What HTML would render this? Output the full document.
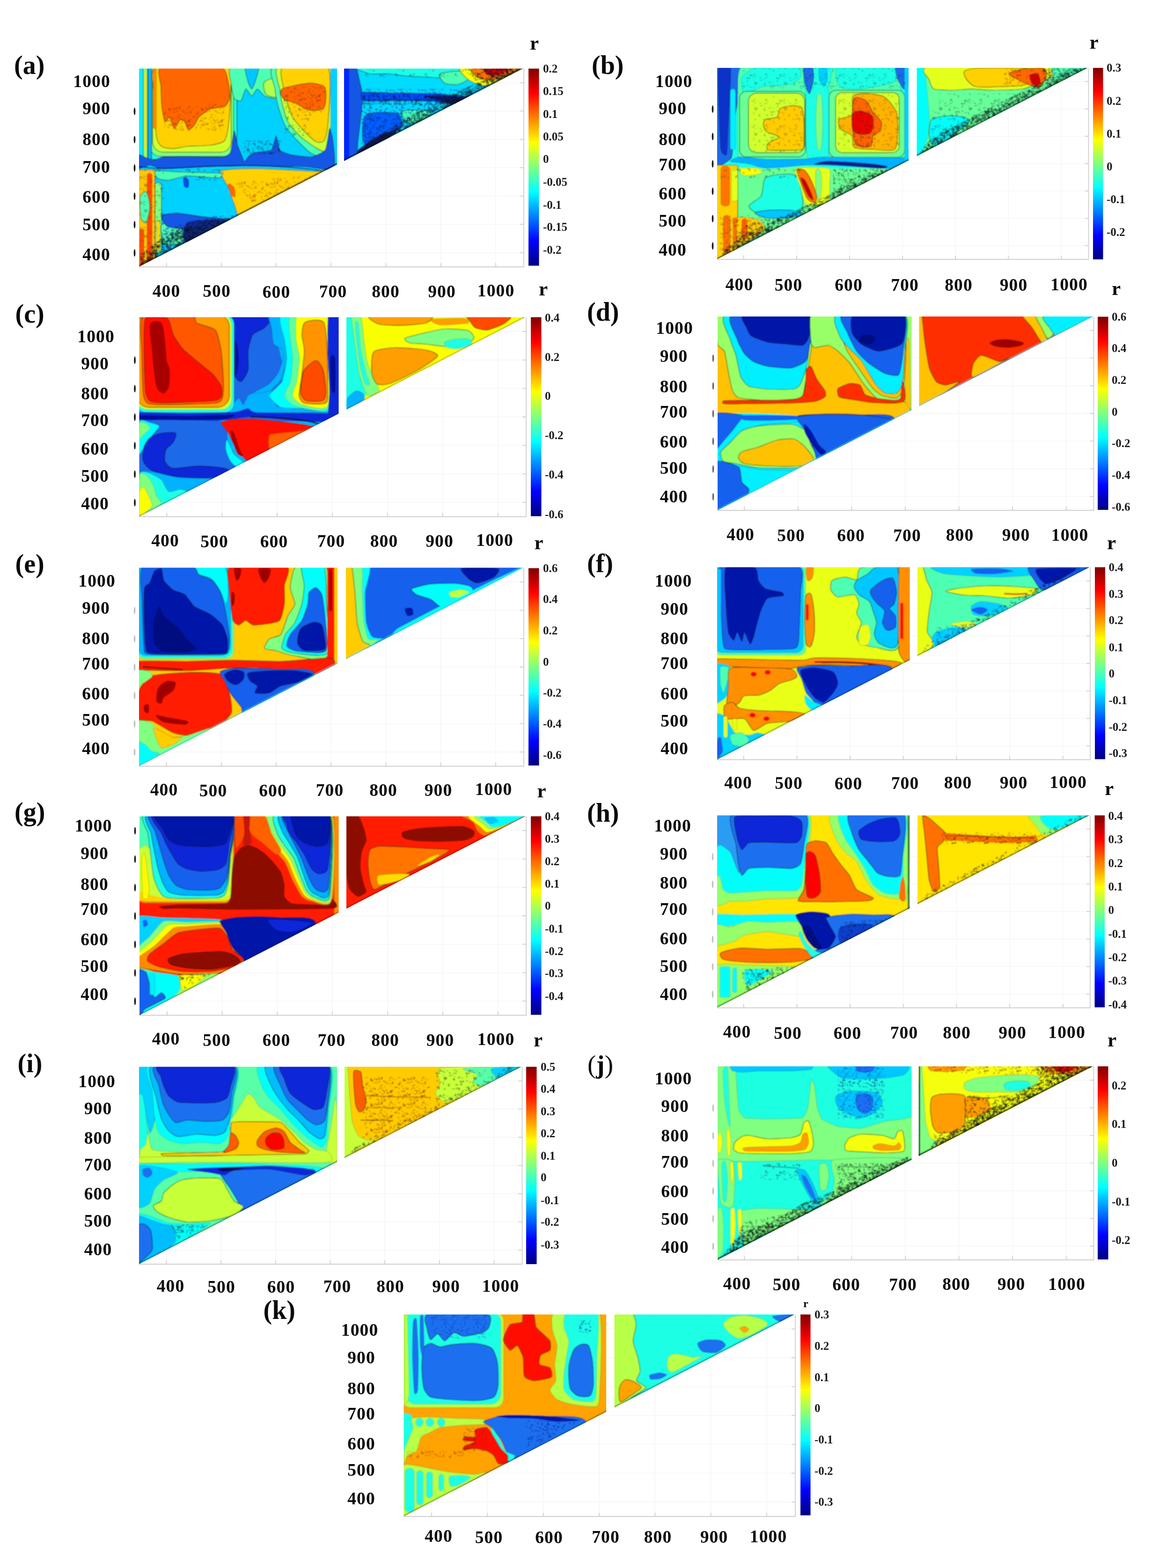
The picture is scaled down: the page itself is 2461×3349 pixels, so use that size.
<!DOCTYPE html>
<html lang="en">
<head>
<meta charset="utf-8">
<title>Correlation contour maps (a)-(k)</title>
<style>
html,body{margin:0;padding:0;background:#fff}
svg{display:block}
text{font-family:"Liberation Serif","Times New Roman",serif;font-weight:bold;fill:#0a0a0a;filter:blur(0.45px)}
.t{font-size:37.5px;letter-spacing:1.2px}
.c{font-size:25px;fill:#1a1a1a}
.p{font-size:56px}
</style>
</head>
<body>
<svg width="2461" height="3349" viewBox="0 0 2461 3349">
<defs>
<linearGradient id="jet" x1="0" y1="1" x2="0" y2="0">
<stop offset="0" stop-color="#000080"/>
<stop offset="0.0312" stop-color="#00009f"/>
<stop offset="0.0625" stop-color="#0000bf"/>
<stop offset="0.0938" stop-color="#0000df"/>
<stop offset="0.125" stop-color="#0000ff"/>
<stop offset="0.1562" stop-color="#0020ff"/>
<stop offset="0.1875" stop-color="#0040ff"/>
<stop offset="0.2188" stop-color="#0060ff"/>
<stop offset="0.25" stop-color="#0080ff"/>
<stop offset="0.2812" stop-color="#009fff"/>
<stop offset="0.3125" stop-color="#00bfff"/>
<stop offset="0.3438" stop-color="#00dfff"/>
<stop offset="0.375" stop-color="#00ffff"/>
<stop offset="0.4062" stop-color="#20ffdf"/>
<stop offset="0.4375" stop-color="#40ffbf"/>
<stop offset="0.4688" stop-color="#60ff9f"/>
<stop offset="0.5" stop-color="#80ff80"/>
<stop offset="0.5312" stop-color="#9fff60"/>
<stop offset="0.5625" stop-color="#bfff40"/>
<stop offset="0.5938" stop-color="#dfff20"/>
<stop offset="0.625" stop-color="#ffff00"/>
<stop offset="0.6562" stop-color="#ffdf00"/>
<stop offset="0.6875" stop-color="#ffbf00"/>
<stop offset="0.7188" stop-color="#ff9f00"/>
<stop offset="0.75" stop-color="#ff8000"/>
<stop offset="0.7812" stop-color="#ff6000"/>
<stop offset="0.8125" stop-color="#ff4000"/>
<stop offset="0.8438" stop-color="#ff2000"/>
<stop offset="0.875" stop-color="#ff0000"/>
<stop offset="0.9062" stop-color="#df0000"/>
<stop offset="0.9375" stop-color="#bf0000"/>
<stop offset="0.9688" stop-color="#9f0000"/>
<stop offset="1" stop-color="#800000"/>
</linearGradient>
<filter id="soft" x="0" y="0" width="100%" height="100%" filterUnits="objectBoundingBox"><feGaussianBlur stdDeviation="1.1"/></filter>
<pattern id="mot" width="131" height="113" patternUnits="userSpaceOnUse"><path d="M92 54h2v7h-2zM26 6h3v5h-3zM63 34h8v2h-8zM95 100h2v9h-2zM52 92h9v3h-9zM35 82h3v3h-3zM32 21h8v3h-8zM76 32h4v7h-4zM103 83h10v4h-10zM100 15h5v2h-5zM53 64h3v11h-3zM56 57h3v9h-3zM35 70h4v2h-4zM87 71h6v3h-6zM66 103h3v4h-3zM105 49h11v2h-11zM96 34h3v3h-3zM71 73h2v11h-2zM55 11h6v3h-6zM102 82h7v2h-7zM32 4h10v4h-10zM125 0h11v3h-11zM114 31h2v5h-2zM38 66h2v10h-2zM21 70h2v5h-2zM59 72h4v7h-4zM32 80h9v4h-9zM28 12h11v4h-11zM49 49h12v2h-12zM2 68h10v3h-10zM80 82h2v10h-2zM60 70h9v4h-9zM78 7h10v4h-10zM107 10h9v3h-9zM58 63h8v4h-8zM107 46h2v3h-2zM74 94h2v6h-2zM126 25h6v2h-6zM119 28h7v2h-7zM126 78h6v3h-6zM106 85h12v2h-12zM100 6h12v2h-12zM106 6h2v9h-2zM115 91h4v4h-4zM20 21h5v4h-5zM119 4h9v3h-9zM84 56h3v2h-3zM71 10h4v4h-4zM53 48h7v3h-7zM22 6h2v8h-2zM114 24h10v2h-10zM105 31h3v3h-3zM96 4h3v3h-3zM49 95h12v3h-12zM92 34h12v2h-12zM67 95h3v7h-3zM76 0h4v4h-4zM6 105h10v4h-10zM119 99h7v3h-7zM126 16h2v3h-2zM77 105h2v12h-2zM60 41h3v8h-3zM20 65h5v2h-5zM104 8h3v11h-3zM83 20h2v4h-2zM67 79h4v3h-4zM127 90h2v6h-2zM34 53h6v4h-6zM31 99h3v7h-3zM68 47h7v2h-7zM112 31h6v2h-6zM72 74h4v3h-4zM64 31h6v4h-6zM25 83h3v2h-3zM1 60h2v10h-2zM95 5h2v4h-2zM12 24h4v6h-4zM19 47h5v3h-5zM66 99h2v4h-2zM89 27h8v2h-8zM11 26h2v12h-2zM52 104h8v3h-8zM95 23h2v6h-2zM8 101h10v2h-10zM104 12h4v11h-4zM39 81h5v3h-5zM69 52h4v7h-4zM106 6h12v3h-12zM106 53h8v4h-8zM50 50h2v3h-2zM111 20h4v3h-4zM93 58h2v3h-2zM13 70h9v2h-9zM94 94h5v3h-5zM72 20h4v2h-4zM98 62h2v7h-2zM32 107h3v8h-3zM13 77h3v4h-3zM41 81h2v12h-2zM103 78h3v5h-3zM55 5h11v2h-11zM98 45h6v4h-6zM49 5h4v3h-4zM82 15h10v4h-10zM78 83h12v2h-12zM108 49h3v11h-3zM112 22h12v3h-12zM119 30h12v3h-12zM45 103h4v2h-4zM32 45h4v3h-4zM10 5h2v8h-2zM20 6h3v5h-3zM6 109h12v4h-12zM28 24h10v3h-10zM42 87h2v4h-2zM89 78h2v8h-2zM70 104h7v4h-7zM122 26h12v4h-12zM60 40h6v2h-6zM103 20h3v8h-3zM96 21h3v4h-3zM12 81h3v11h-3zM26 32h4v9h-4zM95 33h8v4h-8zM37 46h4v3h-4zM58 22h2v7h-2zM64 39h4v8h-4zM0 95h5v3h-5zM110 53h3v2h-3zM125 29h2v3h-2zM13 0h7v2h-7zM91 68h12v3h-12zM34 26h10v2h-10zM34 1h2v5h-2zM115 12h5v4h-5zM69 51h2v3h-2zM89 76h3v12h-3zM126 31h3v2h-3zM15 68h5v2h-5zM40 7h2v3h-2z" fill="#0c1420"/></pattern>
<pattern id="mot2" width="127" height="109" patternUnits="userSpaceOnUse"><path d="M4 44h11v2h-11zM111 57h4v8h-4zM21 59h7v4h-7zM29 16h6v4h-6zM24 34h12v2h-12zM92 19h4v8h-4zM77 66h6v3h-6zM122 24h4v2h-4zM123 84h9v2h-9zM18 101h7v3h-7zM35 25h4v3h-4zM26 49h3v3h-3zM109 101h6v4h-6zM80 37h5v3h-5zM77 94h6v3h-6zM89 73h9v2h-9zM85 92h4v12h-4zM109 29h4v4h-4zM58 55h4v3h-4zM31 100h5v3h-5zM108 54h3v4h-3zM109 52h5v4h-5zM41 99h10v2h-10zM4 32h5v4h-5zM100 25h4v4h-4zM58 69h10v4h-10zM2 81h3v11h-3zM43 52h3v6h-3zM87 23h4v4h-4zM78 45h3v7h-3zM48 51h4v3h-4zM117 53h4v8h-4zM74 33h7v4h-7zM51 67h3v10h-3zM27 21h4v4h-4zM24 60h4v6h-4zM104 18h9v3h-9zM37 97h5v3h-5zM45 100h3v9h-3zM87 32h4v5h-4zM61 0h3v8h-3zM31 83h10v3h-10zM54 79h4v8h-4zM19 38h2v4h-2zM105 72h2v11h-2zM106 44h2v3h-2z" fill="#101828"/></pattern>
<pattern id="motd" width="149" height="101" patternUnits="userSpaceOnUse"><path d="M96 84h2v3h-2zM64 2h9v2h-9zM59 45h9v4h-9zM71 38h3v6h-3zM145 20h7v2h-7zM76 36h3v3h-3zM63 20h12v4h-12zM115 27h6v4h-6zM92 5h3v5h-3zM111 17h3v3h-3zM28 19h2v5h-2zM77 19h8v2h-8zM43 59h2v9h-2zM86 82h4v9h-4zM85 4h6v4h-6zM3 4h12v2h-12zM110 89h3v2h-3zM81 8h2v10h-2zM34 67h5v2h-5zM138 18h4v11h-4zM28 67h10v2h-10zM89 27h2v4h-2zM69 90h7v3h-7zM17 5h3v3h-3zM142 46h8v4h-8zM10 83h7v4h-7zM84 88h7v3h-7zM108 40h9v2h-9zM99 97h9v2h-9zM1 30h3v12h-3zM96 30h4v4h-4zM22 79h4v3h-4zM103 88h10v4h-10zM80 58h2v10h-2zM120 65h11v3h-11zM60 80h3v8h-3zM16 50h3v12h-3zM82 9h4v6h-4zM67 33h3v8h-3zM133 75h6v2h-6zM16 96h11v2h-11zM135 21h2v5h-2zM39 84h3v3h-3zM97 46h3v4h-3zM104 19h3v4h-3zM93 45h4v11h-4zM77 57h3v9h-3zM74 57h3v10h-3zM44 97h3v4h-3zM33 46h6v4h-6zM94 66h9v3h-9zM4 71h12v3h-12zM14 75h11v3h-11zM82 32h10v2h-10zM134 81h4v2h-4zM32 54h3v12h-3zM95 5h3v8h-3zM10 91h3v9h-3zM65 45h12v2h-12zM49 91h4v4h-4zM52 42h2v10h-2zM97 50h10v4h-10zM6 13h10v3h-10zM111 53h2v4h-2zM112 50h11v2h-11zM59 94h11v2h-11zM75 70h9v3h-9zM30 11h4v4h-4zM3 13h6v4h-6zM116 7h2v8h-2zM123 7h9v4h-9zM35 52h4v5h-4zM82 42h3v2h-3zM137 35h4v3h-4zM98 32h3v11h-3zM101 65h4v3h-4zM78 38h9v3h-9zM138 32h5v2h-5zM53 68h3v10h-3zM36 46h3v6h-3zM116 90h3v4h-3zM80 1h9v4h-9zM82 4h10v3h-10zM51 90h12v4h-12zM116 51h3v6h-3zM52 7h4v2h-4zM35 9h3v5h-3zM3 92h5v3h-5zM56 86h4v7h-4zM54 68h2v6h-2zM132 12h6v2h-6zM12 53h7v4h-7zM113 87h3v4h-3zM34 5h10v3h-10zM59 74h4v11h-4zM39 39h3v11h-3zM54 19h4v6h-4zM100 4h5v4h-5zM74 28h4v4h-4zM50 59h5v3h-5zM85 86h3v3h-3zM31 84h4v11h-4zM134 9h8v2h-8zM127 11h7v3h-7zM138 96h5v3h-5zM69 98h2v12h-2zM76 4h4v2h-4zM88 24h4v7h-4zM12 22h10v3h-10zM63 42h2v4h-2zM76 8h3v4h-3zM141 14h4v9h-4zM118 4h11v4h-11zM24 52h2v9h-2zM90 9h5v3h-5zM43 84h3v3h-3zM122 38h4v2h-4zM61 14h7v4h-7zM138 15h6v2h-6zM145 68h7v3h-7zM50 36h6v2h-6zM61 93h4v6h-4zM24 1h3v3h-3zM53 88h2v5h-2zM39 33h3v9h-3zM132 14h4v2h-4zM55 29h11v4h-11zM15 31h8v2h-8zM10 27h4v5h-4zM77 43h10v4h-10zM46 1h9v3h-9zM8 11h2v11h-2zM42 19h2v6h-2zM50 28h4v4h-4zM0 61h11v3h-11zM17 96h2v6h-2zM12 46h2v8h-2zM41 63h4v10h-4zM34 33h3v3h-3zM119 87h9v3h-9zM131 38h4v11h-4zM29 8h3v6h-3zM61 25h11v2h-11zM126 73h4v3h-4zM100 84h4v8h-4zM97 51h2v8h-2zM109 39h10v4h-10zM4 14h3v9h-3zM105 77h5v3h-5zM139 27h9v3h-9zM8 37h7v2h-7zM113 52h2v4h-2zM55 87h3v5h-3zM99 34h5v3h-5zM42 28h12v3h-12zM78 63h11v4h-11zM48 20h3v2h-3zM44 13h3v12h-3zM64 94h4v4h-4zM131 85h7v4h-7zM106 9h8v3h-8zM68 37h9v4h-9zM15 83h8v4h-8zM4 7h4v4h-4zM142 48h11v2h-11zM117 4h3v5h-3zM1 34h12v4h-12zM130 5h2v12h-2zM71 80h3v11h-3zM6 53h9v4h-9zM21 86h3v8h-3zM71 41h12v3h-12zM12 68h5v2h-5zM132 7h11v2h-11zM79 6h9v3h-9zM47 34h10v2h-10zM82 56h7v3h-7zM100 40h10v3h-10zM28 26h4v10h-4zM128 52h3v3h-3zM38 35h3v11h-3zM105 96h9v3h-9zM101 67h4v4h-4zM66 57h2v11h-2zM145 39h8v3h-8zM62 8h2v12h-2zM105 91h7v2h-7zM45 92h4v4h-4zM103 50h4v8h-4zM102 50h8v3h-8zM47 91h4v11h-4zM105 85h3v5h-3zM54 43h3v4h-3zM128 0h4v6h-4zM110 51h7v4h-7zM33 19h6v4h-6zM31 36h4v9h-4zM73 16h4v9h-4zM70 91h12v4h-12zM130 34h2v7h-2zM24 46h2v8h-2zM5 89h4v3h-4zM55 0h5v3h-5zM70 64h10v4h-10zM142 76h2v11h-2zM119 14h7v4h-7zM87 42h6v2h-6zM142 26h12v4h-12zM7 28h2v11h-2zM68 54h7v4h-7zM22 74h9v4h-9zM104 28h2v8h-2zM136 42h3v4h-3zM122 73h10v4h-10zM116 24h6v2h-6zM103 21h6v2h-6zM132 2h6v4h-6zM50 98h11v4h-11zM75 95h2v12h-2zM4 8h9v2h-9zM137 33h5v4h-5zM80 45h3v4h-3zM44 88h3v4h-3zM116 98h4v2h-4zM93 60h4v3h-4zM81 60h2v4h-2zM135 72h9v2h-9zM90 32h2v7h-2zM132 55h4v9h-4zM41 55h3v2h-3zM54 93h9v2h-9zM2 11h3v2h-3zM136 9h3v12h-3zM143 59h6v2h-6zM62 26h3v4h-3zM25 75h2v10h-2zM116 73h10v2h-10zM145 92h3v5h-3zM102 83h4v6h-4zM120 88h4v5h-4zM30 63h4v4h-4zM61 29h12v4h-12zM57 81h4v3h-4zM62 12h2v3h-2zM9 59h6v2h-6zM11 71h3v7h-3zM10 19h10v2h-10zM24 23h11v2h-11zM131 41h9v2h-9zM18 3h4v4h-4zM143 79h4v4h-4zM13 84h7v3h-7zM101 85h6v2h-6zM47 64h3v6h-3zM31 90h2v9h-2zM28 78h4v11h-4zM90 86h6v2h-6zM22 47h7v3h-7zM37 63h3v6h-3zM1 10h4v4h-4zM54 66h9v4h-9zM53 97h2v3h-2zM15 91h4v5h-4zM110 7h7v3h-7zM65 90h7v3h-7zM7 41h5v3h-5zM41 83h3v12h-3zM83 35h2v9h-2zM137 2h11v3h-11zM84 0h2v8h-2zM20 68h3v3h-3zM108 80h4v4h-4zM31 58h11v2h-11zM137 31h3v11h-3zM22 82h7v2h-7zM66 55h2v12h-2zM112 78h4v7h-4zM100 31h3v2h-3zM53 82h12v2h-12zM17 76h9v3h-9zM19 8h4v3h-4zM18 46h11v2h-11zM126 82h4v7h-4zM115 22h3v7h-3zM101 52h2v10h-2zM24 58h6v2h-6zM99 28h6v3h-6zM85 35h2v4h-2zM22 20h4v12h-4zM79 84h3v2h-3zM123 12h2v9h-2zM65 83h12v2h-12zM15 8h7v2h-7zM90 46h5v2h-5zM94 94h8v2h-8zM133 84h6v2h-6zM73 97h3v2h-3zM49 28h3v6h-3zM120 33h2v4h-2zM96 47h3v3h-3zM112 62h10v4h-10zM125 11h10v3h-10zM44 29h3v2h-3zM48 8h10v3h-10zM61 43h4v4h-4zM56 61h4v12h-4zM96 14h9v4h-9zM14 30h11v3h-11zM54 12h7v3h-7zM117 93h10v4h-10zM81 12h8v2h-8zM30 90h3v7h-3zM46 65h11v2h-11zM120 87h4v6h-4zM127 85h4v8h-4zM37 49h3v3h-3zM94 84h2v6h-2zM4 76h4v3h-4zM55 4h5v2h-5zM77 95h6v2h-6zM102 3h2v8h-2zM123 29h8v4h-8zM125 86h4v6h-4zM49 60h10v3h-10zM57 96h9v2h-9zM87 52h2v12h-2zM95 98h3v2h-3zM66 77h11v4h-11zM98 17h11v2h-11zM70 53h5v4h-5zM34 74h3v2h-3zM59 54h12v3h-12zM104 32h4v6h-4zM38 95h9v2h-9zM13 55h2v3h-2zM74 9h5v2h-5zM107 9h7v4h-7zM131 74h6v3h-6zM135 75h3v11h-3zM142 24h12v3h-12zM97 23h3v6h-3zM105 46h3v4h-3zM14 79h2v8h-2zM2 56h5v3h-5zM83 29h2v6h-2zM138 52h5v4h-5zM59 47h3v9h-3zM126 98h6v4h-6zM55 34h11v2h-11zM103 78h4v3h-4zM116 42h8v3h-8zM111 40h10v4h-10zM4 86h2v9h-2zM94 14h3v11h-3zM52 81h12v2h-12zM94 98h4v7h-4zM41 8h4v12h-4zM11 25h4v11h-4zM105 92h3v2h-3zM1 22h6v2h-6z" fill="#0a1018"/></pattern>
<pattern id="motb" width="137" height="103" patternUnits="userSpaceOnUse"><path d="M65 49h4v7h-4zM4 47h2v8h-2zM3 35h3v10h-3zM41 88h4v2h-4zM53 7h2v5h-2zM79 29h9v3h-9zM31 93h2v5h-2zM22 98h3v6h-3zM10 95h9v3h-9zM23 80h2v12h-2zM32 38h3v2h-3zM31 4h5v2h-5zM118 20h6v4h-6zM91 86h2v8h-2zM30 55h9v3h-9zM114 29h3v4h-3zM44 21h5v3h-5zM15 57h3v3h-3zM3 57h3v4h-3zM86 84h5v2h-5zM132 18h9v2h-9zM1 64h4v11h-4zM1 46h6v4h-6zM97 93h3v10h-3zM41 40h2v7h-2zM54 85h2v12h-2zM83 40h4v7h-4zM86 20h11v3h-11zM70 10h3v2h-3zM109 97h9v3h-9zM129 54h2v4h-2zM34 13h4v4h-4zM111 56h3v4h-3zM114 83h3v3h-3zM76 27h7v3h-7zM94 26h4v11h-4zM109 98h7v3h-7zM81 51h4v10h-4zM30 5h2v7h-2zM13 77h4v5h-4zM90 81h2v7h-2zM129 4h3v2h-3zM20 4h12v3h-12zM20 93h12v2h-12zM34 82h2v5h-2zM128 33h5v2h-5zM121 100h7v2h-7zM56 20h4v7h-4zM16 80h12v3h-12zM54 12h10v3h-10zM15 95h10v3h-10zM50 33h4v4h-4zM81 51h2v10h-2zM120 63h4v8h-4zM25 70h12v3h-12zM41 43h3v9h-3zM28 17h7v3h-7zM98 73h8v2h-8zM81 26h7v3h-7zM94 72h4v8h-4zM123 81h5v3h-5zM48 77h7v4h-7zM62 90h2v9h-2zM2 26h6v4h-6zM129 84h6v4h-6zM28 87h4v2h-4zM0 34h9v2h-9zM71 40h4v3h-4zM131 53h12v4h-12zM46 1h5v2h-5zM26 26h3v12h-3zM131 41h3v9h-3zM6 8h9v2h-9zM69 65h8v4h-8zM5 3h3v12h-3zM98 20h8v4h-8zM34 45h3v7h-3zM36 20h5v2h-5zM31 20h12v4h-12zM24 71h10v4h-10zM3 93h9v2h-9zM60 96h8v2h-8zM23 61h9v3h-9zM121 97h3v3h-3zM128 30h4v5h-4zM50 8h8v2h-8zM86 83h7v2h-7zM131 99h2v5h-2zM44 39h4v4h-4zM131 54h4v3h-4zM127 15h4v5h-4zM14 36h8v2h-8zM26 66h4v6h-4zM130 51h6v3h-6zM66 84h6v3h-6zM0 89h9v2h-9zM50 52h7v3h-7zM85 31h8v2h-8zM9 51h9v2h-9zM39 10h11v2h-11zM67 80h11v4h-11zM125 32h10v4h-10zM114 37h12v3h-12zM32 18h9v2h-9zM6 89h3v4h-3zM19 14h2v3h-2zM56 74h3v8h-3zM43 89h3v7h-3zM41 56h3v2h-3zM23 69h2v5h-2z" fill="#0a2aa8"/></pattern>
<pattern id="motr" width="139" height="107" patternUnits="userSpaceOnUse"><path d="M81 28h3v9h-3zM71 19h12v2h-12zM41 60h6v3h-6zM128 62h2v6h-2zM113 4h4v12h-4zM26 68h7v4h-7zM58 73h8v3h-8zM26 61h4v5h-4zM78 19h4v2h-4zM12 25h4v3h-4zM64 11h5v3h-5zM0 38h2v8h-2zM62 100h3v4h-3zM57 1h4v3h-4zM125 99h6v2h-6zM89 4h9v3h-9zM100 28h4v4h-4zM131 95h9v4h-9zM135 96h5v3h-5zM104 27h4v6h-4zM118 73h4v11h-4zM30 10h3v3h-3zM3 33h4v5h-4zM49 60h3v9h-3zM52 18h4v3h-4zM75 2h8v4h-8zM59 43h3v4h-3zM20 36h7v3h-7zM41 14h4v3h-4zM6 99h3v5h-3zM101 81h9v2h-9zM30 66h10v3h-10zM98 13h6v3h-6zM51 41h9v3h-9zM132 96h4v4h-4zM10 83h6v2h-6zM112 49h3v8h-3zM39 77h9v2h-9zM69 30h3v3h-3zM20 4h4v7h-4zM112 90h2v4h-2zM103 38h3v3h-3zM93 16h2v3h-2zM6 19h4v2h-4zM49 77h5v3h-5zM106 56h6v3h-6zM12 72h2v11h-2zM104 39h4v2h-4zM109 8h6v4h-6zM71 86h5v4h-5zM111 2h12v3h-12zM76 70h11v2h-11zM24 102h8v2h-8zM94 14h11v3h-11zM78 47h11v3h-11zM61 55h3v12h-3zM52 17h4v5h-4zM3 10h5v3h-5zM66 88h2v9h-2zM118 22h2v7h-2zM26 23h11v4h-11zM107 5h3v9h-3zM108 25h11v4h-11zM73 51h3v11h-3zM101 24h5v4h-5zM86 71h4v2h-4zM19 91h5v3h-5zM68 100h8v3h-8zM94 102h2v11h-2zM45 21h12v4h-12zM54 61h4v4h-4zM39 18h2v8h-2zM73 38h6v3h-6zM3 55h10v2h-10zM112 80h3v2h-3zM58 51h3v4h-3zM25 59h4v11h-4zM23 31h6v2h-6zM95 73h2v12h-2zM5 80h4v10h-4zM37 104h11v3h-11zM68 44h6v2h-6zM85 76h6v3h-6zM83 6h3v11h-3zM26 4h7v4h-7zM70 55h3v10h-3zM118 59h3v4h-3zM44 103h5v2h-5zM34 26h8v2h-8zM85 93h3v4h-3zM44 104h2v10h-2zM19 8h3v3h-3zM105 64h3v6h-3zM35 99h9v2h-9zM86 39h3v9h-3z" fill="#8a1a08"/></pattern>
<clipPath id="cp_a"><path d="M297 146.5L720 146.5L720 351.7L297 570ZM735 146.5L1117.5 146.5L735 343.9Z"/></clipPath>
<clipPath id="cp_b"><path d="M1532 145L1941 145L1941 342.8L1532 554ZM1958.5 145L2324 145L1958.5 333.7Z"/></clipPath>
<clipPath id="cp_c"><path d="M297.5 677.5L723.5 677.5L723.5 883.5L297.5 1103.5ZM740 677.5L1122.5 677.5L740 875Z"/></clipPath>
<clipPath id="cp_d"><path d="M1533 676L1947.5 676L1947.5 876L1533 1090ZM1963.5 676L2335 676L1963.5 867.8Z"/></clipPath>
<clipPath id="cp_e"><path d="M297 1212.5L721 1212.5L721 1417.4L297 1636.5ZM739 1212.5L1117.5 1212.5L739 1408.1Z"/></clipPath>
<clipPath id="cp_f"><path d="M1532 1211.5L1943.5 1211.5L1943.5 1409.9L1532 1622.5ZM1960 1211.5L2327.5 1211.5L1960 1401.4Z"/></clipPath>
<clipPath id="cp_g"><path d="M298 1743.5L723.5 1743.5L723.5 1949.2L298 2168.5ZM740 1743.5L1122.5 1743.5L740 1940.7Z"/></clipPath>
<clipPath id="cp_h"><path d="M1532 1741.5L1943.5 1741.5L1943.5 1939.9L1532 2152.5ZM1960 1741.5L2327.5 1741.5L1960 1931.4Z"/></clipPath>
<clipPath id="cp_i"><path d="M297 2278.5L720 2278.5L720 2481.8L297 2700ZM736 2278.5L1114 2278.5L736 2473.5Z"/></clipPath>
<clipPath id="cp_j"><path d="M1533 2277.5L1947.5 2277.5L1947.5 2477.3L1533 2691ZM1962.5 2277.5L2335 2277.5L1962.5 2469.6Z"/></clipPath>
<clipPath id="cp_k"><path d="M862.5 2807.5L1295 2807.5L1295 3015.5L862.5 3239ZM1312.5 2807.5L1697.5 2807.5L1312.5 3006.5Z"/></clipPath>
</defs>
<rect width="2461" height="3349" fill="#fff"/>
<!-- panel a -->
<g>
<path d="M355.6 146.5V570M297 539.8H1119M472.8 146.5V570M297 479.2H1119M590 146.5V570M297 418.8H1119M707.2 146.5V570M297 358.2H1119M824.5 146.5V570M297 297.8H1119M941.7 146.5V570M297 237.2H1119M1058.9 146.5V570M297 176.8H1119" stroke="#f5f5f5" stroke-width="1.4" fill="none"/>
<path d="M297 570H1119V146.5M355.6 570v-8M1119 539.8h-8M472.8 570v-8M1119 479.2h-8M590 570v-8M1119 418.8h-8M707.2 570v-8M1119 358.2h-8M824.5 570v-8M1119 297.8h-8M941.7 570v-8M1119 237.2h-8M1058.9 570v-8M1119 176.8h-8" stroke="#cfcfcf" stroke-width="1.8" fill="none"/>
<g clip-path="url(#cp_a)"><g filter="url(#soft)">
<rect x="290" y="140" width="840" height="440" fill="#00d1ff"/>
<g transform="translate(0 40) scale(0.5)">
<rect x="580" y="190" width="432" height="410" rx="30" fill="#1affe5" stroke="#111" stroke-width="2.5" stroke-opacity="0.75"/>
<rect x="640" y="190" width="358" height="398" rx="45" fill="#80ff80" stroke="#111" stroke-width="2.5" stroke-opacity="0.75"/>
<rect x="652" y="190" width="336" height="380" rx="45" fill="#d1ff2e" stroke="#111" stroke-width="2.5" stroke-opacity="0.75"/>
<path d="M668 200C704.5 182.5 938 188.3 975 200C1012 211.7 984.6 272 985 300C985.4 328 980.9 414.3 978 440C975.1 465.7 969.1 508.3 960 520C950.9 531.7 918.7 537.1 900 540C881.3 542.9 818.7 543.2 800 545C781.3 546.8 752.8 555 740 555C727.2 555 698.4 551.4 690 545C681.6 538.6 671.3 522.8 668 500C664.7 477.2 662 385 662 350C662 315 631.5 217.5 668 200Z" fill="#ffd100" stroke="#111" stroke-width="2.5" stroke-opacity="0.75"/>
<path d="M690 205C715.2 196.5 911.5 198.5 940 205C968.5 211.5 971 256.5 975 270C979 283.5 981.5 329.5 980 340C978.5 350.5 968 370.5 960 375C952 379.5 911 380.5 900 385C889 389.5 857 413 850 420C843 427 834.5 449.5 830 455C825.5 460.5 809 476.5 805 475C801 473.5 793.5 444.5 790 440C786.5 435.5 774.5 427 770 430C765.5 433 749.5 471 745 470C740.5 469 729 423 725 420C721 417 708.3 444 705 440C701.7 436 693.7 395 692 380C690.3 365 688.2 307.5 688 290C687.8 272.5 664.8 213.5 690 205Z" fill="#ff6600" stroke="#111" stroke-width="2.5" stroke-opacity="0.75"/>
<rect x="594" y="200" width="18" height="400" fill="#00f0ff"/>
<rect x="612" y="200" width="18" height="400" rx="8" fill="#94ff6b" stroke="#111" stroke-width="2.5" stroke-opacity="0.75"/>
<rect x="617" y="230" width="9" height="330" rx="4" fill="#ffdb00"/>
<rect x="632" y="200" width="16" height="400" rx="6" fill="#00b2ff" stroke="#111" stroke-width="2.5" stroke-opacity="0.75"/>
<rect x="655" y="210" width="13" height="260" rx="6" fill="#ff8a00" stroke="#111" stroke-width="0.8" stroke-opacity="0.75"/>
<path d="M990 205C1012.2 197.5 1189 195.5 1210 205C1231 214.5 1203 286.5 1200 300C1197 313.5 1187 337 1180 340C1173 343 1138 334 1130 330C1122 326 1105.5 300 1100 300C1094.5 300 1080 330 1075 330C1070 330 1054.5 298 1050 300C1045.5 302 1035 346 1030 350C1025 354 1004.2 347 1000 340C995.8 333 989 293.5 988 280C987 266.5 967.8 212.5 990 205Z" fill="#4dffb2" stroke="#111" stroke-width="2.5" stroke-opacity="0.75"/>
<path d="M1048 205C1052.5 198.5 1100.8 198.5 1105 205C1109.2 211.5 1093 260.5 1090 270C1087 279.5 1078 300 1075 300C1072 300 1062.7 279.5 1060 270C1057.3 260.5 1043.5 211.5 1048 205Z" fill="#00c7ff" stroke="#111" stroke-width="2.5" stroke-opacity="0.75"/>
<path d="M1130 270C1138.7 260.7 1190 243.3 1200 250C1210 256.7 1209 308.7 1205 320C1201 331.3 1179.3 335 1170 335C1160.7 335 1140.3 328.7 1135 320C1129.7 311.3 1121.3 279.3 1130 270Z" fill="#b3ff4c" stroke="#111" stroke-width="2.5" stroke-opacity="0.75"/>
<path d="M1170 205C1199.2 193.9 1395.2 172.9 1425 205C1454.8 237.1 1427.9 435.1 1425 480C1422.1 524.9 1411.1 578.9 1400 590C1388.9 601.1 1345.2 583.2 1330 575C1314.8 566.8 1282.8 533.4 1270 520C1257.2 506.6 1229.3 476.3 1220 460C1210.7 443.7 1195.2 398.7 1190 380C1184.8 361.3 1177.3 320.4 1175 300C1172.7 279.6 1140.8 216.1 1170 205Z" fill="#4dffb2" stroke="#111" stroke-width="2.5" stroke-opacity="0.75"/>
<path d="M1190 205C1215.7 193.9 1389.1 174.1 1415 205C1440.9 235.9 1414.9 428 1412 470C1409.1 512 1398.4 556.2 1390 565C1381.6 573.8 1352.8 552.6 1340 545C1327.2 537.4 1292.8 512.2 1280 500C1267.2 487.8 1238.8 456.3 1230 440C1221.2 423.7 1209.1 376.3 1205 360C1200.9 343.7 1196.8 318.1 1195 300C1193.2 281.9 1164.3 216.1 1190 205Z" fill="#c7ff38" stroke="#111" stroke-width="2.5" stroke-opacity="0.75"/>
<path d="M1210 205C1231.9 193.9 1377.6 177.6 1400 205C1422.4 232.4 1403.8 403.2 1402 440C1400.2 476.8 1391.1 510.1 1385 520C1378.9 529.9 1359.9 529.7 1350 525C1340.1 520.3 1311.7 492.2 1300 480C1288.3 467.8 1258.8 435.2 1250 420C1241.2 404.8 1229.4 364 1225 350C1220.6 336 1213.8 316.9 1212 300C1210.2 283.1 1188.1 216.1 1210 205Z" fill="#ffd100" stroke="#111" stroke-width="2.5" stroke-opacity="0.75"/>
<path d="M1205 300C1213 295.3 1243.3 288.3 1260 285C1276.7 281.7 1313.3 274.3 1330 275C1346.7 275.7 1376.7 281.3 1385 290C1393.3 298.7 1392.7 327.3 1392 340C1391.3 352.7 1389.6 378.3 1380 385C1370.4 391.7 1336 393.3 1320 390C1304 386.7 1274 366 1260 360C1246 354 1223 350.3 1215 345C1207 339.7 1201.3 326 1200 320C1198.7 314 1197 304.7 1205 300Z" fill="#ff6600" stroke="#111" stroke-width="2.5" stroke-opacity="0.75"/>
<rect x="1412" y="205" width="33" height="435" fill="#00d1ff" stroke="#111" stroke-width="0.8" stroke-opacity="0.75"/>
<path d="M590 580C596 576.5 639 604 650 605C661 606 685 591.7 700 590C715 588.3 775 588 800 588C825 588 931.5 591.8 950 590C968.5 588.2 980 581 985 570C990 559 997 483 1000 480C1003 477 1011.5 529 1015 540C1018.5 551 1032 583 1035 590C1038 597 1042 610.5 1045 610C1048 609.5 1059.5 589 1065 585C1070.5 581 1090.5 572.5 1100 570C1109.5 567.5 1152 567 1160 560C1168 553 1176.5 500 1180 500C1183.5 500 1189 552 1195 560C1201 568 1226.5 577 1240 580C1253.5 583 1315 592 1330 590C1345 588 1382.2 572 1390 560C1397.8 548 1404.8 474 1408 470C1411.2 466 1420.3 503 1422 520C1423.7 537 1437.2 628.8 1425 640C1412.8 651.2 1332.5 633.2 1300 632C1267.5 630.8 1140 628 1100 628C1060 628 940 630.8 900 632C860 633.2 726 640.7 700 640C674 639.3 651 625 640 625C629 625 595 644.5 590 640C585 635.5 584 583.5 590 580Z" fill="#1456e4" stroke="#111" stroke-width="2.5" stroke-opacity="0.75"/>
<path d="M594 632C611.7 633.3 649 640.3 700 640C751 639.7 833.3 632 900 630C966.7 628 1033.3 626.3 1100 628C1166.7 629.7 1250 635.5 1300 640C1350 644.5 1383.3 652.5 1400 655" fill="none" stroke="#0a1a70" stroke-width="5" stroke-opacity="0.75"/>
<path d="M945 650C957.5 642 1060.5 639.8 1100 640C1139.5 640.2 1308 650 1340 652C1372 654 1412 635.2 1420 660C1428 684.8 1456 876 1420 900C1384 924 1102 911 1060 900C1018 889 1008.5 808 1000 790C991.5 772 980.5 734 975 720C969.5 706 932.5 658 945 650Z" fill="#ffd100" stroke="#111" stroke-width="2.5" stroke-opacity="0.75"/>
<path d="M975 705C977 701 996 712.7 1000 720C1004 727.3 1007 756 1005 760C1003 764 989 757.3 985 750C981 742.7 973 709 975 705Z" fill="#ff6600" stroke="#111" stroke-width="0.6" stroke-opacity="0.75"/>
<path d="M660 650C674.7 646.7 742.7 653.7 780 655C817.3 656.3 920 656.7 940 660C960 663.3 948.7 678.4 930 680C911.3 681.6 828 670.7 800 672C772 673.3 737.3 688.9 720 690C702.7 691.1 678 685.3 670 680C662 674.7 645.3 653.3 660 650Z" fill="#4dffb2" stroke="#111" stroke-width="2.5" stroke-opacity="0.75"/>
<rect x="580" y="645" width="82" height="425" rx="10" fill="#ffc700" stroke="#111" stroke-width="2.5" stroke-opacity="0.75"/>
<rect x="628" y="660" width="22" height="410" rx="10" fill="#ff4c00" stroke="#111" stroke-width="0.8" stroke-opacity="0.75"/>
<rect x="596" y="900" width="19" height="170" rx="8" fill="#ff4c00" stroke="#111" stroke-width="0.8" stroke-opacity="0.75"/>
<path d="M600 760C603.1 745.3 619.7 734.7 625 740C630.3 745.3 640 782.7 640 800C640 817.3 630.1 863.3 625 870C619.9 876.7 605.3 864.7 602 850C598.7 835.3 596.9 774.7 600 760Z" fill="#4dffb2" stroke="#111" stroke-width="2.5" stroke-opacity="0.75"/>
<rect x="662" y="700" width="28" height="300" rx="10" fill="#80ff80" stroke="#111" stroke-width="2.5" stroke-opacity="0.75"/>
<rect x="668" y="860" width="16" height="130" rx="8" fill="#ffdb00" stroke="#111" stroke-width="0.8" stroke-opacity="0.75"/>
<path d="M690 880C696 871 750 868 760 870C770 872 787 891 790 900C793 909 799 954 790 960C781 966 710 968 700 960C690 952 684 889 690 880Z" fill="#4dffb2" stroke="#111" stroke-width="2.5" stroke-opacity="0.75"/>
<path d="M690 840C696 836 743 829.5 760 830C777 830.5 840 842.5 860 845C880 847.5 946 852.5 960 855C974 857.5 1006 865.5 1000 870C994 874.5 920 897 900 900C880 903 818 901 800 900C782 899 730 893 720 890C710 887 703 875 700 870C697 865 684 844 690 840Z" fill="#1456e4" stroke="#111" stroke-width="2.5" stroke-opacity="0.9"/>
<path d="M800 870C812 862.8 881.5 858.2 900 858C918.5 857.8 982 863.8 985 868C988 872.2 942.5 893.3 930 900C917.5 906.7 873 929 860 935C847 941 808 960.5 800 960C792 959.5 780 939 780 930C780 921 788 877.2 800 870Z" fill="#0d2a8c"/>
<path d="M785 680C787.3 676.7 802.6 684.7 805 690C807.4 695.3 805.3 716.7 803 720C800.7 723.3 790.4 720.3 788 715C785.6 709.7 782.7 683.3 785 680Z" fill="#004dff" stroke="#111" stroke-width="2.5" stroke-opacity="0.75"/>
<path d="M610 1052L690 930L760 880L900 850L1010 850L1010 860Z" fill="url(#mot)" fill-opacity="0.9"/>
<path d="M690 900L900 840L1000 840L880 920L700 1000Z" fill="url(#motb)" fill-opacity="0.9"/>
<path d="M790 640L960 640L960 690L790 690Z" fill="url(#mot2)" fill-opacity="0.8"/>
<path d="M700 380L960 360L960 480L700 480Z" fill="url(#motr)" fill-opacity="0.55"/>
<path d="M1210 290L1390 290L1390 400L1210 400Z" fill="url(#motr)" fill-opacity="0.6"/>
<path d="M1000 700L1380 660L1100 805Z" fill="url(#motr)" fill-opacity="0.6"/>
<path d="M1040 520L1200 520L1200 580L1040 580Z" fill="url(#mot)" fill-opacity="0.6"/>
<path d="M1210 400L1330 400L1330 500L1210 500Z" fill="url(#mot2)" fill-opacity="0.6"/>
<path d="M596 640L700 640L700 1000L596 1050Z" fill="url(#mot2)" fill-opacity="0.5"/>
<path d="M600 1056L1000 850L900 860L760 900L660 960L600 1010Z" fill="url(#motd)" fill-opacity="0.9"/>
</g>
<g transform="translate(640 40) scale(0.5)">
<rect x="180" y="200" width="800" height="440" fill="#00dbff"/>
<path d="M250 205C290 202 653 201.5 700 205C747 208.5 726 235 720 240C714 245 656 254 640 255C624 256 578 251 560 250C542 249 478 246.5 460 245C442 243.5 396 236 380 235C364 234 313 238 300 235C287 232 210 208 250 205Z" fill="#1affe5" stroke="#111" stroke-width="2.5" stroke-opacity="0.75"/>
<path d="M600 235C609.3 228.3 672.7 223 690 225C707.3 227 731.3 242.7 730 250C728.7 257.3 694.7 276.7 680 280C665.3 283.3 630.7 281 620 275C609.3 269 590.7 241.7 600 235Z" fill="#4dffb2" stroke="#111" stroke-width="2.5" stroke-opacity="0.75"/>
<path d="M185 200C190.5 158.5 233 199 240 205C247 211 252 247.5 255 260C258 272.5 269.3 314 270 330C270.7 346 264 401 262 420C260 439 252.2 502 250 520C247.8 538 246.5 590 240 600C233.5 610 190.5 660 185 620C179.5 580 179.5 241.5 185 200Z" fill="#1456e4" stroke="#111" stroke-width="2.5" stroke-opacity="0.75"/>
<rect x="188" y="205" width="24" height="415" fill="#0024ff"/>
<path d="M270 315C282.5 311.8 371 317.5 400 318C429 318.5 530 318.8 560 320C590 321.2 682 327.5 700 330C718 332.5 740 341 740 345C740 349 718 369.3 700 370C682 370.7 590 354 560 352C530 350 428.5 350.2 400 350C371.5 349.8 288 353.5 275 350C262 346.5 257.5 318.2 270 315Z" fill="#004dff" stroke="#111" stroke-width="2.5" stroke-opacity="0.9"/>
<path d="M530 330C534 327.6 621 326.5 640 328C659 329.5 715 341 720 345C725 349 702 367.3 690 368C678 368.7 616 355.8 600 352C584 348.2 526 332.4 530 330Z" fill="#0b1668"/>
<path d="M275 420C281 408 315.5 401.5 330 400C344.5 398.5 409 399 420 405C431 411 444 450.5 440 460C436 469.5 394 492 380 500C366 508 311 538 300 540C289 542 272.5 532 270 520C267.5 508 269 432 275 420Z" fill="#0061ff" stroke="#111" stroke-width="2.5" stroke-opacity="0.75"/>
<path d="M440 395C449.3 388.3 504 389.3 520 390C536 390.7 560 393.3 560 400C560 406.7 534.7 434.7 520 440C505.3 445.3 460.7 446 450 440C439.3 434 430.7 401.7 440 395Z" fill="#42ffbd" stroke="#111" stroke-width="2.5" stroke-opacity="0.75"/>
<path d="M250 560C257 551.5 313 514 330 505C347 496 415 469 420 470C425 471 396 503 380 515C364 527 273 585.5 260 590C247 594.5 243 568.5 250 560Z" fill="#0b1668"/>
<path d="M690 205C714 199.5 939 201 960 205C981 209 912 238 900 245C888 252 852 271 840 275C828 279 792 286.5 780 285C768 283.5 729 268 720 260C711 252 666 210.5 690 205Z" fill="#faff05" stroke="#111" stroke-width="2.5" stroke-opacity="0.75"/>
<path d="M740 212C758 208 926 206.7 940 210C954 213.3 893 239.8 880 245C867 250.2 822 261.5 810 262C798 262.5 767 255 760 250C753 245 722 216 740 212Z" fill="#ff7500" stroke="#111" stroke-width="2.5" stroke-opacity="0.75"/>
<path d="M790 215C800 212.4 894 211.5 900 214C906 216.5 860 237.4 850 240C840 242.6 806 242.5 800 240C794 237.5 780 217.6 790 215Z" fill="#e50000" stroke="#111" stroke-width="0.6" stroke-opacity="0.75"/>
<path d="M270 310L740 320L760 345L700 375L270 365Z" fill="url(#mot)" fill-opacity="0.95"/>
<path d="M270 300L760 300L700 380L270 380Z" fill="url(#motb)" fill-opacity="0.9"/>
<path d="M265 380L600 380L420 470L265 560Z" fill="url(#motb)" fill-opacity="0.9"/>
<path d="M265 400L560 400L265 560Z" fill="url(#mot2)" fill-opacity="0.9"/>
<path d="M690 205L960 205L780 295Z" fill="url(#mot)" fill-opacity="0.85"/>
<path d="M240 575L960 205L960 222L700 330L400 470L240 600Z" fill="url(#mot)" fill-opacity="0.9"/>
<path d="M260 215L700 215L700 250L260 250Z" fill="url(#mot2)" fill-opacity="0.6"/>
<path d="M240 580L955 213L900 213L700 300L500 400L300 520Z" fill="url(#motd)" fill-opacity="0.9"/>
<path d="M760 205L955 205L840 265Z" fill="url(#motd)" fill-opacity="0.8"/>
</g>
<path d="M297 568.2L1117.5 144.8" stroke="#101418" stroke-opacity="0.85" stroke-width="3.5" fill="none"/>
</g></g>
<text class="t" text-anchor="end" x="236" y="185.5">1000</text>
<text class="t" text-anchor="end" x="236" y="244">900</text>
<text class="t" text-anchor="end" x="236" y="310">800</text>
<text class="t" text-anchor="end" x="236" y="369">700</text>
<text class="t" text-anchor="end" x="236" y="432.5">600</text>
<text class="t" text-anchor="end" x="236" y="491.5">500</text>
<text class="t" text-anchor="end" x="236" y="555.5">400</text>
<text class="t" text-anchor="middle" x="355.6" y="634">400</text>
<text class="t" text-anchor="middle" x="463.1" y="634">500</text>
<text class="t" text-anchor="middle" x="590.6" y="636">600</text>
<text class="t" text-anchor="middle" x="711.6" y="635">700</text>
<text class="t" text-anchor="middle" x="824.1" y="635">800</text>
<text class="t" text-anchor="middle" x="944.1" y="635">900</text>
<text class="t" text-anchor="middle" x="1059.6" y="632.5">1000</text>
<text class="c" x="1160" y="154.5">0.2</text>
<text class="c" x="1160" y="203">0.15</text>
<text class="c" x="1160" y="252">0.1</text>
<text class="c" x="1160" y="299.5">0.05</text>
<text class="c" x="1160" y="348">0</text>
<text class="c" x="1160" y="396.5">-0.05</text>
<text class="c" x="1160" y="445.5">-0.1</text>
<text class="c" x="1160" y="493">-0.15</text>
<text class="c" x="1160" y="542">-0.2</text>
<text class="r" style="font-size:43px" x="1132" y="106">r</text>
<text class="p" x="30" y="157.5">(a)</text>
<rect x="1129" y="146.5" width="22.5" height="421" fill="url(#jet)"/>
<ellipse cx="287.5" cy="540.2" rx="1.9" ry="8" fill="#1c1c1c"/>
<ellipse cx="287.5" cy="479.8" rx="1.9" ry="8" fill="#1c1c1c"/>
<ellipse cx="287.5" cy="419.2" rx="1.9" ry="8" fill="#1c1c1c"/>
<ellipse cx="287.5" cy="358.8" rx="1.9" ry="8" fill="#1c1c1c"/>
<ellipse cx="287.5" cy="298.2" rx="1.9" ry="8" fill="#1c1c1c"/>
<ellipse cx="287.5" cy="237.8" rx="1.9" ry="8" fill="#1c1c1c"/>
</g>
<!-- panel b -->
<g>
<path d="M1588.6 145V554M1532 524.8H2325.5M1701.7 145V554M1532 466.4H2325.5M1814.9 145V554M1532 407.9H2325.5M1928 145V554M1532 349.5H2325.5M2041.1 145V554M1532 291.1H2325.5M2154.3 145V554M1532 232.6H2325.5M2267.4 145V554M1532 174.2H2325.5" stroke="#f5f5f5" stroke-width="1.4" fill="none"/>
<path d="M1532 554H2325.5V145M1588.6 554v-8M2325.5 524.8h-8M1701.7 554v-8M2325.5 466.4h-8M1814.9 554v-8M2325.5 407.9h-8M1928 554v-8M2325.5 349.5h-8M2041.1 554v-8M2325.5 291.1h-8M2154.3 554v-8M2325.5 232.6h-8M2267.4 554v-8M2325.5 174.2h-8" stroke="#cfcfcf" stroke-width="1.8" fill="none"/>
<g clip-path="url(#cp_b)"><g filter="url(#soft)">
<rect x="1525" y="138" width="810" height="425" fill="#1affe5"/>
<g transform="translate(1240 40) scale(0.5)">
<path d="M575 200C586.5 159 679.5 190 690 200C700.5 210 683 278 680 300C677 322 663 394 660 420C657 446 652 542 650 560C648 578 647.5 595 640 600C632.5 605 581.5 650 575 610C568.5 570 563.5 241 575 200Z" fill="#1a6ae8" stroke="#111" stroke-width="2.5" stroke-opacity="0.75"/>
<path d="M590 205C594.8 185.5 635 195.5 640 205C645 214.5 640.8 275.5 640 300C639.2 324.5 633.5 422 632 450C630.5 478 628.2 569 625 580C621.8 591 603.3 578 600 560C596.7 542 593 435.5 592 400C591 364.5 585.2 224.5 590 205Z" fill="#0a30c8" stroke="#111" stroke-width="0.8" stroke-opacity="0.75"/>
<rect x="640" y="300" width="22" height="260" rx="10" fill="#00f0ff" stroke="#111" stroke-width="0.8" stroke-opacity="0.75"/>
<path d="M690 205C712.3 195.4 917.5 197.1 940 205C962.5 212.9 950 292.9 960 300C970 307.1 1049.2 297.9 1060 290C1070.8 282.1 1066.7 212.1 1090 205C1113.3 197.9 1316.7 197.1 1340 205C1363.3 212.9 1366.2 267.9 1370 300C1373.8 332.1 1410.8 565 1385 590C1359.2 615 1117.1 599.2 1060 600C1002.9 600.8 732.3 603.3 700 600C667.7 596.7 674.3 583.3 672 560C669.7 536.7 670.5 349.6 672 320C673.5 290.4 667.7 214.6 690 205Z" fill="#4dffb2" stroke="#111" stroke-width="0.8" stroke-opacity="0.75"/>
<path d="M760 205C784 200.5 912 200.5 930 205C948 209.5 943 242.5 940 250C937 257.5 916 276 900 280C884 284 800 286 780 290C760 294 709 324 700 320C691 316 684 261.5 690 250C696 238.5 736 209.5 760 205Z" fill="#1affe5" stroke="#111" stroke-width="0.8" stroke-opacity="0.75"/>
<path d="M1100 205C1122 196.5 1306 198.5 1330 205C1354 211.5 1353 260.5 1340 270C1327 279.5 1223 298 1200 300C1177 302 1120 299.5 1110 290C1100 280.5 1078 213.5 1100 205Z" fill="#1affe5" stroke="#111" stroke-width="0.8" stroke-opacity="0.75"/>
<path d="M965 300C974 271 1050.7 271 1060 300C1069.3 329 1067 561 1058 590C1049 619 979.3 619 970 590C960.7 561 956 329 965 300Z" fill="#1affe5" stroke="#111" stroke-width="0.8" stroke-opacity="0.75"/>
<path d="M1012 330C1015.3 315.3 1026.9 316.7 1030 330C1033.1 343.3 1035 400.7 1035 430C1035 459.3 1033.1 534 1030 550C1026.9 566 1015.3 564.7 1012 550C1008.7 535.3 1005 469.3 1005 440C1005 410.7 1008.7 344.7 1012 330Z" fill="#80ff80" stroke="#111" stroke-width="0.8" stroke-opacity="0.75"/>
<path d="M955 205C959.3 196.3 984.7 197.7 990 205C995.3 212.3 996.6 244.7 995 260C993.4 275.3 982.9 318.7 978 320C973.1 321.3 961.1 285.3 958 270C954.9 254.7 950.7 213.7 955 205Z" fill="#1a6ae8" stroke="#111" stroke-width="2.5" stroke-opacity="0.75"/>
<path d="M1020 205C1023.7 197.7 1045.3 197.7 1050 205C1054.7 212.3 1056.3 248.7 1055 260C1053.7 271.3 1044.4 290 1040 290C1035.6 290 1024.7 271.3 1022 260C1019.3 248.7 1016.3 212.3 1020 205Z" fill="#00d1ff" stroke="#111" stroke-width="0.8" stroke-opacity="0.75"/>
<path d="M1345 205C1349.7 199.5 1396.3 195.5 1402 205C1407.7 214.5 1404.2 290.5 1402 300C1399.8 309.5 1384.7 304 1380 300C1375.3 296 1358.5 269.5 1355 260C1351.5 250.5 1340.3 210.5 1345 205Z" fill="#1a6ae8" stroke="#111" stroke-width="0.8" stroke-opacity="0.75"/>
<rect x="680" y="310" width="282" height="280" rx="30" fill="#6bff94" stroke="#111" stroke-width="2.5" stroke-opacity="0.75"/>
<rect x="718" y="318" width="240" height="254" rx="35" fill="#d1ff2e" stroke="#111" stroke-width="2.5" stroke-opacity="0.75"/>
<path d="M788 432C794.8 427.3 832.5 425.5 840 420C847.5 414.5 845 390.6 852 385C859 379.4 889.1 372.6 900 372C910.9 371.4 938.6 372.1 945 380C951.4 387.9 953.8 423.7 955 440C956.2 456.3 955.6 506.2 955 520C954.4 533.8 958.8 553.1 950 558C941.2 562.9 897.5 561.8 880 562C862.5 562.2 808.8 563.7 800 560C791.2 556.3 799.2 536.4 805 530C810.8 523.6 850.6 510.2 850 505C849.4 499.8 807.9 490.2 800 485C792.1 479.8 783.4 466.2 782 460C780.6 453.8 781.2 436.7 788 432Z" fill="#ffcc00" stroke="#111" stroke-width="2.5" stroke-opacity="0.75"/>
<rect x="1062" y="305" width="323" height="287" rx="30" fill="#6bff94" stroke="#111" stroke-width="2.5" stroke-opacity="0.75"/>
<rect x="1090" y="315" width="272" height="257" rx="30" fill="#d6ff29" stroke="#111" stroke-width="2.5" stroke-opacity="0.75"/>
<path d="M1165 330C1173.2 319.5 1214.2 319.4 1230 320C1245.8 320.6 1286 325.7 1300 335C1314 344.3 1343.6 380.8 1350 400C1356.4 419.2 1356.2 481.3 1355 500C1353.8 518.7 1352.2 553.2 1340 560C1327.8 566.8 1269.8 559.2 1250 558C1230.2 556.8 1180.5 556.8 1170 550C1159.5 543.2 1167 509.3 1160 500C1153 490.7 1116.4 478.2 1110 470C1103.6 461.8 1099.2 437 1105 430C1110.8 423 1153 421.7 1160 410C1167 398.3 1156.8 340.5 1165 330Z" fill="#ffb300" stroke="#111" stroke-width="2.5" stroke-opacity="0.75"/>
<path d="M1170 340C1178 330.7 1209.3 342 1220 350C1230.7 358 1241.3 388 1250 400C1258.7 412 1281 429.3 1285 440C1289 450.7 1284.7 472 1280 480C1275.3 488 1255.3 491.3 1250 500C1244.7 508.7 1249.3 539.7 1240 545C1230.7 550.3 1190 547.3 1180 540C1170 532.7 1167.7 506 1165 490C1162.3 474 1159.3 440 1160 420C1160.7 400 1162 349.3 1170 340Z" fill="#ff6600" stroke="#111" stroke-width="2.5" stroke-opacity="0.75"/>
<path d="M1165 405C1170.1 395 1189.3 393.7 1200 395C1210.7 396.3 1238.3 406.3 1245 415C1251.7 423.7 1251.3 450 1250 460C1248.7 470 1243 485.7 1235 490C1227 494.3 1199.7 494.7 1190 492C1180.3 489.3 1165.3 481.6 1162 470C1158.7 458.4 1159.9 415 1165 405Z" fill="#f00000" stroke="#111" stroke-width="2.5" stroke-opacity="0.75"/>
<path d="M680 590C696 589 772 599.2 800 600C828 600.8 935 599 960 598C985 597 1007.5 590.6 1050 590C1092.5 589.4 1349.8 595 1385 592C1420.2 589 1400.3 555.2 1402 560C1403.7 564.8 1412.2 632 1402 640C1391.8 648 1330.2 641.2 1300 640C1269.8 638.8 1134 629.5 1100 628C1066 626.5 990 623.8 960 625C930 626.2 824 640.5 800 640C776 639.5 736 623 720 620C704 617 644 613 640 610C636 607 664 591 680 590Z" fill="#00b2ff" stroke="#111" stroke-width="0.8" stroke-opacity="0.75"/>
<path d="M1050 608C1070 606.7 1123.3 610.4 1150 612C1176.7 613.6 1228.7 617.6 1250 620C1271.3 622.4 1304.7 627.3 1310 630C1315.3 632.7 1307.3 639.7 1290 640C1272.7 640.3 1208 634 1180 632C1152 630 1104 626.3 1080 625C1056 623.7 1004 624.3 1000 622C996 619.7 1030 609.3 1050 608Z" fill="#0a1a8a"/>
<rect x="1385" y="205" width="17" height="415" fill="#00d1ff"/>
<path d="M600 640C606.7 626.7 788 640.3 800 640C812 639.7 950 630 960 630C970 630 1087.3 639.5 1100 640C1112.7 640.5 1332 636.3 1340 645C1348 653.7 1364.7 886.8 1340 900C1315.3 913.2 624.7 1048.7 600 1040C575.3 1031.3 593.3 653.3 600 640Z" fill="#6bff94"/>
<path d="M790 680C799.3 672.7 832.7 666.3 850 665C867.3 663.7 908 662.7 920 670C932 677.3 936 704 940 720C944 736 951.3 775.3 950 790C948.7 804.7 942 826 930 830C918 834 882.7 820 860 820C837.3 820 778.7 832.7 760 830C741.3 827.3 718.7 809.3 720 800C721.3 790.7 762 770.7 770 760C778 749.3 777.3 730.7 780 720C782.7 709.3 780.7 687.3 790 680Z" fill="#1affe5" stroke="#111" stroke-width="2.5" stroke-opacity="0.75"/>
<path d="M745 830C745 825.5 779.3 819.6 800 818C820.7 816.4 880 816.1 900 818C920 819.9 950 827.7 950 832C950 836.3 920 847.3 900 850C880 852.7 820.7 854.7 800 852C779.3 849.3 745 834.5 745 830Z" fill="#00c7ff" stroke="#111" stroke-width="2.5" stroke-opacity="0.75"/>
<path d="M920 640C932 632 1045.5 634 1060 640C1074.5 646 1065 686 1065 700C1065 714 1066.5 770 1060 780C1053.5 790 1010 799 1000 800C990 801 966 798 960 790C954 782 944 735 940 720C936 705 908 648 920 640Z" fill="#e5ff1a" stroke="#111" stroke-width="0.8" stroke-opacity="0.75"/>
<path d="M1005 650C1007.3 635.3 1021.7 643.3 1025 650C1028.3 656.7 1030 685.3 1030 700C1030 714.7 1027.9 752 1025 760C1022.1 768 1010.7 774.7 1008 760C1005.3 745.3 1002.7 664.7 1005 650Z" fill="#80ff80" stroke="#111" stroke-width="0.8" stroke-opacity="0.75"/>
<path d="M925 645C927 637 951.3 642.7 960 650C968.7 657.3 983.3 685.3 990 700C996.7 714.7 1008.7 748.7 1010 760C1011.3 771.3 1005.3 783.7 1000 785C994.7 786.3 977.3 780 970 770C962.7 760 951 726.7 945 710C939 693.3 923 653 925 645Z" fill="#ff7500" stroke="#111" stroke-width="2.5" stroke-opacity="0.75"/>
<path d="M940 680C940.7 676 954 682 960 690C966 698 980.3 728.7 985 740C989.7 751.3 996.3 772.3 995 775C993.7 777.7 980.3 767.3 975 760C969.7 752.7 959.7 730.7 955 720C950.3 709.3 939.3 684 940 680Z" fill="#c70000" stroke="#111" stroke-width="0.6" stroke-opacity="0.75"/>
<rect x="575" y="625" width="97" height="415" rx="8" fill="#ffd100" stroke="#111" stroke-width="2.5" stroke-opacity="0.75"/>
<rect x="600" y="630" width="38" height="170" rx="14" fill="#ff7500" stroke="#111" stroke-width="0.8" stroke-opacity="0.75"/>
<rect x="610" y="840" width="30" height="160" rx="12" fill="#ff7500" stroke="#111" stroke-width="0.8" stroke-opacity="0.75"/>
<rect x="645" y="640" width="27" height="140" rx="10" fill="#e5ff1a" stroke="#111" stroke-width="0.8" stroke-opacity="0.75"/>
<rect x="652" y="850" width="20" height="110" rx="8" fill="#ff7500" stroke="#111" stroke-width="0.8" stroke-opacity="0.75"/>
<path d="M680 640C688 636 748 637.3 760 640C772 642.7 778 656 770 660C762 664 712 672.7 700 670C688 667.3 672 644 680 640Z" fill="#faff05" stroke="#111" stroke-width="0.8" stroke-opacity="0.75"/>
<path d="M672 850C680.8 840 748.2 855 760 860C771.8 865 796 890 790 900C784 910 711.8 954 700 960C688.2 966 674.8 971 672 960C669.2 949 663.2 860 672 850Z" fill="#ffd100" stroke="#111" stroke-width="0.8" stroke-opacity="0.75"/>
<path d="M690 860C692 852 709.8 853 712 860C714.2 867 714 922 712 930C710 938 694.2 947 692 940C689.8 933 688 868 690 860Z" fill="#ff6100" stroke="#111" stroke-width="0.6" stroke-opacity="0.75"/>
<path d="M600 1020L700 880L800 850L960 830L960 845Z" fill="url(#mot)" fill-opacity="0.9"/>
<path d="M1080 640L1340 640L1340 650L1080 790Z" fill="url(#mot)" fill-opacity="0.75"/>
<path d="M730 330L950 330L950 570L730 570Z" fill="url(#mot2)" fill-opacity="0.4"/>
<path d="M1100 320L1360 320L1360 560L1100 560Z" fill="url(#mot2)" fill-opacity="0.4"/>
<path d="M1165 390L1260 390L1260 550L1165 550Z" fill="url(#motr)" fill-opacity="0.7"/>
<path d="M690 210L1390 210L1390 300L690 300Z" fill="url(#mot2)" fill-opacity="0.4"/>
<path d="M600 640L940 640L940 680L600 680Z" fill="url(#mot2)" fill-opacity="0.7"/>
<path d="M596 840L780 840L780 940L596 1030Z" fill="url(#motr)" fill-opacity="0.6"/>
<path d="M590 1025L1340 638L1250 660L1100 730L900 830L700 920L620 980Z" fill="url(#motd)" fill-opacity="0.85"/>
</g>
<g transform="translate(1635 40) scale(0.5)">
<rect x="640" y="200" width="760" height="400" fill="#66ff99"/>
<path d="M640 200C644 160.5 675 195 680 205C685 215 688 278.5 690 300C692 321.5 700 398 700 420C700 442 696 502 690 520C684 538 645 632 640 600C635 568 636 239.5 640 200Z" fill="#05fffa" stroke="#111" stroke-width="0.8" stroke-opacity="0.75"/>
<path d="M700 205C755 199.5 1200 199.5 1250 205C1300 210.5 1215 250.5 1200 260C1185 269.5 1124 295.5 1100 300C1076 304.5 982 305 960 305C938 305 896 300 880 300C864 300 816 305 800 305C784 305 730 304.5 720 300C710 295.5 702 269.5 700 260C698 250.5 645 210.5 700 205Z" fill="#e5ff1a" stroke="#111" stroke-width="2.5" stroke-opacity="0.75"/>
<path d="M850 225C855.3 218.6 880 214 900 212C920 210 968 209.6 1000 210C1032 210.4 1120 208.3 1140 215C1160 221.7 1155.3 250.7 1150 260C1144.7 269.3 1120 281 1100 285C1080 289 1026.7 289.3 1000 290C973.3 290.7 918.7 294 900 290C881.3 286 866.7 268.7 860 260C853.3 251.3 844.7 231.4 850 225Z" fill="#ffd100" stroke="#111" stroke-width="2.5" stroke-opacity="0.75"/>
<path d="M1040 235C1042.7 229 1080 218.1 1100 215C1120 211.9 1176.7 207.3 1190 212C1203.3 216.7 1202.7 239.6 1200 250C1197.3 260.4 1180.7 286 1170 290C1159.3 294 1132 284 1120 280C1108 276 1090.7 266 1080 260C1069.3 254 1037.3 241 1040 235Z" fill="#ff6b00" stroke="#111" stroke-width="2.5" stroke-opacity="0.75"/>
<path d="M1130 240C1134 235.3 1159 231 1165 235C1171 239 1175.7 262.7 1175 270C1174.3 277.3 1165.3 290 1160 290C1154.7 290 1139 276.7 1135 270C1131 263.3 1126 244.7 1130 240Z" fill="#d10000" stroke="#111" stroke-width="0.6" stroke-opacity="0.75"/>
<path d="M710 430C718 421.5 766 416 780 415C794 414 841 417.5 850 420C859 422.5 875 432 870 440C865 448 815 489.5 800 500C785 510.5 730 545 720 545C710 545 701 511.5 700 500C699 488.5 702 438.5 710 430Z" fill="#05fffa" stroke="#111" stroke-width="2.5" stroke-opacity="0.75"/>
<path d="M1215 205L1380 205L1300 248L1235 262Z" fill="#4dffb2" stroke="#111" stroke-width="0.8" stroke-opacity="0.75"/>
<path d="M650 585L1378 210L1378 235L1100 330L900 420L760 470L700 540Z" fill="url(#mot)" fill-opacity="0.9"/>
<path d="M760 320L1150 320L900 450L700 540L700 420Z" fill="url(#mot2)" fill-opacity="0.6"/>
<path d="M1020 215L1300 215L1180 290L1020 290Z" fill="url(#motr)" fill-opacity="0.6"/>
<path d="M1180 205L1378 205L1200 300Z" fill="url(#mot)" fill-opacity="0.8"/>
<path d="M650 585L1378 210L1300 215L1100 310L900 410L700 520Z" fill="url(#motd)" fill-opacity="0.85"/>
</g>
<path d="M1532 552.5L2324 143.5" stroke="#142018" stroke-opacity="0.8" stroke-width="3" fill="none"/>
</g></g>
<text class="t" text-anchor="end" x="1479.5" y="185.5">1000</text>
<text class="t" text-anchor="end" x="1467" y="244">900</text>
<text class="t" text-anchor="end" x="1467" y="310">800</text>
<text class="t" text-anchor="end" x="1467" y="364">700</text>
<text class="t" text-anchor="end" x="1467" y="425.5">600</text>
<text class="t" text-anchor="end" x="1467" y="484">500</text>
<text class="t" text-anchor="end" x="1467" y="545.5">400</text>
<text class="t" text-anchor="middle" x="1579.6" y="619.5">400</text>
<text class="t" text-anchor="middle" x="1684.6" y="621">500</text>
<text class="t" text-anchor="middle" x="1813.1" y="621">600</text>
<text class="t" text-anchor="middle" x="1933.1" y="621">700</text>
<text class="t" text-anchor="middle" x="2048.1" y="621">800</text>
<text class="t" text-anchor="middle" x="2165.6" y="621">900</text>
<text class="t" text-anchor="middle" x="2284.1" y="619.5">1000</text>
<text class="c" x="2364" y="153">0.3</text>
<text class="c" x="2364" y="224">0.2</text>
<text class="c" x="2364" y="294">0.1</text>
<text class="c" x="2364" y="364">0</text>
<text class="c" x="2364" y="434">-0.1</text>
<text class="c" x="2364" y="504">-0.2</text>
<text class="r" style="font-size:43px" x="2327.5" y="104">r</text>
<text class="p" x="1264" y="157.5">(b)</text>
<rect x="2335" y="145" width="21.5" height="409" fill="url(#jet)"/>
<ellipse cx="1522.5" cy="525.3" rx="1.9" ry="8" fill="#1c1c1c"/>
<ellipse cx="1522.5" cy="466.9" rx="1.9" ry="8" fill="#1c1c1c"/>
<ellipse cx="1522.5" cy="408.4" rx="1.9" ry="8" fill="#1c1c1c"/>
<ellipse cx="1522.5" cy="350" rx="1.9" ry="8" fill="#1c1c1c"/>
<ellipse cx="1522.5" cy="291.6" rx="1.9" ry="8" fill="#1c1c1c"/>
<ellipse cx="1522.5" cy="233.1" rx="1.9" ry="8" fill="#1c1c1c"/>
</g>
<!-- panel c -->
<g>
<path d="M356.4 677.5V1103.5M297.5 1073.1H1124M474.3 677.5V1103.5M297.5 1012.2H1124M592.1 677.5V1103.5M297.5 951.4H1124M710 677.5V1103.5M297.5 890.5H1124M827.9 677.5V1103.5M297.5 829.6H1124M945.7 677.5V1103.5M297.5 768.8H1124M1063.6 677.5V1103.5M297.5 707.9H1124" stroke="#f5f5f5" stroke-width="1.4" fill="none"/>
<path d="M297.5 1103.5H1124V677.5M356.4 1103.5v-8M1124 1073.1h-8M474.3 1103.5v-8M1124 1012.2h-8M592.1 1103.5v-8M1124 951.4h-8M710 1103.5v-8M1124 890.5h-8M827.9 1103.5v-8M1124 829.6h-8M945.7 1103.5v-8M1124 768.8h-8M1063.6 1103.5v-8M1124 707.9h-8" stroke="#cfcfcf" stroke-width="1.8" fill="none"/>
<g clip-path="url(#cp_c)"><g filter="url(#soft)">
<rect x="290" y="670" width="845" height="445" fill="#00b2ff"/>
<g transform="translate(0 600) scale(0.5)">
<rect x="970" y="150" width="330" height="450" fill="#1a6ae8"/>
<path d="M985 150C1005.4 132.5 1143.1 144.2 1160 150C1176.9 155.8 1139.3 190.7 1130 200C1120.7 209.3 1088.2 218.3 1080 230C1071.8 241.7 1062.3 282.5 1060 300C1057.7 317.5 1063.5 364.8 1060 380C1056.5 395.2 1037 427.7 1030 430C1023 432.3 1005.2 415.2 1000 400C994.8 384.8 986.8 329.2 985 300C983.2 270.8 964.6 167.5 985 150Z" fill="#0a28d8" stroke="#111" stroke-width="2.5" stroke-opacity="0.75"/>
<path d="M990 270C992 254 1006 252 1010 260C1014 268 1020 311.3 1020 330C1020 348.7 1013.3 393.3 1010 400C1006.7 406.7 997.7 397.3 995 380C992.3 362.7 988 286 990 270Z" fill="#06109a"/>
<path d="M1160 150C1161.7 133.3 1235.7 143.3 1240 150C1244.3 156.7 1226.3 238 1225 250C1223.7 262 1221 320 1220 330C1219 340 1212.7 392.7 1210 400C1207.3 407.3 1187.3 435.3 1180 440C1172.7 444.7 1108 466.7 1100 470C1092 473.3 1064 486 1060 490C1056 494 1042.7 529.3 1040 530C1037.3 530.7 1022.7 499 1020 500C1017.3 501 974 542 1000 545C1026 548 1383.3 544 1410 545C1436.7 546 1414 559 1400 560C1386 561 1216 566 1200 560C1184 554 1159 480.7 1160 470C1161 459.3 1215 421.3 1215 400C1215 378.7 1158.3 166.7 1160 150Z" fill="#00b2ff" stroke="#111" stroke-width="0.8" stroke-opacity="0.75"/>
<path d="M985 540C1014 537.7 1391 537.7 1420 540C1449 542.3 1449 572.7 1420 575C1391 577.3 1014 577.3 985 575C956 572.7 956 542.3 985 540Z" fill="#00b2ff"/>
<path d="M1150 150C1156.5 145 1217.5 132 1225 150C1232.5 168 1227.5 303 1225 330C1222.5 357 1207.5 406 1200 420C1192.5 434 1162 464 1150 470C1138 476 1080 483 1080 480C1080 477 1139 449 1150 440C1161 431 1183.5 404 1190 390C1196.5 376 1217 312 1215 300C1213 288 1175.5 280 1170 270C1164.5 260 1162 212 1160 200C1158 188 1143.5 155 1150 150Z" fill="#00b2ff" stroke="#111" stroke-width="0.8" stroke-opacity="0.75"/>
<path d="M1200 150C1215.4 141.7 1382.5 117.1 1400 150C1417.5 182.9 1418.3 512.1 1410 545C1401.7 577.9 1317.5 545.4 1300 545C1282.5 544.6 1212.5 544.6 1200 540C1187.5 535.4 1149.6 499.2 1150 490C1150.4 480.8 1198.8 443.3 1205 430C1211.2 416.7 1224.2 345 1225 330C1225.8 315 1217.1 265 1215 250C1212.9 235 1184.6 158.3 1200 150Z" fill="#05fffa" stroke="#111" stroke-width="0.8" stroke-opacity="0.75"/>
<path d="M1240 150C1253.3 141.7 1386.2 117.5 1400 150C1413.8 182.5 1416.7 507.9 1405 540C1393.3 572.1 1275.8 539.2 1260 535C1244.2 530.8 1216.7 498.8 1215 490C1213.3 481.2 1237.1 443.3 1240 430C1242.9 416.7 1250 345 1250 330C1250 315 1240.8 265 1240 250C1239.2 235 1226.7 158.3 1240 150Z" fill="#61ff9e" stroke="#111" stroke-width="0.8" stroke-opacity="0.75"/>
<path d="M1270 150C1281.2 141.7 1389 118.3 1400 150C1411 181.7 1411.2 498.5 1402 530C1392.8 561.5 1302.7 531.3 1290 528C1277.3 524.7 1251.8 498.2 1250 490C1248.2 481.8 1265.5 443.3 1268 430C1270.5 416.7 1280.2 345 1280 330C1279.8 315 1265.8 265 1265 250C1264.2 235 1258.8 158.3 1270 150Z" fill="#faff05" stroke="#111" stroke-width="0.8" stroke-opacity="0.75"/>
<path d="M1300 180C1305.8 172.8 1330.1 168 1340 168C1349.9 168 1378.2 164.6 1385 180C1391.8 195.4 1396.2 262.7 1398 300C1399.8 337.3 1402.1 473.8 1400 500C1397.9 526.2 1391.7 522.4 1380 525C1368.3 527.6 1311.9 526.1 1300 522C1288.1 517.9 1279.2 504.2 1278 490C1276.8 475.8 1287.4 422.2 1290 400C1292.6 377.8 1300 319.8 1300 300C1300 280.2 1290 244 1290 230C1290 216 1294.2 187.2 1300 180Z" fill="#ff9400" stroke="#111" stroke-width="2.5" stroke-opacity="0.75"/>
<path d="M1300 380C1308 369.3 1339.3 340 1350 340C1360.7 340 1374.4 362.7 1380 380C1385.6 397.3 1392 452.7 1392 470C1392 487.3 1390.9 504.4 1380 510C1369.1 515.6 1322.7 516 1310 512C1297.3 508 1287.7 492.3 1285 480C1282.3 467.7 1288 433.3 1290 420C1292 406.7 1292 390.7 1300 380Z" fill="#ff4c00" stroke="#111" stroke-width="2.5" stroke-opacity="0.75"/>
<path d="M1402 150C1405.3 140 1446.8 121.7 1450 150C1453.2 178.3 1453.2 546.7 1450 575C1446.8 603.3 1404.8 581.3 1402 575C1399.2 568.7 1408.1 498.3 1408 480C1407.9 461.7 1400.4 322 1400 300C1399.6 278 1398.7 160 1402 150Z" fill="#0a28d8" stroke="#111" stroke-width="0.8" stroke-opacity="0.75"/>
<path d="M1412 330C1414.3 312.7 1429.3 311.3 1432 330C1434.7 348.7 1434.3 452.7 1432 470C1429.7 487.3 1417.7 478.7 1415 460C1412.3 441.3 1409.7 347.3 1412 330Z" fill="#06109a"/>
<rect x="585" y="145" width="415" height="417" rx="40" fill="#1affe5" stroke="#111" stroke-width="0.8" stroke-opacity="0.75"/>
<rect x="585" y="145" width="405" height="405" rx="45" fill="#d1ff2e" stroke="#111" stroke-width="0.8" stroke-opacity="0.75"/>
<rect x="585" y="145" width="395" height="395" rx="50" fill="#ff9e00" stroke="#111" stroke-width="2.5" stroke-opacity="0.75"/>
<path d="M612 150C633.4 135 797.2 147 820 150C842.8 153 830 174 840 180C850 186 909.5 198 920 210C930.5 222 941.5 277 945 300C948.5 323 954.5 420 955 440C955.5 460 953.5 491.8 950 500C946.5 508.2 945 519.2 920 522C895 524.8 729 528 700 528C671 528 638.8 526.8 630 522C621.2 517.2 614.4 502.2 612 480C609.6 457.8 606 333 606 300C606 267 590.6 165 612 150Z" fill="#ff5700" stroke="#111" stroke-width="2.5" stroke-opacity="0.75"/>
<path d="M622 160C631.9 146 703.2 153 715 160C726.8 167 733.5 217 740 230C746.5 243 769 278 780 290C791 302 837 339 850 350C863 361 900.5 390 910 400C919.5 410 941.5 440.5 945 450C948.5 459.5 948.5 488.8 945 495C941.5 501.2 934.5 509.5 910 512C885.5 514.5 727 520 700 520C673 520 647.8 517 640 512C632.2 507 624.4 491.2 622 470C619.6 448.8 616 331 616 300C616 269 612.1 174 622 160Z" fill="#ff0f00" stroke="#111" stroke-width="2.5" stroke-opacity="0.75"/>
<path d="M642 185C647.3 169 681.6 170 690 180C698.4 190 702.1 238.7 705 260C707.9 281.3 709.3 324 712 340C714.7 356 723.7 365.3 725 380C726.3 394.7 725.3 436.7 722 450C718.7 463.3 706.7 478.7 700 480C693.3 481.3 677.3 470.7 672 460C666.7 449.3 662.9 421.3 660 400C657.1 378.7 652.4 328.7 650 300C647.6 271.3 636.7 201 642 185Z" fill="#a80000" stroke="#111" stroke-width="0.6" stroke-opacity="0.75"/>
<path d="M585 562C606.5 558.5 758.5 565.2 800 565C841.5 564.8 974 562 1000 560C1026 558 1050 544.8 1060 545C1070 545.2 1066 560 1100 562C1134 564 1368 561.2 1400 565C1432 568.8 1430 596.5 1420 600C1410 603.5 1334 602 1300 600C1266 598 1120 580 1080 580C1040 580 949.5 598 900 600C850.5 602 616.5 603.8 585 600C553.5 596.2 563.5 565.5 585 562Z" fill="#0a28d8" stroke="#111" stroke-width="0.8" stroke-opacity="0.75"/>
<path d="M600 575C620 573.6 760 578.3 800 578C840 577.7 984 570.8 1000 572C1016 573.2 980 587.7 960 590C940 592.3 836 594.8 800 595C764 595.2 620 594 600 592C580 590 580 576.4 600 575Z" fill="#06109a"/>
<path d="M1070 580C1091.7 581 1161.7 583.3 1200 586C1238.3 588.7 1270 591.2 1300 596C1330 600.8 1366.7 611.8 1380 615" fill="none" stroke="#180808" stroke-width="6" stroke-opacity="0.85"/>
<path d="M585 600C597.5 590 947 596.7 960 600C973 603.3 972.3 693.3 975 700C977.7 706.7 1042.5 793.3 1040 800C1037.5 806.7 915.2 896.7 900 900C884.8 903.3 595.5 910 585 900C574.5 890 572.5 610 585 600Z" fill="#1a6ae8"/>
<path d="M945 605C947.5 599 984.5 591.5 1000 590C1015.5 588.5 1072 588 1100 590C1128 592 1254 606 1280 610C1306 614 1358 621 1360 630C1362 639 1326 685 1300 700C1274 715 1125 773.5 1100 780C1075 786.5 1060 773 1050 765C1040 757 1007.5 711.5 1000 700C992.5 688.5 980.5 659.5 975 650C969.5 640.5 942.5 611 945 605Z" fill="#ff0f00" stroke="#111" stroke-width="2.5" stroke-opacity="0.75"/>
<path d="M1150 660C1154 651 1186 652 1200 650C1214 648 1276 642.5 1290 640C1304 637.5 1339 620 1340 625C1341 630 1318 678.5 1300 690C1282 701.5 1175 743 1160 740C1145 737 1146 669 1150 660Z" fill="#ff6100" stroke="#111" stroke-width="0.8" stroke-opacity="0.75"/>
<path d="M985 640C985.7 634.7 994.7 639.3 1000 650C1005.3 660.7 1019.7 706.7 1025 720C1030.3 733.3 1041.3 747.3 1040 750C1038.7 752.7 1021 748 1015 740C1009 732 999 703.3 995 690C991 676.7 984.3 645.3 985 640Z" fill="#a80000"/>
<path d="M970 680C974.7 682.7 990 726.7 1000 740C1010 753.3 1042.3 772 1045 780C1047.7 788 1028 801.3 1020 800C1012 798.7 992.3 780.7 985 770C977.7 759.3 967 732 965 720C963 708 965.3 677.3 970 680Z" fill="#05fffa" stroke="#111" stroke-width="0.8" stroke-opacity="0.75"/>
<path d="M596 600C601 586.5 631.6 603 640 605C648.4 607 679 614.5 680 620C681 625.5 657 650 650 660C643 670 616 712 610 720C604 728 591.4 752 590 740C588.6 728 591 613.5 596 600Z" fill="#05fffa" stroke="#111" stroke-width="0.8" stroke-opacity="0.75"/>
<path d="M596 605C598.9 598 620.6 607.5 625 610C629.4 612.5 641.5 625 640 630C638.5 635 614.4 655 610 660C605.6 665 597.4 685.5 596 680C594.6 674.5 593.1 612 596 605Z" fill="#80ff80" stroke="#111" stroke-width="0.8" stroke-opacity="0.75"/>
<path d="M640 670C650 662 675.3 652.7 690 650C704.7 647.3 743.3 644.7 750 650C756.7 655.3 745.3 680.7 740 690C734.7 699.3 714.7 709.3 710 720C705.3 730.7 701 759.3 705 770C709 780.7 720.7 797.3 740 800C759.3 802.7 820.7 790 850 790C879.3 790 942.7 796 960 800C977.3 804 988 814.7 980 820C972 825.3 930.7 838 900 840C869.3 842 783.3 839 750 835C716.7 831 668.4 818.7 650 810C631.6 801.3 616.7 783.3 612 770C607.3 756.7 611.3 723.3 615 710C618.7 696.7 630 678 640 670Z" fill="#0a28d8" stroke="#111" stroke-width="2.5" stroke-opacity="0.75"/>
<path d="M596 820C599.6 806.3 639.1 813.7 650 815C660.9 816.3 743.3 838 760 840C776.7 842 888 844.3 900 845C912 845.7 946.7 845 940 850C933.3 855 822.9 908.7 800 920C777.1 931.3 609.6 1026.7 596 1020C582.4 1013.3 592.4 833.7 596 820Z" fill="#00b2ff" stroke="#111" stroke-width="0.8" stroke-opacity="0.75"/>
<path d="M596 825C600.4 806.2 630.6 819.5 640 822C649.4 824.5 682 842.2 690 850C698 857.8 712 896 720 900C728 904 762 889.5 770 890C778 890.5 807 898 800 905C793 912 720.4 949.5 700 960C679.6 970.5 606.4 1023.5 596 1010C585.6 996.5 591.6 843.8 596 825Z" fill="#1affe5" stroke="#111" stroke-width="0.8" stroke-opacity="0.75"/>
<path d="M596 830C598.9 812.3 619.1 826 625 830C630.9 834 650.5 861 655 870C659.5 879 666.5 912 670 920C673.5 928 693 943.5 690 950C687 956.5 649.4 979.3 640 985C630.6 990.7 600.4 1022.5 596 1007C591.6 991.5 593.1 847.7 596 830Z" fill="#80ff80" stroke="#111" stroke-width="0.8" stroke-opacity="0.75"/>
<path d="M596 900C597.9 887.5 610.6 877 615 880C619.4 883 636.5 922 640 930C643.5 938 652 954 650 960C648 966 625.4 985.5 620 990C614.6 994.5 598.4 1014 596 1005C593.6 996 594.1 912.5 596 900Z" fill="#faff05" stroke="#111" stroke-width="0.8" stroke-opacity="0.75"/>
</g>
<g transform="translate(640 600) scale(0.5)">
<rect x="190" y="145" width="790" height="415" fill="#faff05"/>
<path d="M190 150C194.2 109 226.5 135 232 150C237.5 165 242.2 273 245 300C247.8 327 255.5 403 260 420C264.5 437 290 460 290 470C290 480 270 511 260 520C250 529 197 597 190 560C183 523 185.8 191 190 150Z" fill="#1affe5" stroke="#111" stroke-width="0.8" stroke-opacity="0.75"/>
<path d="M222 150C224.2 135 256.7 140 262 150C267.3 160 272.2 230 275 250C277.8 270 284.5 331 290 350C295.5 369 325 428 330 440C335 452 344 465 340 470C336 475 298.5 497 290 490C281.5 483 260 419 255 400C250 381 243.3 325 240 300C236.7 275 219.8 165 222 150Z" fill="#80ff80" stroke="#111" stroke-width="0.8" stroke-opacity="0.75"/>
<path d="M238 180C238.5 172 247.6 168 250 180C252.4 192 258.5 278 262 300C265.5 322 281.2 386 285 400C288.8 414 300.5 436 300 440C299.5 444 284.2 448 280 440C275.8 432 261.5 378 258 360C254.5 342 247 278 245 260C243 242 237.5 188 238 180Z" fill="#1affe5" stroke="#111" stroke-width="0.6" stroke-opacity="0.75"/>
<path d="M205 500C208.5 492.2 233.5 472 240 470C246.5 468 266.5 476 270 480C273.5 484 281.5 503.2 275 510C268.5 516.8 212 549 205 548C198 547 201.5 507.8 205 500Z" fill="#00b2ff" stroke="#111" stroke-width="0.8" stroke-opacity="0.75"/>
<path d="M320 300C330.7 293.6 379 286.2 400 285C421 283.8 481.3 288.2 500 290C518.7 291.8 549.5 296.5 560 300C570.5 303.5 592.3 313 590 320C587.7 327 554 350.7 540 360C526 369.3 488.7 390.7 470 400C451.3 409.3 396.3 435.3 380 440C363.7 444.7 338.2 444.7 330 440C321.8 435.3 312.6 411.7 310 400C307.4 388.3 306.8 351.7 308 340C309.2 328.3 309.3 306.4 320 300Z" fill="#ff9e00" stroke="#111" stroke-width="2.5" stroke-opacity="0.75"/>
<path d="M450 245C455.8 240.3 500.2 229.7 520 225C539.8 220.3 596.7 206.5 620 205C643.3 203.5 705.4 207.3 720 212C734.6 216.7 747.3 237.7 745 245C742.7 252.3 714.6 270.9 700 275C685.4 279.1 638.7 280.6 620 280C601.3 279.4 557.5 271.8 540 270C522.5 268.2 480.5 267.9 470 265C459.5 262.1 444.2 249.7 450 245Z" fill="#80ff80" stroke="#111" stroke-width="2.5" stroke-opacity="0.75"/>
<path d="M620 262C623.5 257.9 648.3 251.6 660 250C671.7 248.4 711.2 245.7 720 248C728.8 250.3 739.7 265.1 735 270C730.3 274.9 692.2 288.2 680 290C667.8 291.8 637 288.3 630 285C623 281.7 616.5 266.1 620 262Z" fill="#1affe5" stroke="#111" stroke-width="0.8" stroke-opacity="0.75"/>
<path d="M300 150C322 146.5 536 147 560 150C584 153 552 176 540 180C528 184 460 189.5 440 190C420 190.5 354 189 340 185C326 181 278 153.5 300 150Z" fill="#ff9e00" stroke="#111" stroke-width="2.5" stroke-opacity="0.75"/>
<path d="M560 165C570 162.2 684 158.5 700 160C716 161.5 730 177.2 720 180C710 182.8 616 189.5 600 188C584 186.5 550 167.8 560 165Z" fill="#ff9e00" stroke="#111" stroke-width="0.8" stroke-opacity="0.75"/>
<path d="M720 150C737 147.5 885 146.5 900 150C915 153.5 880 179 870 185C860 191 812 208.5 800 210C788 211.5 757 203.5 750 200C743 196.5 733 180 730 175C727 170 703 152.5 720 150Z" fill="#ff4c00" stroke="#111" stroke-width="2.5" stroke-opacity="0.75"/>
</g>
<path d="M297.5 1102.5L1122.5 676.5" stroke="#1a2a30" stroke-opacity="0.45" stroke-width="2" fill="none"/>
</g></g>
<text class="t" text-anchor="end" x="245" y="730.5">1000</text>
<text class="t" text-anchor="end" x="233" y="789">900</text>
<text class="t" text-anchor="end" x="233" y="852.5">800</text>
<text class="t" text-anchor="end" x="233" y="910">700</text>
<text class="t" text-anchor="end" x="233" y="970.5">600</text>
<text class="t" text-anchor="end" x="233" y="1029">500</text>
<text class="t" text-anchor="end" x="233" y="1087.5">400</text>
<text class="t" text-anchor="middle" x="353.1" y="1166.5">400</text>
<text class="t" text-anchor="middle" x="458.1" y="1168.5">500</text>
<text class="t" text-anchor="middle" x="585.6" y="1168.5">600</text>
<text class="t" text-anchor="middle" x="707.6" y="1167.5">700</text>
<text class="t" text-anchor="middle" x="820.6" y="1167.5">800</text>
<text class="t" text-anchor="middle" x="939.1" y="1167.5">900</text>
<text class="t" text-anchor="middle" x="1057.1" y="1166">1000</text>
<text class="c" x="1164" y="686.5">0.4</text>
<text class="c" x="1164" y="770.5">0.2</text>
<text class="c" x="1164" y="854">0</text>
<text class="c" x="1164" y="938">-0.2</text>
<text class="c" x="1164" y="1022">-0.4</text>
<text class="c" x="1164" y="1106.5">-0.6</text>
<text class="r" style="font-size:43px" x="1151" y="631">r</text>
<text class="p" x="32.5" y="689">(c)</text>
<rect x="1134" y="677.5" width="22.5" height="425" fill="url(#jet)"/>
<ellipse cx="288" cy="1073.6" rx="1.9" ry="8" fill="#1c1c1c"/>
<ellipse cx="288" cy="1012.7" rx="1.9" ry="8" fill="#1c1c1c"/>
<ellipse cx="288" cy="951.9" rx="1.9" ry="8" fill="#1c1c1c"/>
<ellipse cx="288" cy="891" rx="1.9" ry="8" fill="#1c1c1c"/>
<ellipse cx="288" cy="830.1" rx="1.9" ry="8" fill="#1c1c1c"/>
<ellipse cx="288" cy="769.3" rx="1.9" ry="8" fill="#1c1c1c"/>
</g>
<!-- panel d -->
<g>
<path d="M1590.3 676V1090M1533 1060.4H2336.5M1704.9 676V1090M1533 1001.3H2336.5M1819.4 676V1090M1533 942.1H2336.5M1934 676V1090M1533 883H2336.5M2048.6 676V1090M1533 823.9H2336.5M2163.1 676V1090M1533 764.7H2336.5M2277.7 676V1090M1533 705.6H2336.5" stroke="#f5f5f5" stroke-width="1.4" fill="none"/>
<path d="M1533 1090H2336.5V676M1590.3 1090v-8M2336.5 1060.4h-8M1704.9 1090v-8M2336.5 1001.3h-8M1819.4 1090v-8M2336.5 942.1h-8M1934 1090v-8M2336.5 883h-8M2048.6 1090v-8M2336.5 823.9h-8M2163.1 1090v-8M2336.5 764.7h-8M2277.7 1090v-8M2336.5 705.6h-8" stroke="#cfcfcf" stroke-width="1.8" fill="none"/>
<g clip-path="url(#cp_d)"><g filter="url(#soft)">
<rect x="1525" y="668" width="820" height="430" fill="#ffc200"/>
<g transform="translate(1240 600) scale(0.5)">
<path d="M586 145C627.4 132.5 959.6 133.5 1000 145C1040.4 156.5 992.5 238.5 990 260C987.5 281.5 978 342 975 360C972 378 963.5 426 960 440C956.5 454 956 493 940 500C924 507 826 510 800 510C774 510 695 504 680 500C665 496 655 482 650 470C645 458 633.5 397 630 380C626.5 363 619.4 311 615 300C610.6 289 588.9 285.5 586 270C583.1 254.5 544.6 157.5 586 145Z" fill="#99ff66" stroke="#111" stroke-width="2.5" stroke-opacity="0.75"/>
<path d="M622 145C656.5 134.5 949.4 131.5 985 145C1020.6 158.5 980 257.5 978 280C976 302.5 968.8 354 965 370C961.2 386 945.5 430.8 940 440C934.5 449.2 924 459.8 910 462C896 464.2 819 463.2 800 462C781 460.8 731.5 455.2 720 450C708.5 444.8 690.5 423 685 410C679.5 397 669.5 336 665 320C660.5 304 644.3 267.5 640 250C635.7 232.5 587.5 155.5 622 145Z" fill="#00f0ff" stroke="#111" stroke-width="2.5" stroke-opacity="0.75"/>
<path d="M648 145C679 134.5 947.3 129.5 980 145C1012.7 160.5 977 280 975 300C973 320 967.5 337.8 960 345C952.5 352.2 916 370 900 372C884 374 816 367.7 800 365C784 362.3 750 350.5 740 345C730 339.5 707 319.5 700 310C693 300.5 675.2 266.5 670 250C664.8 233.5 617 155.5 648 145Z" fill="#1560ee" stroke="#111" stroke-width="2.5" stroke-opacity="0.75"/>
<path d="M700 145C726.8 139.5 950.5 135.5 978 145C1005.5 154.5 977.8 227 975 240C972.2 253 959.5 272 950 275C940.5 278 895 271.3 880 270C865 268.7 815 265.5 800 262C785 258.5 739 241.2 730 235C721 228.8 713 209 710 200C707 191 673.2 150.5 700 145Z" fill="#0618a8" stroke="#111" stroke-width="2.5" stroke-opacity="0.75"/>
<path d="M985 145C994.6 135.4 1089.6 138.8 1100 145C1110.4 151.2 1106.7 207.1 1110 220C1113.3 232.9 1132.5 285.8 1140 300C1147.5 314.2 1190.8 376.7 1200 390C1209.2 403.3 1242.5 451.7 1250 460C1257.5 468.3 1281.7 486.7 1290 490C1298.3 493.3 1342.5 502.5 1350 500C1357.5 497.5 1376.7 476.7 1380 460C1383.3 443.3 1389.2 326.2 1390 300C1390.8 273.8 1387.5 157.9 1390 145C1392.5 132.1 1417.5 110.4 1420 145C1422.5 179.6 1421.7 528.8 1420 560C1418.3 591.2 1405 523.8 1400 520C1395 516.2 1370.8 516.2 1360 515C1349.2 513.8 1282.5 511.2 1270 505C1257.5 498.8 1220 452.9 1210 440C1200 427.1 1159.2 361.7 1150 350C1140.8 338.3 1107.5 306.2 1100 300C1092.5 293.8 1068.3 276.2 1060 275C1051.7 273.8 1006.2 286.2 1000 285C993.8 283.8 986.2 271.7 985 260C983.8 248.3 975.4 154.6 985 145Z" fill="#99ff66" stroke="#111" stroke-width="2.5" stroke-opacity="0.75"/>
<path d="M1095 145C1122.5 135.5 1356 129.5 1385 145C1414 160.5 1386 270.5 1385 300C1384 329.5 1378.5 422 1375 440C1371.5 458 1357.5 476.2 1350 480C1342.5 483.8 1309 482 1300 478C1291 474 1270 453.8 1260 440C1250 426.2 1211 355 1200 340C1189 325 1159 300 1150 290C1141 280 1115.5 254.5 1110 240C1104.5 225.5 1067.5 154.5 1095 145Z" fill="#00f0ff" stroke="#111" stroke-width="2.5" stroke-opacity="0.75"/>
<path d="M1120 145C1144.2 137.5 1356.2 129.5 1382 145C1407.8 160.5 1380.2 274.5 1378 300C1375.8 325.5 1367.8 390.5 1360 400C1352.2 409.5 1313 400 1300 395C1287 390 1242 359.5 1230 350C1218 340.5 1189 313 1180 300C1171 287 1146 235.5 1140 220C1134 204.5 1095.8 152.5 1120 145Z" fill="#1560ee" stroke="#111" stroke-width="2.5" stroke-opacity="0.75"/>
<path d="M1170 145C1192 137.5 1359.2 133.5 1380 145C1400.8 156.5 1382 246 1378 260C1374 274 1350.8 281 1340 285C1329.2 289 1284 301.5 1270 300C1256 298.5 1211 278 1200 270C1189 262 1163 232.5 1160 220C1157 207.5 1148 152.5 1170 145Z" fill="#0618a8" stroke="#111" stroke-width="2.5" stroke-opacity="0.75"/>
<ellipse cx="1225" cy="250" rx="35" ry="22" fill="#040e80"/>
<path d="M1395 250C1396.7 236 1403.7 245 1405 260C1406.3 275 1407.5 372 1408 400C1408.5 428 1411.8 528 1410 540C1408.2 552 1392.2 534 1390 520C1387.8 506 1387.5 427 1388 400C1388.5 373 1393.3 264 1395 250Z" fill="#ffc200" stroke="#111" stroke-width="0.8" stroke-opacity="0.75"/>
<path d="M965 380C967.3 372.5 980.5 361 985 365C989.5 369 1004 409.5 1010 420C1016 430.5 1041.5 462.5 1045 470C1048.5 477.5 1049.5 490.5 1045 495C1040.5 499.5 1014.5 512.3 1000 515C985.5 517.7 930 521 900 522C870 523 728.5 524.7 700 525C671.5 525.3 623.8 526.3 615 525C606.2 523.7 603.5 513.5 612 512C620.5 510.5 671.2 510.4 700 510C728.8 509.6 875 510 900 508C925 506 943.8 496.8 950 490C956.2 483.2 960.5 451 962 440C963.5 429 962.7 387.5 965 380Z" fill="#ff2e00" stroke="#111" stroke-width="2.5" stroke-opacity="0.75"/>
<path d="M1100 460C1104.5 454.3 1140.5 439.5 1150 438C1159.5 436.5 1188.5 440.3 1195 445C1201.5 449.7 1208.5 479.5 1215 485C1221.5 490.5 1247.5 497.5 1260 500C1272.5 502.5 1329.2 510 1340 510C1350.8 510 1364.5 508 1368 500C1371.5 492 1373.3 434 1375 430C1376.7 426 1384 452 1385 460C1386 468 1388.5 503.8 1385 510C1381.5 516.2 1363.5 521 1350 522C1336.5 523 1270 521.7 1250 520C1230 518.3 1164.5 507.5 1150 505C1135.5 502.5 1110 499.5 1105 495C1100 490.5 1095.5 465.7 1100 460Z" fill="#ff2e00" stroke="#111" stroke-width="2.5" stroke-opacity="0.75"/>
<path d="M575 575C593.2 553.9 919.8 571.8 940 578C960.2 584.2 976.5 690.9 980 700C983.5 709.1 1014 752.5 1010 760C1006 767.5 921.8 838 900 850C878.2 862 591.2 1013.8 575 1000C558.8 986.2 556.8 596.1 575 575Z" fill="#00f0ff"/>
<path d="M575 568C587.5 553.5 681.5 572.8 700 575C718.5 577.2 760 586.5 760 590C760 593.5 711 604 700 610C689 616 660 641 650 650C640 659 607.5 693 600 700C592.5 707 577.5 733.2 575 720C572.5 706.8 562.5 582.5 575 568Z" fill="#1560ee" stroke="#111" stroke-width="2.5" stroke-opacity="0.75"/>
<path d="M700 582C715 576.5 776 585.2 800 585C824 584.8 925 578.5 940 580C955 581.5 964 597 950 600C936 603 823 607 800 610C777 613 736 622 720 630C704 638 652 680 640 690C628 700 606.5 723 600 730C593.5 737 577.5 760 575 760C572.5 760 567.5 742 575 730C582.5 718 637.5 654.8 650 640C662.5 625.2 685 587.5 700 582Z" fill="#00f0ff" stroke="#111" stroke-width="0.8" stroke-opacity="0.75"/>
<path d="M690 640C704 631.8 735.5 623.3 760 620C784.5 616.7 876.7 609.7 900 612C923.3 614.3 950.1 629.7 960 640C969.9 650.3 979.2 687.2 985 700C990.8 712.8 1009.4 739.5 1010 750C1010.6 760.5 1002.8 784.2 990 790C977.2 795.8 926.8 799.1 900 800C873.2 800.9 788 800.3 760 798C732 795.7 677.5 783.3 660 780C642.5 776.7 617 775.8 610 770C603 764.2 596.5 739.3 600 730C603.5 720.7 629.5 700.5 640 690C650.5 679.5 676 648.2 690 640Z" fill="#99ff66" stroke="#111" stroke-width="2.5" stroke-opacity="0.75"/>
<path d="M690 730C699.9 724.8 742.5 715.8 760 710C777.5 704.2 822.5 684.1 840 680C857.5 675.9 897.2 672.7 910 675C922.8 677.3 941.2 692.4 950 700C958.8 707.6 979.8 732.4 985 740C990.2 747.6 1000.2 759.2 995 765C989.8 770.8 962.8 787.1 940 790C917.2 792.9 828 791.2 800 790C772 788.8 714.6 784.1 700 780C685.4 775.9 676.2 760.8 675 755C673.8 749.2 680.1 735.2 690 730Z" fill="#ffc200" stroke="#111" stroke-width="2.5" stroke-opacity="0.75"/>
<path d="M920 580C923 572 972 570.8 1000 570C1028 569.2 1166 570.5 1200 572C1234 573.5 1326 562.2 1340 585C1354 607.8 1370 778.5 1340 800C1310 821.5 1074 807 1040 800C1006 793 1007 745 1000 730C993 715 978 665 970 650C962 635 917 588 920 580Z" fill="#1560ee" stroke="#111" stroke-width="2.5" stroke-opacity="0.75"/>
<path d="M690 574C713 572.1 906.5 574.2 930 576C953.5 577.8 938 589.9 925 592C912 594.1 822.5 596.7 800 597C777.5 597.3 711 597.3 700 595C689 592.7 667 575.9 690 574Z" fill="#1560ee"/>
<path d="M955 610C957.9 608.8 977.4 629.5 985 640C992.6 650.5 1012.4 689.5 1020 700C1027.6 710.5 1048.8 724.8 1050 730C1051.2 735.2 1037 748.5 1030 745C1023 741.5 998.2 711.1 990 700C981.8 688.9 964.1 660.5 960 650C955.9 639.5 952.1 611.2 955 610Z" fill="#0618a8"/>
<path d="M575 790C580.7 776 647.7 789 660 790C672.3 791 744 803.7 760 805C776 806.3 888 809 900 810C912 811 946.7 814 940 820C933.3 826 824.3 888 800 900C775.7 912 590 1007.3 575 1000C560 992.7 569.3 804 575 790Z" fill="#00f0ff" stroke="#111" stroke-width="0.8" stroke-opacity="0.75"/>
<path d="M575 780C581.5 758 629.5 778 640 780C650.5 782 675 792 680 800C685 808 686 851 690 860C694 869 719 883 720 890C721 897 714.5 919 700 930C685.5 941 587.5 1015 575 1000C562.5 985 568.5 802 575 780Z" fill="#1560ee" stroke="#111" stroke-width="2.5" stroke-opacity="0.75"/>
<path d="M930 578C950 576.3 1005 569 1050 568C1095 567 1153.3 568.3 1200 572C1246.7 575.7 1308.3 587 1330 590" fill="none" stroke="#101030" stroke-width="3" stroke-opacity="0.6"/>
</g>
<g transform="translate(1635 600) scale(0.5)">
<rect x="650" y="145" width="760" height="400" fill="#ff2e00"/>
<path d="M650 145C651.8 105 665 134.5 668 145C671 155.5 676.8 227.5 680 250C683.2 272.5 695 352 700 370C705 388 723 422.5 730 430C737 437.5 760 445 770 445C780 445 831 426.5 830 430C829 433.5 778 468.5 760 480C742 491.5 661 578.5 650 545C639 511.5 648.2 185 650 145Z" fill="#ffc200" stroke="#111" stroke-width="2.5" stroke-opacity="0.75"/>
<path d="M880 400C880 394 886 358.2 890 350C894 341.8 913 320 920 318C927 316 952 327.3 960 330C968 332.7 992 345 1000 345C1008 345 1044 327 1040 330C1036 333 975 367 960 375C945 383 898 407.5 890 410C882 412.5 880 406 880 400Z" fill="#ffc200" stroke="#111" stroke-width="2.5" stroke-opacity="0.75"/>
<path d="M958 265C958.7 261.3 979.1 254 990 252C1000.9 250 1025.3 248.7 1040 250C1054.7 251.3 1092.7 258.7 1100 262C1107.3 265.3 1103 271.9 1095 275C1087 278.1 1054.7 284.3 1040 285C1025.3 285.7 995.9 282.7 985 280C974.1 277.3 957.3 268.7 958 265Z" fill="#9e0000" stroke="#111" stroke-width="0.6" stroke-opacity="0.75"/>
<path d="M1100 150C1102 145 1150 141 1160 150C1170 159 1195 229 1200 240C1205 251 1212 257.8 1210 260C1208 262.2 1187 268 1180 262C1173 256 1148 211.2 1140 200C1132 188.8 1098 155 1100 150Z" fill="#ffc200" stroke="#111" stroke-width="2.5" stroke-opacity="0.75"/>
<path d="M1155 150C1157 145 1192.5 142.5 1200 150C1207.5 157.5 1229.5 215.5 1230 225C1230.5 234.5 1210 247.5 1205 245C1200 242.5 1185 209.5 1180 200C1175 190.5 1153 155 1155 150Z" fill="#99ff66" stroke="#111" stroke-width="2.5" stroke-opacity="0.75"/>
<path d="M1190 150C1208.5 145 1389 144.5 1400 150C1411 155.5 1316 196.8 1300 205C1284 213.2 1248.5 232.5 1240 232C1231.5 231.5 1220 208.2 1215 200C1210 191.8 1171.5 155 1190 150Z" fill="#00f0ff" stroke="#111" stroke-width="2.5" stroke-opacity="0.75"/>
</g>
<path d="M1533 1088.8L2335 674.8" stroke="#30c8d8" stroke-opacity="0.8" stroke-width="2.5" fill="none"/>
</g></g>
<text class="t" text-anchor="end" x="1481" y="713">1000</text>
<text class="t" text-anchor="end" x="1469.5" y="772.5">900</text>
<text class="t" text-anchor="end" x="1469.5" y="838">800</text>
<text class="t" text-anchor="end" x="1469.5" y="891.5">700</text>
<text class="t" text-anchor="end" x="1469.5" y="955.5">600</text>
<text class="t" text-anchor="end" x="1469.5" y="1011.5">500</text>
<text class="t" text-anchor="end" x="1469.5" y="1072.5">400</text>
<text class="t" text-anchor="middle" x="1582.1" y="1154">400</text>
<text class="t" text-anchor="middle" x="1690.1" y="1156">500</text>
<text class="t" text-anchor="middle" x="1818.1" y="1156">600</text>
<text class="t" text-anchor="middle" x="1938.1" y="1156">700</text>
<text class="t" text-anchor="middle" x="2050.6" y="1155">800</text>
<text class="t" text-anchor="middle" x="2170.6" y="1155">900</text>
<text class="t" text-anchor="middle" x="2285.6" y="1155">1000</text>
<text class="c" x="2375" y="684.5">0.6</text>
<text class="c" x="2375" y="752">0.4</text>
<text class="c" x="2375" y="819.5">0.2</text>
<text class="c" x="2375" y="888">0</text>
<text class="c" x="2375" y="954.5">-0.2</text>
<text class="c" x="2375" y="1023">-0.4</text>
<text class="c" x="2375" y="1090.5">-0.6</text>
<text class="r" style="font-size:43px" x="2375" y="630">r</text>
<text class="p" x="1254" y="685">(d)</text>
<rect x="2345" y="676.5" width="22.5" height="412.5" fill="url(#jet)"/>
<ellipse cx="1523.5" cy="1060.9" rx="1.9" ry="8" fill="#6a6a6a"/>
<ellipse cx="1523.5" cy="1001.8" rx="1.9" ry="8" fill="#6a6a6a"/>
<ellipse cx="1523.5" cy="942.6" rx="1.9" ry="8" fill="#6a6a6a"/>
<ellipse cx="1523.5" cy="883.5" rx="1.9" ry="8" fill="#6a6a6a"/>
<ellipse cx="1523.5" cy="824.4" rx="1.9" ry="8" fill="#6a6a6a"/>
<ellipse cx="1523.5" cy="765.2" rx="1.9" ry="8" fill="#6a6a6a"/>
</g>
<!-- panel e -->
<g>
<path d="M355.6 1212.5V1636.5M297 1606.2H1119M472.8 1212.5V1636.5M297 1545.6H1119M590 1212.5V1636.5M297 1485.1H1119M707.2 1212.5V1636.5M297 1424.5H1119M824.5 1212.5V1636.5M297 1363.9H1119M941.7 1212.5V1636.5M297 1303.4H1119M1058.9 1212.5V1636.5M297 1242.8H1119" stroke="#f5f5f5" stroke-width="1.4" fill="none"/>
<path d="M297 1636.5H1119V1212.5M355.6 1636.5v-8M1119 1606.2h-8M472.8 1636.5v-8M1119 1545.6h-8M590 1636.5v-8M1119 1485.1h-8M707.2 1636.5v-8M1119 1424.5h-8M824.5 1636.5v-8M1119 1363.9h-8M941.7 1636.5v-8M1119 1303.4h-8M1058.9 1636.5v-8M1119 1242.8h-8" stroke="#cfcfcf" stroke-width="1.8" fill="none"/>
<g clip-path="url(#cp_e)"><g filter="url(#soft)">
<rect x="290" y="1205" width="840" height="440" fill="#ffcc00"/>
<g transform="translate(0 1140) scale(0.5)">
<rect x="585" y="135" width="415" height="400" rx="30" fill="#80ff80" stroke="#111" stroke-width="0.8" stroke-opacity="0.75"/>
<rect x="585" y="135" width="407" height="393" rx="35" fill="#05fffa" stroke="#111" stroke-width="0.8" stroke-opacity="0.75"/>
<rect x="585" y="135" width="400" height="385" rx="40" fill="#00b2ff" stroke="#111" stroke-width="0.8" stroke-opacity="0.75"/>
<path d="M830 140C842 137 945.5 129 960 140C974.5 151 974.5 234 975 250C975.5 266 968.5 301 965 300C961.5 299 946.5 251 940 240C933.5 229 910 197 900 190C890 183 847 175 840 170C833 165 818 143 830 140Z" fill="#05fffa" stroke="#111" stroke-width="0.8" stroke-opacity="0.75"/>
<path d="M612 140C633.2 124 796.2 136.5 820 140C843.8 143.5 841 169 850 175C859 181 900.5 191.5 910 200C919.5 208.5 939.5 246 945 260C950.5 274 961.5 322 965 340C968.5 358 979 424 980 440C981 456 978 492.5 975 500C972 507.5 983.5 513.5 950 515C916.5 516.5 673.5 518.5 640 515C606.5 511.5 618.2 501.5 615 480C611.8 458.5 608.3 334 608 300C607.7 266 590.8 156 612 140Z" fill="#1560ee" stroke="#111" stroke-width="2.5" stroke-opacity="0.75"/>
<path d="M618 230C620.5 218 635.8 217 640 210C644.2 203 655 166 660 160C665 154 686 146 690 150C694 154 695 191 700 200C705 209 731 234 740 240C749 246 781 253 790 260C799 267 819 301.5 830 310C841 318.5 888 337 900 345C912 353 942.8 379.5 950 390C957.2 400.5 970 439 972 450C974 461 972.7 493.8 970 500C967.3 506.2 977 510.8 945 512C913 513.2 682.3 515.2 650 512C617.7 508.8 625.5 498.2 622 480C618.5 461.8 615.4 355 615 330C614.6 305 615.5 242 618 230Z" fill="#0618a8" stroke="#111" stroke-width="2.5" stroke-opacity="0.75"/>
<path d="M680 310C685.2 306.5 690.7 339.5 700 350C709.3 360.5 748.3 388.3 760 400C771.7 411.7 790.7 439.5 800 450C809.3 460.5 840 483.6 840 490C840 496.4 816.3 503.2 800 505C783.7 506.8 716.3 509.1 700 505C683.7 500.9 665.2 484.6 660 470C654.8 455.4 652.7 398.7 655 380C657.3 361.3 674.8 313.5 680 310Z" fill="#041080"/>
<path d="M985 140C1009.7 132 1202 132 1225 140C1248 148 1216 204 1215 220C1214 236 1217 285 1215 300C1213 315 1202.5 361.5 1195 370C1187.5 378.5 1151.5 383 1140 385C1128.5 387 1089 391.5 1080 390C1071 388.5 1056 370 1050 370C1044 370 1025.5 390 1020 390C1014.5 390 998.5 379 995 370C991.5 361 986.7 315 985 300C983.3 285 978 236 978 220C978 204 960.3 148 985 140Z" fill="#ff1f00" stroke="#111" stroke-width="2.5" stroke-opacity="0.75"/>
<path d="M1000 150C1002.7 143.3 1026.7 145.3 1030 150C1033.3 154.7 1027.7 178.3 1025 185C1022.3 191.7 1013.3 204.7 1010 200C1006.7 195.3 997.3 156.7 1000 150Z" fill="#9e0000"/>
<path d="M1105 150C1110.7 145.3 1149 145.3 1155 150C1161 154.7 1153.3 177 1150 185C1146.7 193 1135.1 210 1130 210C1124.9 210 1115.3 193 1112 185C1108.7 177 1099.3 154.7 1105 150Z" fill="#9e0000"/>
<path d="M990 250C991.7 244 1001.7 253.3 1003 260C1004.3 266.7 1001.7 294 1000 300C998.3 306 991.3 311.7 990 305C988.7 298.3 988.3 256 990 250Z" fill="#9e0000"/>
<path d="M1265 140C1280.5 131 1381.5 102 1395 140C1408.5 178 1414.5 482 1400 520C1385.5 558 1272 522 1250 520C1228 518 1192 503 1180 500C1168 497 1133 495 1130 490C1127 485 1143 456 1150 450C1157 444 1192 440 1200 430C1208 420 1224 363 1230 350C1236 337 1259 312 1260 300C1261 288 1239.5 246 1240 230C1240.5 214 1249.5 149 1265 140Z" fill="#80ff80" stroke="#111" stroke-width="2.5" stroke-opacity="0.75"/>
<path d="M1290 140C1298.5 132 1374.5 124 1385 140C1395.5 156 1393.7 263 1395 300C1396.3 337 1411.5 489 1398 510C1384.5 531 1279.3 512 1260 510C1240.7 508 1209 498 1205 490C1201 482 1214.5 441 1220 430C1225.5 419 1253 393 1260 380C1267 367 1286 316 1290 300C1294 284 1300 236 1300 220C1300 204 1281.5 148 1290 140Z" fill="#05fffa" stroke="#111" stroke-width="2.5" stroke-opacity="0.75"/>
<path d="M1320 250C1323.5 243 1344.5 229 1350 230C1355.5 231 1371.2 248 1375 260C1378.8 272 1386.3 326 1388 350C1389.7 374 1403.8 484.8 1392 500C1380.2 515.2 1286.7 504 1270 502C1253.3 500 1228 487.2 1225 480C1222 472.8 1233.5 441 1240 430C1246.5 419 1282.5 383 1290 370C1297.5 357 1312 312 1315 300C1318 288 1316.5 257 1320 250Z" fill="#1560ee" stroke="#111" stroke-width="2.5" stroke-opacity="0.75"/>
<path d="M1290 400C1297.6 393.9 1330.1 379.2 1340 378C1349.9 376.8 1369.4 381.6 1375 390C1380.6 398.4 1386.8 437.8 1388 450C1389.2 462.2 1395.3 489.4 1385 495C1374.7 500.6 1313.2 500.9 1300 498C1286.8 495.1 1274.9 477.9 1272 470C1269.1 462.1 1272.9 438.2 1275 430C1277.1 421.8 1282.4 406.1 1290 400Z" fill="#0618a8" stroke="#111" stroke-width="2.5" stroke-opacity="0.75"/>
<rect x="1398" y="140" width="30" height="405" fill="#ff1f00" stroke="#111" stroke-width="0.8" stroke-opacity="0.75"/>
<rect x="1405" y="150" width="15" height="180" rx="6" fill="#b30000"/>
<path d="M585 545C606.5 541.5 758.5 545.5 800 545C841.5 544.5 960 540 1000 540C1040 540 1160 546 1200 545C1240 544 1377 530 1400 530C1423 530 1427.5 540.5 1430 545C1432.5 549.5 1430 569.5 1425 575C1420 580.5 1392.5 598.5 1380 600C1367.5 601.5 1328 592.8 1300 590C1272 587.2 1134 573.5 1100 572C1066 570.5 990 573.7 960 575C930 576.3 837.5 584.5 800 585C762.5 585.5 606.5 584 585 580C563.5 576 563.5 548.5 585 545Z" fill="#ff1f00" stroke="#111" stroke-width="2.5" stroke-opacity="0.75"/>
<path d="M610 568C625 569.2 671.7 573 700 575C728.3 577 766.7 579.2 780 580" fill="none" stroke="#7a0606" stroke-width="6" stroke-opacity="0.9"/>
<path d="M640 610C661.5 600.2 770 593 800 592C830 591 922 591.2 940 600C958 608.8 975 664 980 680C985 696 992 748 990 760C988 772 969 793 960 800C951 807 916 824 900 830C884 836 816 858 800 860C784 862 755 856 740 850C725 844 665.5 806 650 800C634.5 794 591.5 801 585 790C578.5 779 579.5 708 585 690C590.5 672 618.5 619.8 640 610Z" fill="#ff1f00" stroke="#111" stroke-width="2.5" stroke-opacity="0.75"/>
<path d="M675 660C680.6 648.7 700 633.3 710 630C720 626.7 746 629.7 750 635C754 640.3 746.7 661.3 740 670C733.3 678.7 706.7 692.7 700 700C693.3 707.3 694.3 723 690 725C685.7 727 670 723.7 668 715C666 706.3 669.4 671.3 675 660Z" fill="#9e0000"/>
<path d="M665 775C667.7 772.3 702 781.7 720 785C738 788.3 790.7 796 800 800C809.3 804 803.3 814.3 790 815C776.7 815.7 716.7 810.3 700 805C683.3 799.7 662.3 777.7 665 775Z" fill="#9e0000"/>
<path d="M615 735C617.3 731 632.3 726 635 730C637.7 734 637.3 761 635 765C632.7 769 620.7 764 618 760C615.3 756 612.7 739 615 735Z" fill="#9e0000"/>
<path d="M585 585C590.5 577.8 633.5 585.5 640 588C646.5 590.5 653 604.8 650 610C647 615.2 616.5 635 610 640C603.5 645 587.5 665.5 585 660C582.5 654.5 579.5 592.2 585 585Z" fill="#80ff80" stroke="#111" stroke-width="0.8" stroke-opacity="0.75"/>
<path d="M940 590C944 584.5 974 576.2 1000 575C1026 573.8 1166 576.3 1200 578C1234 579.7 1326 569.8 1340 592C1354 614.2 1368 779.2 1340 800C1312 820.8 1091 806 1060 800C1029 794 1037 751 1030 740C1023 729 997 701 990 690C983 679 965 640 960 630C955 620 936 595.5 940 590Z" fill="#1560ee" stroke="#111" stroke-width="2.5" stroke-opacity="0.75"/>
<path d="M960 600C963.3 593.6 989.3 583.3 1000 582C1010.7 580.7 1034.7 584.9 1040 590C1045.3 595.1 1044 612.7 1040 620C1036 627.3 1018.7 643.7 1010 645C1001.3 646.3 981.7 636 975 630C968.3 624 956.7 606.4 960 600Z" fill="#0618a8" stroke="#111" stroke-width="2.5" stroke-opacity="0.75"/>
<path d="M1060 595C1069.3 589.8 1126.7 586.2 1150 585C1173.3 583.8 1238.4 583.2 1260 585C1281.6 586.8 1331.5 594.8 1335 600C1338.5 605.2 1305.8 624.2 1290 630C1274.2 635.8 1216.3 644.2 1200 650C1183.7 655.8 1162.8 676.5 1150 680C1137.2 683.5 1095.8 683.5 1090 680C1084.2 676.5 1102.3 655.8 1100 650C1097.7 644.2 1074.7 636.4 1070 630C1065.3 623.6 1050.7 600.2 1060 595Z" fill="#0618a8" stroke="#111" stroke-width="2.5" stroke-opacity="0.75"/>
<path d="M585 805C589.6 788.8 632.1 802.1 640 805C647.9 807.9 673.3 834.6 680 840C686.7 845.4 710 868.2 720 870C730 871.8 785 865.3 800 862C815 858.7 900 826.8 900 830C900 833.2 826.2 885.8 800 900C773.8 914.2 602.9 1007.9 585 1000C567.1 992.1 580.4 821.2 585 805Z" fill="#80ff80" stroke="#111" stroke-width="0.8" stroke-opacity="0.75"/>
<path d="M655 830C658.5 826.5 690.1 845.3 700 850C709.9 854.7 730.7 867.7 740 870C749.3 872.3 780 866.5 780 870C780 873.5 750.5 894.8 740 900C729.5 905.2 698.2 917.3 690 915C681.8 912.7 674.1 889.9 670 880C665.9 870.1 651.5 833.5 655 830Z" fill="#ffcc00" stroke="#111" stroke-width="0.8" stroke-opacity="0.75"/>
<path d="M585 890C588.5 880 613.5 896 620 900C626.5 904 644 926 650 930C656 934 686.5 933 680 940C673.5 947 594.5 1005 585 1000C575.5 995 581.5 900 585 890Z" fill="#05fffa" stroke="#111" stroke-width="0.8" stroke-opacity="0.75"/>
</g>
<g transform="translate(640 1140) scale(0.5)">
<rect x="190" y="135" width="780" height="410" fill="#1560ee"/>
<path d="M190 140C201 99.5 291 129 300 140C309 151 281.5 226 280 250C278.5 274 282 361 285 380C288 399 302.5 433.5 310 440C317.5 446.5 349 448 360 445C371 442 426 406.5 420 410C414 413.5 323 466.5 300 480C277 493.5 201 579 190 545C179 511 179 180.5 190 140Z" fill="#05fffa" stroke="#111" stroke-width="0.8" stroke-opacity="0.75"/>
<path d="M190 135C197.5 94 257.2 123.5 265 135C272.8 146.5 266.9 225.5 268 250C269.1 274.5 273.3 360 276 380C278.7 400 289.1 442.5 295 450C300.9 457.5 345.5 445.5 335 455C324.5 464.5 204.5 577 190 545C175.5 513 182.5 176 190 135Z" fill="#80ff80" stroke="#111" stroke-width="0.8" stroke-opacity="0.75"/>
<path d="M190 135C193.2 94 217.4 123.5 222 135C226.6 146.5 233.6 225.5 236 250C238.4 274.5 242.6 359 246 380C249.4 401 264.6 450 270 460C275.4 470 308 471.5 300 480C292 488.5 201 579.5 190 545C179 510.5 186.8 176 190 135Z" fill="#ffcc00" stroke="#111" stroke-width="2.5" stroke-opacity="0.75"/>
<path d="M480 235C487 229.8 539 217.7 560 215C581 212.3 640.2 210.8 660 212C679.8 213.2 720.7 219.4 730 225C739.3 230.6 750.5 251.2 740 260C729.5 268.8 656.3 294.2 640 300C623.7 305.8 609.3 312.3 600 310C590.7 307.7 571.7 285.8 560 280C548.3 274.2 509.3 265.2 500 260C490.7 254.8 473 240.2 480 235Z" fill="#05fffa" stroke="#111" stroke-width="2.5" stroke-opacity="0.75"/>
<path d="M640 250C645.3 245.5 678.7 238 690 238C701.3 238 723.7 245.7 725 250C726.3 254.3 710 267.1 700 270C690 272.9 658 274.7 650 272C642 269.3 634.7 254.5 640 250Z" fill="#bdff42" stroke="#111" stroke-width="0.8" stroke-opacity="0.75"/>
<path d="M690 150C694.7 144.8 741.3 145 760 145C778.7 145 841.8 145.3 850 150C858.2 154.7 840.5 178 830 185C819.5 192 772.8 209.4 760 210C747.2 210.6 728.2 197 720 190C711.8 183 685.3 155.2 690 150Z" fill="#0618a8" stroke="#111" stroke-width="2.5" stroke-opacity="0.75"/>
<path d="M450 320C452.7 315.7 475.3 314.7 480 318C484.7 321.3 487.7 340.7 485 345C482.3 349.3 464.7 353.3 460 350C455.3 346.7 447.3 324.3 450 320Z" fill="#0618a8"/>
<path d="M600 310C618.7 300.5 686.7 268.5 700 262C713.3 255.5 786.7 218.5 800 212C813.3 205.5 889.7 169.8 900 165C910.3 160.2 951.3 141 955 140C958.7 139 965.3 144.1 955 150C944.7 155.9 822.3 216.5 800 228C777.7 239.5 646.7 308.4 620 322C593.3 335.6 413.3 426.5 400 432C386.7 437.5 406.7 413.1 420 405C433.3 396.9 581.3 319.5 600 310Z" fill="#05fffa"/>
</g>
<path d="M297 1635.2L1117.5 1211.2" stroke="#30c8d8" stroke-opacity="0.8" stroke-width="2.5" fill="none"/>
</g></g>
<text class="t" text-anchor="end" x="247" y="1253">1000</text>
<text class="t" text-anchor="end" x="235" y="1310.5">900</text>
<text class="t" text-anchor="end" x="235" y="1375.5">800</text>
<text class="t" text-anchor="end" x="235" y="1430">700</text>
<text class="t" text-anchor="end" x="235" y="1494">600</text>
<text class="t" text-anchor="end" x="235" y="1550">500</text>
<text class="t" text-anchor="end" x="235" y="1610.5">400</text>
<text class="t" text-anchor="middle" x="350.6" y="1699">400</text>
<text class="t" text-anchor="middle" x="455.6" y="1701">500</text>
<text class="t" text-anchor="middle" x="583.1" y="1701">600</text>
<text class="t" text-anchor="middle" x="704.6" y="1700">700</text>
<text class="t" text-anchor="middle" x="819.1" y="1700">800</text>
<text class="t" text-anchor="middle" x="936.6" y="1700">900</text>
<text class="t" text-anchor="middle" x="1054.6" y="1697.5">1000</text>
<text class="c" x="1160" y="1221.5">0.6</text>
<text class="c" x="1160" y="1288">0.4</text>
<text class="c" x="1160" y="1354.5">0.2</text>
<text class="c" x="1160" y="1421.5">0</text>
<text class="c" x="1160" y="1488">-0.2</text>
<text class="c" x="1160" y="1554">-0.4</text>
<text class="c" x="1160" y="1620.5">-0.6</text>
<text class="r" style="font-size:43px" x="1141.5" y="1172.5">r</text>
<text class="p" x="32.5" y="1222.5">(e)</text>
<rect x="1129" y="1213.5" width="22.5" height="421.5" fill="url(#jet)"/>
<ellipse cx="287.5" cy="1606.7" rx="1.9" ry="8" fill="#c4c4c4"/>
<ellipse cx="287.5" cy="1546.1" rx="1.9" ry="8" fill="#c4c4c4"/>
<ellipse cx="287.5" cy="1485.6" rx="1.9" ry="8" fill="#c4c4c4"/>
<ellipse cx="287.5" cy="1425" rx="1.9" ry="8" fill="#c4c4c4"/>
<ellipse cx="287.5" cy="1364.4" rx="1.9" ry="8" fill="#c4c4c4"/>
<ellipse cx="287.5" cy="1303.9" rx="1.9" ry="8" fill="#c4c4c4"/>
</g>
<!-- panel f -->
<g>
<path d="M1588.8 1211.5V1622.5M1532 1593.1H2329M1702.5 1211.5V1622.5M1532 1534.4H2329M1816.1 1211.5V1622.5M1532 1475.7H2329M1929.8 1211.5V1622.5M1532 1417H2329M2043.4 1211.5V1622.5M1532 1358.3H2329M2157 1211.5V1622.5M1532 1299.6H2329M2270.7 1211.5V1622.5M1532 1240.9H2329" stroke="#f5f5f5" stroke-width="1.4" fill="none"/>
<path d="M1532 1622.5H2329V1211.5M1588.8 1622.5v-8M2329 1593.1h-8M1702.5 1622.5v-8M2329 1534.4h-8M1816.1 1622.5v-8M2329 1475.7h-8M1929.8 1622.5v-8M2329 1417h-8M2043.4 1622.5v-8M2329 1358.3h-8M2157 1622.5v-8M2329 1299.6h-8M2270.7 1622.5v-8M2329 1240.9h-8" stroke="#cfcfcf" stroke-width="1.8" fill="none"/>
<g clip-path="url(#cp_f)"><g filter="url(#soft)">
<rect x="1525" y="1205" width="815" height="430" fill="#e9ff16"/>
<g transform="translate(1240 1140) scale(0.5)">
<rect x="575" y="135" width="387" height="383" rx="25" fill="#4dffb2" stroke="#111" stroke-width="0.8" stroke-opacity="0.75"/>
<rect x="575" y="135" width="377" height="373" rx="30" fill="#00c7ff" stroke="#111" stroke-width="0.8" stroke-opacity="0.75"/>
<path d="M600 140C633 124 896 129 930 140C964 151 939.5 224 940 250C940.5 276 936 378 935 400C934 422 933.5 460.8 930 470C926.5 479.2 929 489.5 900 492C871 494.5 669 497.2 640 495C611 492.8 614 489.5 610 470C606 450.5 601 333 600 300C599 267 567 156 600 140Z" fill="#1560ee" stroke="#111" stroke-width="2.5" stroke-opacity="0.75"/>
<path d="M622 145C634.3 129.5 731.2 139.5 745 145C758.8 150.5 755.5 191 760 200C764.5 209 780 230 790 235C800 240 852.5 247 860 250C867.5 253 871 262.5 865 265C859 267.5 809.5 268.5 800 275C790.5 281.5 775 317.5 770 330C765 342.5 753 389 750 400C747 411 742.5 433 740 440C737.5 447 729 472 725 470C721 468 703.5 421 700 420C696.5 419 693 460 690 460C687 460 673.5 420.5 670 420C666.5 419.5 658.8 455 655 455C651.2 455 635.3 435.5 632 420C628.7 404.5 623 327.5 622 300C621 272.5 609.7 160.5 622 145Z" fill="#0618a8" stroke="#111" stroke-width="2.5" stroke-opacity="0.75"/>
<rect x="584" y="150" width="16" height="350" rx="6" fill="#00c7ff"/>
<path d="M962 270C965.6 253.7 980.2 250 985 258C989.8 266 996 308.4 998 330C1000 351.6 1001.7 400 1000 420C998.3 440 989.7 473.3 985 480C980.3 486.7 968.6 483.3 965 470C961.4 456.7 958.4 406.7 958 380C957.6 353.3 958.4 286.3 962 270Z" fill="#ff8f00" stroke="#111" stroke-width="2.5" stroke-opacity="0.75"/>
<rect x="963" y="300" width="12" height="70" rx="6" fill="#ff0f00"/>
<path d="M965 145C968.3 137.7 991.7 139 995 145C998.3 151 993.3 182.7 990 190C986.7 197.3 973.3 206 970 200C966.7 194 961.7 152.3 965 145Z" fill="#ff8f00" stroke="#111" stroke-width="0.8" stroke-opacity="0.75"/>
<path d="M1075 200C1082 193.6 1117.8 185.6 1130 185C1142.2 184.4 1171.8 199.7 1180 195C1188.2 190.3 1179 150.8 1200 145C1221 139.2 1341.3 105.9 1360 145C1378.7 184.1 1371.7 440.3 1360 480C1348.3 519.7 1278.7 486.2 1260 485C1241.3 483.8 1209.3 475.2 1200 470C1190.7 464.8 1180 450.5 1180 440C1180 429.5 1200 391.7 1200 380C1200 368.3 1181.2 349.3 1180 340C1178.8 330.7 1191.2 309.3 1190 300C1188.8 290.7 1180.5 263.5 1170 260C1159.5 256.5 1111.7 272.3 1100 270C1088.3 267.7 1072.9 248.2 1070 240C1067.1 231.8 1068 206.4 1075 200Z" fill="#4dffb2" stroke="#111" stroke-width="2.5" stroke-opacity="0.75"/>
<path d="M1180 200C1187 193 1220.7 176.4 1230 170C1239.3 163.6 1245.4 147.9 1260 145C1274.6 142.1 1343.9 107.1 1355 145C1366.1 182.9 1363.8 432.1 1355 470C1346.2 507.9 1291.7 474.7 1280 470C1268.3 465.3 1256.8 440.5 1255 430C1253.2 419.5 1265.6 391.7 1265 380C1264.4 368.3 1253.5 340.5 1250 330C1246.5 319.5 1242 298.2 1235 290C1228 281.8 1197.6 267 1190 260C1182.4 253 1171.2 237 1170 230C1168.8 223 1173 207 1180 200Z" fill="#00c7ff" stroke="#111" stroke-width="2.5" stroke-opacity="0.75"/>
<path d="M1240 240C1245.2 231.8 1278.9 205.8 1290 200C1301.1 194.2 1328 184.2 1335 190C1342 195.8 1349.4 237.2 1350 250C1350.6 262.8 1343.5 291.8 1340 300C1336.5 308.2 1319.4 314.2 1320 320C1320.6 325.8 1342.1 340.7 1345 350C1347.9 359.3 1349.1 392.8 1345 400C1340.9 407.2 1316.4 414.3 1310 412C1303.6 409.7 1291.2 389.6 1290 380C1288.8 370.4 1302.3 339.3 1300 330C1297.7 320.7 1276.4 307 1270 300C1263.6 293 1248.5 277 1245 270C1241.5 263 1234.8 248.2 1240 240Z" fill="#1560ee" stroke="#111" stroke-width="2.5" stroke-opacity="0.75"/>
<path d="M1195 400C1200.3 389.3 1224 384.7 1230 390C1236 395.3 1240.7 428.7 1240 440C1239.3 451.3 1231.7 471 1225 475C1218.3 479 1194 480 1190 470C1186 460 1189.7 410.7 1195 400Z" fill="#e9ff16" stroke="#111" stroke-width="0.8" stroke-opacity="0.75"/>
<path d="M1362 140C1365.5 129.3 1406.8 113 1410 140C1413.2 167 1412 518.3 1410 545C1408 571.7 1383.3 543 1380 540C1376.7 537 1361.5 516 1360 500C1358.5 484 1357.9 324 1358 300C1358.1 276 1358.5 150.7 1362 140Z" fill="#ff8f00" stroke="#111" stroke-width="2.5" stroke-opacity="0.75"/>
<rect x="1366" y="295" width="14" height="155" rx="6" fill="#ff0f00"/>
<path d="M575 535C597.5 532.6 762.5 537.5 800 538C837.5 538.5 930 540.8 950 540C970 539.2 980 530.8 1000 530C1020 529.2 1120 531 1150 532C1180 533 1278 538.2 1300 540C1322 541.8 1366 546.5 1370 550C1374 553.5 1352 573.2 1340 575C1328 576.8 1274 569.5 1250 568C1226 566.5 1129 560.6 1100 560C1071 559.4 980 560.5 960 562C940 563.5 926 574.2 900 575C874 575.8 732.5 571.3 700 570C667.5 568.7 587.5 565.5 575 562C562.5 558.5 552.5 537.4 575 535Z" fill="#ff8f00" stroke="#111" stroke-width="2.5" stroke-opacity="0.75"/>
<path d="M1000 548C1016.7 548 1066.7 547.3 1100 548C1133.3 548.7 1168.3 549.7 1200 552C1231.7 554.3 1268.3 558.7 1290 562C1311.7 565.3 1323.3 570.3 1330 572" fill="none" stroke="#b00a04" stroke-width="7" stroke-opacity="0.9"/>
<path d="M1030 551C1045 551 1088.3 550.2 1120 551C1151.7 551.8 1190 553.2 1220 556C1250 558.8 1286.7 566 1300 568" fill="none" stroke="#200404" stroke-width="3" stroke-opacity="0.9"/>
<path d="M575 562C581 546.5 628.5 557.2 635 565C641.5 572.8 641.5 626.5 640 640C638.5 653.5 626.5 692 620 700C613.5 708 579.5 733.8 575 720C570.5 706.2 569 577.5 575 562Z" fill="#00d1ff" stroke="#111" stroke-width="0.8" stroke-opacity="0.75"/>
<path d="M598 570C601.2 563 626.3 567 630 570C633.7 573 636.8 589 635 600C633.2 611 615.7 676 612 680C608.3 684 599.4 651 598 640C596.6 629 594.8 577 598 570Z" fill="#4dffb2" stroke="#111" stroke-width="0.6" stroke-opacity="0.75"/>
<path d="M640 575C654.9 565.9 729.7 571.6 760 572C790.3 572.4 880.8 573.6 900 578C919.2 582.4 925 604.5 925 610C925 615.5 908.8 621.5 900 625C891.2 628.5 860.5 634.8 850 640C839.5 645.2 820.5 664.2 810 670C799.5 675.8 772.8 687.4 760 690C747.2 692.6 709.3 688.5 700 692C690.7 695.5 685.8 714.4 680 720C674.2 725.6 656.4 738.2 650 740C643.6 741.8 627.1 745.5 625 735C622.9 724.5 630.2 668.7 632 650C633.8 631.3 625.1 584.1 640 575Z" fill="#ff8f00" stroke="#111" stroke-width="2.5" stroke-opacity="0.75"/>
<path d="M615 735C618.5 726.8 642.4 718.8 650 720C657.6 721.2 667.2 740.9 680 745C692.8 749.1 734.3 753.2 760 755C785.7 756.8 876.7 758.2 900 760C923.3 761.8 960 765.3 960 770C960 774.7 918.7 795.3 900 800C881.3 804.7 818.7 805.3 800 810C781.3 814.7 751.7 842.3 740 840C728.3 837.7 714 795.8 700 790C686 784.2 629.9 796.4 620 790C610.1 783.6 611.5 743.2 615 735Z" fill="#ff8f00" stroke="#111" stroke-width="2.5" stroke-opacity="0.75"/>
<ellipse cx="800" cy="592" rx="13" ry="10" fill="#fa0000"/>
<ellipse cx="740" cy="600" rx="13" ry="10" fill="#fa0000"/>
<ellipse cx="735" cy="775" rx="13" ry="10" fill="#fa0000"/>
<ellipse cx="795" cy="790" rx="13" ry="10" fill="#fa0000"/>
<path d="M925 575C930.5 569.2 977.5 563 1000 562C1022.5 561 1117 564 1150 565C1183 566 1312 548.5 1330 572C1348 595.5 1359 777.2 1330 800C1301 822.8 1073 808 1040 800C1007 792 1007.5 732 1000 720C992.5 708 970.5 690 965 680C959.5 670 949 630.5 945 620C941 609.5 919.5 580.8 925 575Z" fill="#1560ee" stroke="#111" stroke-width="2.5" stroke-opacity="0.75"/>
<path d="M940 585C944.1 575.9 983.7 571.4 1000 572C1016.3 572.6 1068.3 582.1 1080 590C1091.7 597.9 1100 629.5 1100 640C1100 650.5 1087 670.7 1080 680C1073 689.3 1049.3 717.7 1040 720C1030.7 722.3 1008.8 708.2 1000 700C991.2 691.8 972 663.4 965 650C958 636.6 935.9 594.1 940 585Z" fill="#0618a8" stroke="#111" stroke-width="0.8" stroke-opacity="0.75"/>
<path d="M960 690C964.7 688.7 989.3 714 1000 720C1010.7 726 1040 729.7 1040 735C1040 740.3 1010 760.7 1000 760C990 759.3 970.3 739.3 965 730C959.7 720.7 955.3 691.3 960 690Z" fill="#00f0ff" stroke="#111" stroke-width="0.8" stroke-opacity="0.75"/>
<path d="M575 780C578.5 757.5 604.5 773 610 775C615.5 777 625 792.5 630 800C635 807.5 651 844 660 850C669 856 710 860 720 860C730 860 752 849 760 850C768 851 806 862 800 870C794 878 722.5 917 700 930C677.5 943 587.5 1015 575 1000C562.5 985 571.5 802.5 575 780Z" fill="#00d1ff" stroke="#111" stroke-width="0.8" stroke-opacity="0.75"/>
<path d="M640 860C644 855 682 848 690 850C698 852 719 874 720 880C721 886 707 908 700 910C693 912 656 905 650 900C644 895 636 865 640 860Z" fill="#4dffb2" stroke="#111" stroke-width="0.8" stroke-opacity="0.75"/>
<path d="M584 880C585.6 871 597.6 865 600 870C602.4 875 609.6 921 608 930C606.4 939 586.4 965 584 960C581.6 955 582.4 889 584 880Z" fill="#1560ee"/>
<rect x="612" y="780" width="16" height="90" rx="6" fill="#e9ff16" stroke="#111" stroke-width="0.6" stroke-opacity="0.75"/>
<rect x="650" y="790" width="18" height="50" rx="6" fill="#e9ff16" stroke="#111" stroke-width="0.6" stroke-opacity="0.75"/>
</g>
<g transform="translate(1635 1140) scale(0.5)">
<rect x="640" y="135" width="760" height="400" fill="#4dffb2"/>
<path d="M640 140C643.2 100.5 667 134 672 140C677 146 686 189 690 200C694 211 711 237 712 250C713 263 702 313 700 330C698 347 690 406 692 420C694 434 725.2 458.5 720 470C714.8 481.5 648 568 640 535C632 502 636.8 179.5 640 140Z" fill="#e9ff16" stroke="#111" stroke-width="2.5" stroke-opacity="0.75"/>
<path d="M720 140C760 137 1117 136.5 1160 140C1203 143.5 1166 170.5 1150 175C1134 179.5 1027 184.5 1000 185C973 185.5 904 181.5 880 180C856 178.5 776 174 760 170C744 166 680 143 720 140Z" fill="#00d1ff" stroke="#111" stroke-width="0.8" stroke-opacity="0.75"/>
<path d="M880 150C890 147.8 982 147 1000 148C1018 149 1062 157.6 1060 160C1058 162.4 996 171 980 172C964 173 910 172.2 900 170C890 167.8 870 152.2 880 150Z" fill="#1560ee"/>
<path d="M1130 140C1153.5 134 1368 135 1385 140C1402 145 1316.5 180.5 1300 190C1283.5 199.5 1232 230 1220 235C1208 240 1187 243.5 1180 240C1173 236.5 1155 210 1150 200C1145 190 1106.5 146 1130 140Z" fill="#1560ee" stroke="#111" stroke-width="2.5" stroke-opacity="0.75"/>
<path d="M1160 150C1176 145.8 1320 143.5 1330 148C1340 152.5 1273 188.3 1260 195C1247 201.7 1209 215.5 1200 215C1191 214.5 1174 196.5 1170 190C1166 183.5 1144 154.2 1160 150Z" fill="#0618a8"/>
<path d="M770 245C770 241.3 827.8 232.7 850 230C872.2 227.3 935.5 222.6 960 222C984.5 221.4 1036.7 223.5 1060 225C1083.3 226.5 1150.7 230.9 1160 235C1169.3 239.1 1154 255.3 1140 260C1126 264.7 1063.3 274.4 1040 275C1016.7 275.6 962.2 266.5 940 265C917.8 263.5 869.8 264.3 850 262C830.2 259.7 770 248.7 770 245Z" fill="#e9ff16" stroke="#111" stroke-width="2.5" stroke-opacity="0.75"/>
<path d="M1020 256C1028.3 256.3 1053.3 258 1070 258C1086.7 258 1111.7 256.3 1120 256" fill="none" stroke="#e04808" stroke-width="7" stroke-opacity="0.9"/>
<path d="M880 310C883.5 303.6 906 291.2 920 290C934 288.8 987.2 296.5 1000 300C1012.8 303.5 1034.7 314.2 1030 320C1025.3 325.8 976.3 347.1 960 350C943.7 352.9 899.3 349.7 890 345C880.7 340.3 876.5 316.4 880 310Z" fill="#00d1ff" stroke="#111" stroke-width="0.8" stroke-opacity="0.75"/>
<path d="M880 325C880 320.6 910.7 312 920 312C929.3 312 950 320.6 950 325C950 329.4 929.3 345 920 345C910.7 345 880 329.4 880 325Z" fill="#1560ee"/>
<path d="M730 420C739 415 788 401 800 400C812 399 851 405 850 410C849 415 802 443 790 450C778 457 738 480 730 480C722 480 710 456 710 450C710 444 721 425 730 420Z" fill="#00d1ff" stroke="#111" stroke-width="0.8" stroke-opacity="0.75"/>
<path d="M790 385C790 381.7 845.3 375 860 375C874.7 375 900 381.7 900 385C900 388.3 874.7 400 860 400C845.3 400 790 388.3 790 385Z" fill="#e9ff16" stroke="#111" stroke-width="0.6" stroke-opacity="0.75"/>
<path d="M660 517L1385 143L1320 143L1100 258L900 362L700 465Z" fill="url(#mot)" fill-opacity="0.8"/>
<path d="M730 400L900 380L830 450L730 480Z" fill="url(#motb)" fill-opacity="0.8"/>
</g>
<path d="M1532 1621.2L2327.5 1210.2" stroke="#183040" stroke-opacity="0.5" stroke-width="2.5" fill="none"/>
</g></g>
<text class="t" text-anchor="end" x="1478.5" y="1253">1000</text>
<text class="t" text-anchor="end" x="1471" y="1312.5">900</text>
<text class="t" text-anchor="end" x="1471" y="1375.5">800</text>
<text class="t" text-anchor="end" x="1471" y="1429">700</text>
<text class="t" text-anchor="end" x="1471" y="1494">600</text>
<text class="t" text-anchor="end" x="1471" y="1551.5">500</text>
<text class="t" text-anchor="end" x="1471" y="1610.5">400</text>
<text class="t" text-anchor="middle" x="1577.1" y="1683.5">400</text>
<text class="t" text-anchor="middle" x="1685.1" y="1685">500</text>
<text class="t" text-anchor="middle" x="1812.6" y="1686">600</text>
<text class="t" text-anchor="middle" x="1933.6" y="1685">700</text>
<text class="t" text-anchor="middle" x="2046.6" y="1684">800</text>
<text class="t" text-anchor="middle" x="2165.6" y="1684">900</text>
<text class="t" text-anchor="middle" x="2282.1" y="1683">1000</text>
<text class="c" x="2368.5" y="1219.5">0.4</text>
<text class="c" x="2368.5" y="1276.5">0.3</text>
<text class="c" x="2368.5" y="1333">0.2</text>
<text class="c" x="2368.5" y="1390.5">0.1</text>
<text class="c" x="2368.5" y="1447">0</text>
<text class="c" x="2368.5" y="1504">-0.1</text>
<text class="c" x="2368.5" y="1560.5">-0.2</text>
<text class="c" x="2368.5" y="1617">-0.3</text>
<text class="r" style="font-size:43px" x="2365" y="1172.5">r</text>
<text class="p" x="1254" y="1221.5">(f)</text>
<rect x="2339" y="1211.5" width="22" height="410" fill="url(#jet)"/>
</g>
<!-- panel g -->
<g>
<path d="M356.9 1743.5V2168.5M298 2138.1H1124M474.7 1743.5V2168.5M298 2077.4H1124M592.5 1743.5V2168.5M298 2016.7H1124M710.2 1743.5V2168.5M298 1956H1124M828 1743.5V2168.5M298 1895.3H1124M945.8 1743.5V2168.5M298 1834.6H1124M1063.6 1743.5V2168.5M298 1773.9H1124" stroke="#f5f5f5" stroke-width="1.4" fill="none"/>
<path d="M298 2168.5H1124V1743.5M356.9 2168.5v-8M1124 2138.1h-8M474.7 2168.5v-8M1124 2077.4h-8M592.5 2168.5v-8M1124 2016.7h-8M710.2 2168.5v-8M1124 1956h-8M828 2168.5v-8M1124 1895.3h-8M945.8 2168.5v-8M1124 1834.6h-8M1063.6 2168.5v-8M1124 1773.9h-8" stroke="#cfcfcf" stroke-width="1.8" fill="none"/>
<g clip-path="url(#cp_g)"><g filter="url(#soft)">
<rect x="290" y="1735" width="845" height="445" fill="#ff1a00"/>
<g transform="translate(0 1680) scale(0.5)">
<rect x="580" y="100" width="420" height="397" rx="40" fill="#ff9400" stroke="#111" stroke-width="0.8" stroke-opacity="0.75"/>
<rect x="580" y="100" width="416" height="390" rx="42" fill="#faff05" stroke="#111" stroke-width="0.8" stroke-opacity="0.75"/>
<rect x="580" y="100" width="412" height="384" rx="44" fill="#c7ff38" stroke="#111" stroke-width="0.8" stroke-opacity="0.75"/>
<path d="M590 450C595 447.6 629 459.4 640 462C651 464.6 688 474.2 700 476C712 477.8 760 479 760 480C760 481 717 485.4 700 486C683 486.6 601 489.6 590 486C579 482.4 585 452.4 590 450Z" fill="#ffd100"/>
<path d="M585 115C589.3 100.3 622.9 106.5 628 115C633.1 123.5 634.6 185.3 636 200C637.4 214.7 643.6 257 642 262C640.4 267 624.2 250 620 250C615.8 250 603.5 260.8 600 262C596.5 263.2 586.5 276.7 585 262C583.5 247.3 580.7 129.7 585 115Z" fill="#4dffb2" stroke="#111" stroke-width="0.8" stroke-opacity="0.75"/>
<path d="M606 310C606.8 291.5 615.8 281 618 285C620.2 289 626 335.5 628 350C630 364.5 637.6 417.4 638 430C638.4 442.6 634.8 472 632 476C629.2 480 612.6 486.6 610 470C607.4 453.4 605.2 328.5 606 310Z" fill="#fffa00" stroke="#111" stroke-width="0.8" stroke-opacity="0.75"/>
<path d="M622 115C657.8 106.5 953.7 96.5 990 115C1026.3 133.5 986.5 270 985 300C983.5 330 977.5 398.8 975 415C972.5 431.2 965 455.9 960 462C955 468.1 945 474.4 925 476C905 477.6 782.5 478.6 760 478C737.5 477.4 708.8 474.8 700 470C691.2 465.2 676.5 439 672 430C667.5 421 657.7 393 655 380C652.3 367 647.3 318 645 300C642.7 282 634.3 218.5 632 200C629.7 181.5 586.2 123.5 622 115Z" fill="#1affe5" stroke="#111" stroke-width="2.5" stroke-opacity="0.75"/>
<path d="M634 115C668.3 106.5 953.2 96.5 988 115C1022.8 133.5 983.6 271 982 300C980.4 329 974.7 390 972 405C969.3 420 960.2 444.1 955 450C949.8 455.9 937.5 462.6 920 464C902.5 465.4 800 465.4 780 464C760 462.6 728.5 455.4 720 450C711.5 444.6 699.5 420 695 410C690.5 400 678.5 363 675 350C671.5 337 663 295 660 280C657 265 647.6 216.5 645 200C642.4 183.5 599.7 123.5 634 115Z" fill="#00b2ff" stroke="#111" stroke-width="2.5" stroke-opacity="0.75"/>
<path d="M645 115C677.4 107.5 952.5 96.5 986 115C1019.5 133.5 981.8 272.5 980 300C978.2 327.5 972 376.8 968 390C964 403.2 946.8 426.8 940 432C933.2 437.2 914 441.2 900 442C886 442.8 815 442.2 800 440C785 437.8 757.8 426 750 420C742.2 414 727 390 722 380C717 370 704.2 333 700 320C695.8 307 683.8 263 680 250C676.2 237 665.5 203.5 662 190C658.5 176.5 612.6 122.5 645 115Z" fill="#1560ee" stroke="#111" stroke-width="2.5" stroke-opacity="0.75"/>
<path d="M655 115C684.5 106.5 952.7 101.5 985 115C1017.3 128.5 980 228.5 978 250C976 271.5 969.8 319.5 965 330C960.2 340.5 940.5 351.8 930 355C919.5 358.2 873 362.3 860 362C847 361.7 810 355.2 800 352C790 348.8 766.5 336.2 760 330C753.5 323.8 739.8 298 735 290C730.2 282 716.5 259 712 250C707.5 241 695.7 213.5 690 200C684.3 186.5 625.5 123.5 655 115Z" fill="#0a28d8" stroke="#111" stroke-width="2.5" stroke-opacity="0.75"/>
<path d="M668 115C697 108.5 953.8 106.5 985 115C1016.2 123.5 982.5 187 980 200C977.5 213 968 239.4 960 245C952 250.6 916 255.1 900 256C884 256.9 815 255.1 800 254C785 252.9 758 247.9 750 245C742 242.1 725.5 231.5 720 225C714.5 218.5 700.2 191 695 180C689.8 169 639 121.5 668 115Z" fill="#0618a8" stroke="#111" stroke-width="2.5" stroke-opacity="0.75"/>
<path d="M1090 120C1121 112 1387 83 1420 120C1453 157 1429 453 1420 490C1411 527 1343 492 1330 490C1317 488 1298 479 1290 470C1282 461 1257.5 415 1250 400C1242.5 385 1225 335 1215 320C1205 305 1160.5 262 1150 250C1139.5 238 1116 213 1110 200C1104 187 1059 128 1090 120Z" fill="#ff8a00" stroke="#111" stroke-width="0.8" stroke-opacity="0.75"/>
<path d="M1125 120C1152.5 112 1386 83.5 1415 120C1444 156.5 1423 448.5 1415 485C1407 521.5 1346.7 487.3 1335 485C1323.3 482.7 1305.3 471 1298 462C1290.7 453 1269 409.7 1262 395C1255 380.3 1236.7 329.5 1228 315C1219.3 300.5 1183.8 261.5 1175 250C1166.2 238.5 1145 213 1140 200C1135 187 1097.5 128 1125 120Z" fill="#faff05" stroke="#111" stroke-width="0.8" stroke-opacity="0.75"/>
<path d="M1150 120C1174.7 112 1385.8 84 1412 120C1438.2 156 1419.2 444 1412 480C1404.8 516 1350.7 482.5 1340 480C1329.3 477.5 1311.5 464 1305 455C1298.5 446 1281.5 404.5 1275 390C1268.5 375.5 1248 324 1240 310C1232 296 1202.5 261 1195 250C1187.5 239 1169.5 213 1165 200C1160.5 187 1125.3 128 1150 120Z" fill="#80ff80" stroke="#111" stroke-width="0.8" stroke-opacity="0.75"/>
<path d="M1175 120C1197.5 112 1386.7 85 1410 120C1433.3 155 1414.5 434.8 1408 470C1401.5 505.2 1354.6 474.3 1345 472C1335.4 469.7 1318 455.7 1312 447C1306 438.3 1290.7 399.2 1285 385C1279.3 370.8 1262 318.5 1255 305C1248 291.5 1222 260.5 1215 250C1208 239.5 1189 213 1185 200C1181 187 1152.5 128 1175 120Z" fill="#1affe5" stroke="#111" stroke-width="2.5" stroke-opacity="0.75"/>
<path d="M1195 120C1215.3 113 1387 86 1408 120C1429 154 1410.8 425.8 1405 460C1399.2 494.2 1358.3 464 1350 462C1341.7 460 1327.2 448.2 1322 440C1316.8 431.8 1303.2 394 1298 380C1292.8 366 1276.3 314 1270 300C1263.7 286 1241.5 251 1235 240C1228.5 229 1209 202 1205 190C1201 178 1174.7 127 1195 120Z" fill="#00b2ff" stroke="#111" stroke-width="2.5" stroke-opacity="0.75"/>
<path d="M1210 120C1228.1 114 1386.8 89 1406 120C1425.2 151 1406.6 397.5 1402 430C1397.4 462.5 1366.7 446 1360 445C1353.3 444 1339.8 427.5 1335 420C1330.2 412.5 1317 382 1312 370C1307 358 1291.2 314 1285 300C1278.8 286 1256 242 1250 230C1244 218 1229 191 1225 180C1221 169 1191.9 126 1210 120Z" fill="#1560ee" stroke="#111" stroke-width="2.5" stroke-opacity="0.75"/>
<path d="M1215 120C1233 116 1386.5 97 1405 120C1423.5 143 1404.5 324.8 1400 350C1395.5 375.2 1367 372 1360 372C1353 372 1336 358.2 1330 350C1324 341.8 1307 302 1300 290C1293 278 1266.5 239 1260 230C1253.5 221 1238.5 207 1235 200C1231.5 193 1227 168 1225 160C1223 152 1197 124 1215 120Z" fill="#0a28d8" stroke="#111" stroke-width="2.5" stroke-opacity="0.75"/>
<path d="M1250 120C1264.9 114 1389 108 1404 120C1419 132 1405.4 226.5 1400 240C1394.6 253.5 1360 255 1350 255C1340 255 1308 244 1300 240C1292 236 1274.5 221 1270 215C1265.5 209 1257 189.5 1255 180C1253 170.5 1235.1 126 1250 120Z" fill="#0618a8" stroke="#111" stroke-width="2.5" stroke-opacity="0.75"/>
<rect x="1428" y="120" width="22" height="440" fill="#ff8a00" stroke="#111" stroke-width="0.6" stroke-opacity="0.75"/>
<path d="M1005 120C1008.5 106 1036 112 1040 120C1044 128 1046 188 1045 200C1044 212 1034 234 1030 240C1026 246 1007.5 272 1005 260C1002.5 248 1001.5 134 1005 120Z" fill="#ff4c00" stroke="#111" stroke-width="0.8" stroke-opacity="0.75"/>
<path d="M1070 120C1076.5 114 1121 112 1130 120C1139 128 1153 185 1160 200C1167 215 1198 261 1200 270C1202 279 1188 293 1180 290C1172 287 1130 248 1120 240C1110 232 1085.5 216 1080 210C1074.5 204 1066 189 1065 180C1064 171 1063.5 126 1070 120Z" fill="#ff6100" stroke="#111" stroke-width="0.8" stroke-opacity="0.75"/>
<path d="M1040 120C1042.4 113 1065.4 113 1068 120C1070.6 127 1065.3 178 1066 190C1066.7 202 1077.6 234 1075 240C1072.4 246 1043.1 255 1040 250C1036.9 245 1044 203 1044 190C1044 177 1037.6 127 1040 120Z" fill="#c41408"/>
<path d="M1030 262C1035 257.8 1054.6 250 1060 250C1065.4 250 1089.2 259.1 1095 262C1100.8 264.9 1124.2 280.2 1130 285C1135.8 289.8 1159.2 313.3 1165 320C1170.8 326.7 1195.8 356.7 1200 365C1204.2 373.3 1213.8 411.2 1215 420C1216.2 428.8 1212.1 463.3 1215 470C1217.9 476.7 1234.6 497.1 1250 500C1265.4 502.9 1385.8 506.7 1400 505C1414.2 503.3 1417.9 478.8 1420 480C1422.1 481.2 1460 516.2 1425 520C1390 523.8 1055.4 525 1000 525C944.6 525 785 520.2 760 520C735 519.8 706.7 522.7 700 522C693.3 521.3 675 513.4 680 512C685 510.6 736.7 506 760 505C783.3 504 941.2 502.9 960 500C978.8 497.1 982.5 480 985 470C987.5 460 988.8 394.2 990 380C991.2 365.8 996.7 309.8 1000 300C1003.3 290.2 1025 266.2 1030 262Z" fill="#8c0a06" stroke="#111" stroke-width="0.8" stroke-opacity="0.75"/>
<path d="M585 558C596.5 544 664.5 559 700 560C735.5 561 914 564 940 568C966 572 974 596.8 960 600C946 603.2 826 598 800 600C774 602 716 614 700 620C684 626 651.5 652 640 660C628.5 668 590.5 710.2 585 700C579.5 689.8 573.5 572 585 558Z" fill="#00d1ff" stroke="#111" stroke-width="0.8" stroke-opacity="0.75"/>
<path d="M610 575C611.3 571 622.1 568 625 570C627.9 572 633.3 586 632 590C630.7 594 617.9 602 615 600C612.1 598 608.7 579 610 575Z" fill="#1560ee"/>
<path d="M700 575C716 568.8 776 578 800 578C824 578 925 572.8 940 575C955 577.2 964 597 950 600C936 603 823 602 800 605C777 608 735 622.5 720 630C705 637.5 663.5 670 650 680C636.5 690 591.5 729 585 730C578.5 731 579.5 699 585 690C590.5 681 628.5 651.5 640 640C651.5 628.5 684 581.2 700 575Z" fill="#80ff80" stroke="#111" stroke-width="0.8" stroke-opacity="0.75"/>
<path d="M720 590C735 582.8 778 588.8 800 588C822 587.2 925 580.3 940 582C955 583.7 964 602 950 605C936 608 822 608.5 800 612C778 615.5 744 632.2 730 640C716 647.8 674.5 679.5 660 690C645.5 700.5 592.5 742.5 585 745C577.5 747.5 578.5 723.5 585 715C591.5 706.5 636.5 672.5 650 660C663.5 647.5 705 597.2 720 590Z" fill="#faff05" stroke="#111" stroke-width="0.8" stroke-opacity="0.75"/>
<path d="M740 605C754 596.8 779.5 599.5 800 598C820.5 596.5 927 585.8 945 590C963 594.2 974.5 629 980 640C985.5 651 993 690 1000 700C1007 710 1050 732 1050 740C1050 748 1015 774 1000 780C985 786 924 798 900 800C876 802 786 802 760 800C734 798 657.5 783 640 780C622.5 777 590.5 774.5 585 770C579.5 765.5 577.5 744 585 735C592.5 726 644.5 693 660 680C675.5 667 726 613.2 740 605Z" fill="#ff8a00" stroke="#111" stroke-width="0.8" stroke-opacity="0.75"/>
<path d="M760 625C774 619.2 822 614 840 612C858 610 926.5 601.2 940 605C953.5 608.8 969.5 640.5 975 650C980.5 659.5 988.5 691.5 995 700C1001.5 708.5 1039.5 728 1040 735C1040.5 742 1014 764.5 1000 770C986 775.5 922 788 900 790C878 792 802 792 780 790C758 788 695 774.5 680 770C665 765.5 634 750.5 630 745C626 739.5 633 722.5 640 715C647 707.5 688 679 700 670C712 661 746 630.8 760 625Z" fill="#ff1a00" stroke="#111" stroke-width="2.5" stroke-opacity="0.75"/>
<path d="M720 735C725.8 729.8 763.7 718.1 780 715C796.3 711.9 840.2 709.2 860 708C879.8 706.8 933.7 703.6 950 705C966.3 706.4 991.2 715.3 1000 720C1008.8 724.7 1026.2 739.8 1025 745C1023.8 750.2 1004.6 760.9 990 765C975.4 769.1 922.2 778.8 900 780C877.8 781.2 819.8 777.3 800 775C780.2 772.7 739.3 764.7 730 760C720.7 755.3 714.2 740.2 720 735Z" fill="#8c0a06" stroke="#111" stroke-width="2.5" stroke-opacity="0.75"/>
<path d="M940 575C943.5 569 984 562 1000 560C1016 558 1080 555 1100 555C1120 555 1175.5 558 1200 560C1224.5 562 1330.5 551 1345 575C1359.5 599 1373.5 777.5 1345 800C1316.5 822.5 1090.5 806.5 1060 800C1029.5 793.5 1046.5 746 1040 735C1033.5 724 1002.5 701.5 995 690C987.5 678.5 970.5 631.5 965 620C959.5 608.5 936.5 581 940 575Z" fill="#0618a8" stroke="#111" stroke-width="2.5" stroke-opacity="0.75"/>
<path d="M1150 570C1159.3 564.9 1226 570 1250 572C1274 574 1330 578.6 1330 585C1330 591.4 1270 616.7 1250 620C1230 623.3 1193.3 616.7 1180 610C1166.7 603.3 1140.7 575.1 1150 570Z" fill="#0a28d8"/>
<path d="M585 780C590 766.7 648.3 788.3 660 790C671.7 791.7 744 804.3 760 805C776 805.7 888 800.3 900 800C912 799.7 946.7 794.7 940 800C933.3 805.3 823.7 867.3 800 880C776.3 892.7 599.3 996.7 585 990C570.7 983.3 580 793.3 585 780Z" fill="#94ff6b" stroke="#111" stroke-width="0.8" stroke-opacity="0.75"/>
<path d="M770 808C774 801.5 809 805 820 805C831 805 879 803.5 880 808C881 812.5 840 843.8 830 850C820 856.2 786 874.2 780 870C774 865.8 766 814.5 770 808Z" fill="#faff05" stroke="#111" stroke-width="0.8" stroke-opacity="0.75"/>
<path d="M585 785C589.6 768.3 628.8 788.8 640 790C651.2 791.2 710 798.3 720 800C730 801.7 755.8 805 760 810C764.2 815 771.7 852.5 770 860C768.3 867.5 755.4 889.2 740 900C724.6 910.8 597.9 999.6 585 990C572.1 980.4 580.4 801.7 585 785Z" fill="#05fffa" stroke="#111" stroke-width="0.8" stroke-opacity="0.75"/>
<path d="M585 790C589 770.5 619.5 789 625 795C630.5 801 636.5 839.5 640 850C643.5 860.5 655 897 660 900C665 903 685.5 879.5 690 880C694.5 880.5 712 898 705 905C698 912 632 941.5 620 950C608 958.5 588.5 1006 585 990C581.5 974 581 809.5 585 790Z" fill="#1560ee" stroke="#111" stroke-width="2.5" stroke-opacity="0.75"/>
<rect x="640" y="800" width="22" height="90" rx="8" fill="#00f0ff" stroke="#111" stroke-width="0.6" stroke-opacity="0.75"/>
<path d="M760 800L900 800L780 870Z" fill="url(#mot)" fill-opacity="0.8"/>
</g>
<g transform="translate(640 1680) scale(0.5)">
<rect x="190" y="120" width="790" height="415" fill="#ff1a00"/>
<path d="M190 120C196 102.5 241.5 119 250 125C258.5 131 271.5 169.5 275 180C278.5 190.5 286 220 285 230C284 240 267.5 268 265 280C262.5 292 259 336 260 350C261 364 272.5 410 275 420C277.5 430 287.5 445 285 450C282.5 455 257 471 250 470C243 469 220 449 215 440C210 431 202.5 394 200 380C197.5 366 191 326 190 300C189 274 184 137.5 190 120Z" fill="#8c0a06" stroke="#111" stroke-width="0.8" stroke-opacity="0.75"/>
<path d="M300 270C304.8 262.5 326 256.2 340 255C354 253.8 418 257 440 258C462 259 540 263.8 560 265C580 266.2 636 266.5 640 270C644 273.5 614 292 600 300C586 308 520 340 500 350C480 360 418 391 400 400C382 409 330 440 320 440C310 440 302.8 411 300 400C297.2 389 292 343 292 330C292 317 295.2 277.5 300 270Z" fill="#ff7500" stroke="#111" stroke-width="2.5" stroke-opacity="0.75"/>
<path d="M335 380C343 375.2 406.5 372.5 420 372C433.5 371.5 469 372.2 470 375C471 377.8 443 395.5 430 400C417 404.5 349.5 422 340 420C330.5 418 327 384.8 335 380Z" fill="#ffdb00" stroke="#111" stroke-width="0.8" stroke-opacity="0.75"/>
<path d="M500 340C500 338 550 305 560 300C570 295 600 288 600 290C600 292 570 315 560 320C550 325 500 342 500 340Z" fill="#ffdb00" stroke="#111" stroke-width="0.6" stroke-opacity="0.75"/>
<path d="M440 195C446.4 190.3 481.3 182.7 500 180C518.7 177.3 576.7 173.2 600 172C623.3 170.8 683.1 167.9 700 170C716.9 172.1 740.3 184.8 745 190C749.7 195.2 745.2 210.3 740 215C734.8 219.7 716.3 227.7 700 230C683.7 232.3 623.3 234.8 600 235C576.7 235.2 518.1 233.8 500 232C481.9 230.2 452 224.3 445 220C438 215.7 433.6 199.7 440 195Z" fill="#8c0a06" stroke="#111" stroke-width="0.8" stroke-opacity="0.75"/>
<path d="M700 125C722 122.5 945 119 960 125C975 131 867 176.5 850 185C833 193.5 799 209.5 790 210C781 210.5 765 196 760 190C755 184 746 156.5 740 150C734 143.5 678 127.5 700 125Z" fill="#ff7500" stroke="#111" stroke-width="0.8" stroke-opacity="0.75"/>
<path d="M725 125C744 120.5 947.5 119.5 960 125C972.5 130.5 866 173 850 180C834 187 808 196 800 195C792 194 777.5 177 770 170C762.5 163 706 129.5 725 125Z" fill="#faff05" stroke="#111" stroke-width="0.8" stroke-opacity="0.75"/>
<path d="M750 125C767.5 121.5 950 120 960 125C970 130 865 169.5 850 175C835 180.5 816.5 181.5 810 180C803.5 178.5 791 165.5 785 160C779 154.5 732.5 128.5 750 125Z" fill="#80ff80" stroke="#111" stroke-width="0.8" stroke-opacity="0.75"/>
<path d="M775 125C791 122.5 951.5 120.7 960 125C968.5 129.3 874 163.5 860 168C846 172.5 826 171.8 820 170C814 168.2 804.5 154.5 800 150C795.5 145.5 759 127.5 775 125Z" fill="#05fffa" stroke="#111" stroke-width="0.8" stroke-opacity="0.75"/>
<path d="M790 135C792.7 131 822 128 830 130C838 132 852.7 146 850 150C847.3 154 818 162 810 160C802 158 787.3 139 790 135Z" fill="#00c7ff"/>
</g>
<path d="M298 2167.5L1122.5 1742.5" stroke="#181818" stroke-opacity="0.5" stroke-width="2" fill="none"/>
</g></g>
<text class="t" text-anchor="end" x="239.5" y="1775.5">1000</text>
<text class="t" text-anchor="end" x="232" y="1835">900</text>
<text class="t" text-anchor="end" x="232" y="1900.5">800</text>
<text class="t" text-anchor="end" x="232" y="1954">700</text>
<text class="t" text-anchor="end" x="232" y="2019">600</text>
<text class="t" text-anchor="end" x="232" y="2075.5">500</text>
<text class="t" text-anchor="end" x="232" y="2135.5">400</text>
<text class="t" text-anchor="middle" x="354.6" y="2231">400</text>
<text class="t" text-anchor="middle" x="463.1" y="2233.5">500</text>
<text class="t" text-anchor="middle" x="590.6" y="2233.5">600</text>
<text class="t" text-anchor="middle" x="708.6" y="2233.5">700</text>
<text class="t" text-anchor="middle" x="823.1" y="2233.5">800</text>
<text class="t" text-anchor="middle" x="940.6" y="2233.5">900</text>
<text class="t" text-anchor="middle" x="1059.6" y="2232">1000</text>
<text class="c" x="1164" y="1752">0.4</text>
<text class="c" x="1164" y="1799.5">0.3</text>
<text class="c" x="1164" y="1848">0.2</text>
<text class="c" x="1164" y="1895.5">0.1</text>
<text class="c" x="1164" y="1943">0</text>
<text class="c" x="1164" y="1991.5">-0.1</text>
<text class="c" x="1164" y="2039.5">-0.2</text>
<text class="c" x="1164" y="2087">-0.3</text>
<text class="c" x="1164" y="2135.5">-0.4</text>
<text class="r" style="font-size:43px" x="1147.5" y="1702.5">r</text>
<text class="p" x="31" y="1753">(g)</text>
<rect x="1134" y="1743.5" width="22.5" height="424" fill="url(#jet)"/>
<ellipse cx="288.5" cy="2138.6" rx="1.9" ry="8" fill="#1c1c1c"/>
<ellipse cx="288.5" cy="2077.9" rx="1.9" ry="8" fill="#1c1c1c"/>
<ellipse cx="288.5" cy="2017.2" rx="1.9" ry="8" fill="#1c1c1c"/>
<ellipse cx="288.5" cy="1956.5" rx="1.9" ry="8" fill="#1c1c1c"/>
<ellipse cx="288.5" cy="1895.8" rx="1.9" ry="8" fill="#1c1c1c"/>
<ellipse cx="288.5" cy="1835.1" rx="1.9" ry="8" fill="#1c1c1c"/>
<ellipse cx="288.5" cy="1774.4" rx="1.9" ry="8" fill="#1c1c1c"/>
</g>
<!-- panel h -->
<g>
<path d="M1588.8 1741.5V2152.5M1532 2123.1H2329M1702.5 1741.5V2152.5M1532 2064.4H2329M1816.1 1741.5V2152.5M1532 2005.7H2329M1929.8 1741.5V2152.5M1532 1947H2329M2043.4 1741.5V2152.5M1532 1888.3H2329M2157 1741.5V2152.5M1532 1829.6H2329M2270.7 1741.5V2152.5M1532 1770.9H2329" stroke="#f5f5f5" stroke-width="1.4" fill="none"/>
<path d="M1532 2152.5H2329V1741.5M1588.8 2152.5v-8M2329 2123.1h-8M1702.5 2152.5v-8M2329 2064.4h-8M1816.1 2152.5v-8M2329 2005.7h-8M1929.8 2152.5v-8M2329 1947h-8M2043.4 2152.5v-8M2329 1888.3h-8M2157 2152.5v-8M2329 1829.6h-8M2270.7 2152.5v-8M2329 1770.9h-8" stroke="#cfcfcf" stroke-width="1.8" fill="none"/>
<g clip-path="url(#cp_h)"><g filter="url(#soft)">
<rect x="1525" y="1735" width="815" height="430" fill="#ffe500"/>
<g transform="translate(1240 1680) scale(0.5)">
<path d="M575 115C601.7 89.3 948.7 102.7 975 115C1001.3 127.3 971.3 279 970 300C968.7 321 957.7 418.3 955 430C952.3 441.7 940.3 471.7 930 475C919.7 478.3 815.3 479 800 480C784.7 481 710.7 489.3 700 490C689.3 490.7 648.3 489.3 640 490C631.7 490.7 579.3 525 575 500C570.7 475 548.3 140.7 575 115Z" fill="#94ff6b" stroke="#111" stroke-width="0.8" stroke-opacity="0.75"/>
<path d="M575 115C607.5 92.9 932.9 99.6 965 115C997.1 130.4 961.7 274.6 960 300C958.3 325.4 948.3 407.9 945 420C941.7 432.1 932.1 442.9 920 445C907.9 447.1 816.7 444.6 800 445C783.3 445.4 733.3 449.2 720 450C706.7 450.8 649.2 455.8 640 455C630.8 454.2 613.8 446.2 610 440C606.2 433.8 597.9 385 595 380C592.1 375 576.7 402.1 575 380C573.3 357.9 542.5 137.1 575 115Z" fill="#05fffa" stroke="#111" stroke-width="0.8" stroke-opacity="0.75"/>
<path d="M575 115C583.5 101.5 650.5 106.5 660 115C669.5 123.5 668 181.5 670 200C672 218.5 679.2 283 680 300C680.8 317 680 367 678 370C676 373 663.8 339 660 330C656.2 321 646 288 640 280C634 272 606.5 253 600 250C593.5 247 577.5 263.5 575 250C572.5 236.5 566.5 128.5 575 115Z" fill="#2a9cf4" stroke="#111" stroke-width="0.8" stroke-opacity="0.75"/>
<path d="M650 115C679.3 101.5 927.5 101.5 958 115C988.5 128.5 956.8 228.5 955 250C953.2 271.5 945.5 320 940 330C934.5 340 914 348.5 900 350C886 351.5 818 345 800 345C782 345 731 346.5 720 350C709 353.5 694.5 382 690 380C685.5 378 677.5 343 675 330C672.5 317 667.5 271.5 665 250C662.5 228.5 620.7 128.5 650 115Z" fill="#1a70f0" stroke="#111" stroke-width="2.5" stroke-opacity="0.75"/>
<path d="M660 130C669 120.5 736 125.5 760 125C784 124.5 881.5 122.5 900 125C918.5 127.5 940.5 141.5 945 150C949.5 158.5 947.5 201 945 210C942.5 219 934.5 237.2 920 240C905.5 242.8 820 238 800 238C780 238 731 236.8 720 240C709 243.2 695 272 690 270C685 268 673 234 670 220C667 206 651 139.5 660 130Z" fill="#0a28d8" stroke="#111" stroke-width="2.5" stroke-opacity="0.75"/>
<path d="M1075 115C1105.5 104.5 1363 79.5 1395 115C1427 150.5 1397.5 433.5 1395 470C1392.5 506.5 1376.5 479.2 1370 480C1363.5 480.8 1340 480 1330 478C1320 476 1281 467.8 1270 460C1259 452.2 1229 414 1220 400C1211 386 1189 332 1180 320C1171 308 1139 290 1130 280C1121 270 1095.5 236.5 1090 220C1084.5 203.5 1044.5 125.5 1075 115Z" fill="#94ff6b" stroke="#111" stroke-width="0.8" stroke-opacity="0.75"/>
<path d="M1110 115C1135.5 104.5 1358 96.5 1385 115C1412 133.5 1381 267.5 1380 300C1379 332.5 1378 424 1375 440C1372 456 1357.5 458.5 1350 460C1342.5 461.5 1310 459 1300 455C1290 451 1258.5 430.5 1250 420C1241.5 409.5 1223 364 1215 350C1207 336 1178.5 293 1170 280C1161.5 267 1136 236.5 1130 220C1124 203.5 1084.5 125.5 1110 115Z" fill="#05fffa" stroke="#111" stroke-width="0.8" stroke-opacity="0.75"/>
<path d="M1085 250C1087 249 1121 282 1130 290C1139 298 1166.5 318 1175 330C1183.5 342 1206 396.5 1215 410C1224 423.5 1262.5 459 1265 465C1267.5 471 1247.5 474.5 1240 470C1232.5 465.5 1198 432 1190 420C1182 408 1168 362 1160 350C1152 338 1117.5 310 1110 300C1102.5 290 1083 251 1085 250Z" fill="#ffe500"/>
<path d="M1150 115C1172 106.5 1357.5 96.5 1380 115C1402.5 133.5 1376.5 273.5 1375 300C1373.5 326.5 1370.5 371.5 1365 380C1359.5 388.5 1329.5 386 1320 385C1310.5 384 1279 376.5 1270 370C1261 363.5 1238 330 1230 320C1222 310 1197 282 1190 270C1183 258 1164 215.5 1160 200C1156 184.5 1128 123.5 1150 115Z" fill="#1a70f0" stroke="#111" stroke-width="2.5" stroke-opacity="0.75"/>
<path d="M1190 190C1193.5 182.4 1219.5 165.8 1230 160C1240.5 154.2 1266 142.9 1280 140C1294 137.1 1340.1 128 1350 135C1359.9 142 1366.2 188.7 1365 200C1363.8 211.3 1352.2 227.9 1340 232C1327.8 236.1 1276.3 235.8 1260 235C1243.7 234.2 1208.2 230.2 1200 225C1191.8 219.8 1186.5 197.6 1190 190Z" fill="#0a28d8" stroke="#111" stroke-width="2.5" stroke-opacity="0.75"/>
<path d="M1362 470C1361.3 462 1366.4 418.5 1368 410C1369.6 401.5 1376.2 384 1378 385C1379.8 386 1385 410.5 1386 420C1387 429.5 1389.1 473 1388 480C1386.9 487 1377.6 491 1375 490C1372.4 489 1362.7 478 1362 470Z" fill="#ff7000" stroke="#111" stroke-width="0.8" stroke-opacity="0.75"/>
<rect x="1398" y="115" width="9" height="415" fill="#3a7a3c"/>
<path d="M965 250C968.8 239.2 991.5 233 1000 232C1008.5 231 1042.5 235.2 1050 240C1057.5 244.8 1069 271 1075 280C1081 289 1102.5 320 1110 330C1117.5 340 1143 369 1150 380C1157 391 1170 430.5 1180 440C1190 449.5 1245 470.2 1250 475C1255 479.8 1245 486.3 1230 488C1215 489.7 1123 491.6 1100 492C1077 492.4 1017 492.4 1000 492C983 491.6 934.5 493.2 930 488C925.5 482.8 951.8 454.8 955 440C958.2 425.2 961 359 962 340C963 321 961.2 260.8 965 250Z" fill="#ff7000" stroke="#111" stroke-width="2.5" stroke-opacity="0.75"/>
<path d="M965 290C967.7 275.8 980.3 276.8 985 278C989.7 279.2 1000.7 288.1 1005 300C1009.3 311.9 1019.7 362.5 1022 380C1024.3 397.5 1027.6 438.9 1025 450C1022.4 461.1 1006.4 472.7 1000 475C993.6 477.3 974.4 478.8 970 470C965.6 461.2 962.6 421 962 400C961.4 379 962.3 304.2 965 290Z" fill="#ff0500" stroke="#111" stroke-width="2.5" stroke-opacity="0.75"/>
<path d="M575 545C583.3 541.5 676.3 548 700 548C723.7 548 913.3 542.2 930 545C946.7 547.8 958.7 587.3 950 590C941.3 592.7 816.7 585 800 585C783.3 585 715 589 700 590C685 591 583.3 603 575 600C566.7 597 566.7 548.5 575 545Z" fill="#05fffa" stroke="#111" stroke-width="0.8" stroke-opacity="0.75"/>
<path d="M575 590C580.4 583.3 631.2 600.4 640 600C648.8 599.6 673.3 587.1 680 585C686.7 582.9 710 575.4 720 575C730 574.6 782.5 579.8 800 580C817.5 580.2 917.5 573 930 578C942.5 583 960.8 636.5 950 640C939.2 643.5 820.8 620.4 800 620C779.2 619.6 711.7 631.7 700 635C688.3 638.3 670.4 656.2 660 660C649.6 663.8 582.1 685.8 575 680C567.9 674.2 569.6 596.7 575 590Z" fill="#94ff6b" stroke="#111" stroke-width="0.8" stroke-opacity="0.75"/>
<path d="M600 710C608.2 704.4 656.7 691.8 680 690C703.3 688.2 769.7 694.8 800 695C830.3 695.2 919.6 690.2 940 692C960.4 693.8 969.8 705 975 710C980.2 715 993.8 730.3 985 735C976.2 739.7 926.2 748 900 750C873.8 752 785.7 752.2 760 752C734.3 751.8 697.5 749.6 680 748C662.5 746.4 619.3 742.4 610 738C600.7 733.6 591.8 715.6 600 710Z" fill="#ff7000" stroke="#111" stroke-width="2.5" stroke-opacity="0.75"/>
<path d="M920 550C922.5 542.5 966 535.5 980 535C994 534.5 1049 538.5 1060 545C1071 551.5 1085 589.5 1090 600C1095 610.5 1113 640 1110 650C1107 660 1069 695 1060 700C1051 705 1027.5 703 1020 700C1012.5 697 991.5 679 985 670C978.5 661 961.5 622 955 610C948.5 598 917.5 557.5 920 550Z" fill="#0618a8" stroke="#111" stroke-width="2.5" stroke-opacity="0.75"/>
<path d="M945 590C947 583.3 971.3 592 980 600C988.7 608 1003.3 638 1010 650C1016.7 662 1031.3 684.7 1030 690C1028.7 695.3 1008.7 695.3 1000 690C991.3 684.7 972.3 663.3 965 650C957.7 636.7 943 596.7 945 590Z" fill="#040e80"/>
<path d="M1050 560C1054 553.7 1136.7 545.8 1150 545C1163.3 544.2 1237 547.3 1250 548C1263 548.7 1338.7 540.9 1345 555C1351.3 569.1 1368 746.3 1345 760C1322 773.7 1023 764 1000 760C977 756 996 704.7 1000 700C1004 695.3 1054 694 1060 690C1066 686 1090.7 648.7 1090 640C1089.3 631.3 1046 566.3 1050 560Z" fill="#1a70f0" stroke="#111" stroke-width="2.5" stroke-opacity="0.75"/>
<path d="M1110 600C1118 594.5 1166 586 1180 585C1194 584 1248 584.5 1250 590C1252 595.5 1213 631 1200 640C1187 649 1130 680 1120 680C1110 680 1101 648 1100 640C1099 632 1102 605.5 1110 600Z" fill="#0f3fd0"/>
<path d="M940 620C944.1 623.5 961.8 660.1 970 670C978.2 679.9 1001.8 700.1 1010 705C1018.2 709.9 1041.2 708.5 1040 712C1038.8 715.5 1009.3 737.6 1000 735C990.7 732.4 967.6 701.1 960 690C952.4 678.9 937.3 648.2 935 640C932.7 631.8 935.9 616.5 940 620Z" fill="#1affe5" stroke="#111" stroke-width="0.8" stroke-opacity="0.75"/>
<path d="M575 765C583.3 751.8 685 762 700 762C715 762 786.7 764.6 800 765C813.3 765.4 890.7 767.5 900 768C909.3 768.5 946.7 766.5 940 772C933.3 777.5 824.3 837.5 800 850C775.7 862.5 590 965.7 575 960C560 954.3 566.7 778.2 575 765Z" fill="#94ff6b" stroke="#111" stroke-width="0.8" stroke-opacity="0.75"/>
<rect x="596" y="770" width="44" height="130" rx="8" fill="#05fffa" stroke="#111" stroke-width="0.8" stroke-opacity="0.75"/>
<rect x="650" y="775" width="18" height="105" rx="8" fill="#05fffa" stroke="#111" stroke-width="0.8" stroke-opacity="0.75"/>
<path d="M700 790C705 783 748 780 760 780C772 780 820 785 820 790C820 795 771 824 760 830C749 836 716 854 710 850C704 846 695 797 700 790Z" fill="#05fffa" stroke="#111" stroke-width="0.8" stroke-opacity="0.75"/>
<path d="M690 780L900 770L940 775L700 890Z" fill="url(#mot)" fill-opacity="0.8"/>
<path d="M1110 580L1340 560L1120 680Z" fill="url(#mot)" fill-opacity="0.6"/>
</g>
<g transform="translate(1635 1680) scale(0.5)">
<rect x="640" y="115" width="760" height="400" fill="#ffe500"/>
<path d="M672 125C674 118.5 693.2 130.5 700 135C706.8 139.5 733 163.5 740 170C747 176.5 768 193.5 770 200C772 206.5 763.5 229 760 235C756.5 241 737 250.5 735 260C733 269.5 739 313 740 330C741 347 747 418 745 430C743 442 724.5 453 720 450C715.5 447 703 415 700 400C697 385 692 320 690 300C688 280 681.8 217.5 680 200C678.2 182.5 670 131.5 672 125Z" fill="#ff7000" stroke="#111" stroke-width="2.5" stroke-opacity="0.75"/>
<path d="M760 200C768.5 197.7 830 203.8 850 205C870 206.2 939 211 960 212C981 213 1041 215 1060 215C1079 215 1140 210.5 1150 212C1160 213.5 1169 227.2 1160 230C1151 232.8 1080 239.2 1060 240C1040 240.8 981 238.8 960 238C939 237.2 869.5 233 850 232C830.5 231 774 231.2 765 228C756 224.8 751.5 202.3 760 200Z" fill="#ff7000" stroke="#111" stroke-width="0.8" stroke-opacity="0.75"/>
<path d="M770 210C791.7 210.3 851.7 210.7 900 212C948.3 213.3 1018.3 217 1060 218C1101.7 219 1135 218 1150 218" fill="none" stroke="#30200a" stroke-width="3" stroke-opacity="0.7"/>
<path d="M1130 120C1153.5 116 1368 115.5 1385 120C1402 124.5 1316.5 156.5 1300 165C1283.5 173.5 1232 201.5 1220 205C1208 208.5 1187 204.5 1180 200C1173 195.5 1155 168 1150 160C1145 152 1106.5 124 1130 120Z" fill="#94ff6b" stroke="#111" stroke-width="0.8" stroke-opacity="0.75"/>
<path d="M1180 125C1198.5 120 1373 116.5 1385 120C1397 123.5 1314.5 153.5 1300 160C1285.5 166.5 1250 184 1240 185C1230 186 1206 176 1200 170C1194 164 1161.5 130 1180 125Z" fill="#05fffa" stroke="#111" stroke-width="0.8" stroke-opacity="0.75"/>
<path d="M660 495L1385 123L1330 123L1100 242L900 345L700 448Z" fill="url(#mot)" fill-opacity="0.7"/>
<path d="M760 195L1160 195L1160 245L760 245Z" fill="url(#motr)" fill-opacity="0.8"/>
</g>
<path d="M1532 2151.2L2327.5 1740.2" stroke="#182818" stroke-opacity="0.7" stroke-width="2.5" fill="none"/>
</g></g>
<text class="t" text-anchor="end" x="1477" y="1775.5">1000</text>
<text class="t" text-anchor="end" x="1469.5" y="1835.5">900</text>
<text class="t" text-anchor="end" x="1469.5" y="1898">800</text>
<text class="t" text-anchor="end" x="1469.5" y="1954">700</text>
<text class="t" text-anchor="end" x="1469.5" y="2016.5">600</text>
<text class="t" text-anchor="end" x="1469.5" y="2075.5">500</text>
<text class="t" text-anchor="end" x="1469.5" y="2135.5">400</text>
<text class="t" text-anchor="middle" x="1574.6" y="2216">400</text>
<text class="t" text-anchor="middle" x="1683.1" y="2218.5">500</text>
<text class="t" text-anchor="middle" x="1810.6" y="2218.5">600</text>
<text class="t" text-anchor="middle" x="1931.6" y="2218">700</text>
<text class="t" text-anchor="middle" x="2044.1" y="2217.5">800</text>
<text class="t" text-anchor="middle" x="2163.1" y="2217.5">900</text>
<text class="t" text-anchor="middle" x="2279.1" y="2216.5">1000</text>
<text class="c" x="2367.5" y="1750.5">0.4</text>
<text class="c" x="2367.5" y="1800.5">0.3</text>
<text class="c" x="2367.5" y="1851.5">0.2</text>
<text class="c" x="2367.5" y="1902">0.1</text>
<text class="c" x="2367.5" y="1951.5">0</text>
<text class="c" x="2367.5" y="2003">-0.1</text>
<text class="c" x="2367.5" y="2053">-0.2</text>
<text class="c" x="2367.5" y="2103">-0.3</text>
<text class="c" x="2367.5" y="2154">-0.4</text>
<text class="r" style="font-size:43px" x="2360" y="1697.5">r</text>
<text class="p" x="1254" y="1755">(h)</text>
<rect x="2338.5" y="1741.5" width="21.5" height="410" fill="url(#jet)"/>
<ellipse cx="1522.5" cy="2123.6" rx="1.9" ry="8" fill="#c4c4c4"/>
<ellipse cx="1522.5" cy="2064.9" rx="1.9" ry="8" fill="#c4c4c4"/>
<ellipse cx="1522.5" cy="2006.2" rx="1.9" ry="8" fill="#c4c4c4"/>
<ellipse cx="1522.5" cy="1947.5" rx="1.9" ry="8" fill="#c4c4c4"/>
<ellipse cx="1522.5" cy="1888.8" rx="1.9" ry="8" fill="#c4c4c4"/>
<ellipse cx="1522.5" cy="1830.1" rx="1.9" ry="8" fill="#c4c4c4"/>
</g>
<!-- panel i -->
<g>
<path d="M355.4 2278.5V2700M297 2669.9H1115.5M472.1 2278.5V2700M297 2609.7H1115.5M588.8 2278.5V2700M297 2549.5H1115.5M705.5 2278.5V2700M297 2489.2H1115.5M822.2 2278.5V2700M297 2429H1115.5M938.9 2278.5V2700M297 2368.8H1115.5M1055.6 2278.5V2700M297 2308.6H1115.5" stroke="#f5f5f5" stroke-width="1.4" fill="none"/>
<path d="M297 2700H1115.5V2278.5M355.4 2700v-8M1115.5 2669.9h-8M472.1 2700v-8M1115.5 2609.7h-8M588.8 2700v-8M1115.5 2549.5h-8M705.5 2700v-8M1115.5 2489.2h-8M822.2 2700v-8M1115.5 2429h-8M938.9 2700v-8M1115.5 2368.8h-8M1055.6 2700v-8M1115.5 2308.6h-8" stroke="#cfcfcf" stroke-width="1.8" fill="none"/>
<g clip-path="url(#cp_i)"><g filter="url(#soft)">
<rect x="290" y="2270" width="835" height="440" fill="#57ffa8"/>
<g transform="translate(0 2220) scale(0.5)">
<path d="M585 110C592.5 95 652 96 660 110C668 124 665 226 665 250C665 274 662.5 335 660 350C657.5 365 644 405 640 400C636 395 623.5 316 620 300C616.5 284 608.5 244 605 240C601.5 236 587 273 585 260C583 247 577.5 125 585 110Z" fill="#00d1ff" stroke="#111" stroke-width="0.8" stroke-opacity="0.75"/>
<path d="M585 250C587.5 226 606 232 610 240C614 248 622.8 312 625 330C627.2 348 632.5 406 632 420C631.5 434 624.7 464 620 470C615.3 476 588.5 502 585 480C581.5 458 582.5 274 585 250Z" fill="#1affe5" stroke="#111" stroke-width="0.8" stroke-opacity="0.75"/>
<path d="M600 470C602.6 463 618.8 457 622 450C625.2 443 630.2 401 632 400C633.8 399 638.2 433 640 440C641.8 447 644 466.2 650 470C656 473.8 685 476.8 700 478C715 479.2 774 481.8 800 482C826 482.2 941 484.2 960 480C979 475.8 986 438 990 440C994 442 1019 493.5 1000 500C981 506.5 836 504 800 505C764 506 660.4 508.5 640 510C619.6 511.5 600 524 596 520C592 516 597.4 477 600 470Z" fill="#c7ff38" stroke="#111" stroke-width="0.8" stroke-opacity="0.75"/>
<path d="M640 110C675.5 99 969 96 1005 110C1041 124 1001.5 226 1000 250C998.5 274 993 333 990 350C987 367 975 410.5 970 420C965 429.5 951 443 940 445C929 447 876 440 860 440C844 440 794 446 780 445C766 444 730 434.5 720 430C710 425.5 686 410 680 400C674 390 663 348 660 330C657 312 652 242 650 220C648 198 604.5 121 640 110Z" fill="#05fffa" stroke="#111" stroke-width="0.8" stroke-opacity="0.75"/>
<path d="M650 110C683.2 96 965.5 96 1000 110C1034.5 124 996.8 227 995 250C993.2 273 985.5 325.5 982 340C978.5 354.5 966.2 388 960 395C953.8 402 932 409 920 410C908 411 856 404.5 840 405C824 405.5 772 416.5 760 415C748 413.5 727 397.5 720 390C713 382.5 695.2 354 690 340C684.8 326 672 273 668 250C664 227 616.8 124 650 110Z" fill="#00bdff" stroke="#111" stroke-width="2.5" stroke-opacity="0.75"/>
<path d="M665 110C696.5 101 962.5 98 995 110C1027.5 122 991.7 210 990 230C988.3 250 982 298.5 978 310C974 321.5 959.8 341 950 345C940.2 349 895 350 880 350C865 350 813 344.5 800 345C787 345.5 758 357.5 750 355C742 352.5 725.5 328.5 720 320C714.5 311.5 699 282 695 270C691 258 683 216 680 200C677 184 633.5 119 665 110Z" fill="#1a70f0" stroke="#111" stroke-width="2.5" stroke-opacity="0.75"/>
<path d="M680 110C710.2 105 959.5 101 990 110C1020.5 119 987 186 985 200C983 214 976.5 243 970 250C963.5 257 933 267.8 920 270C907 272.2 856 272.2 840 272C824 271.8 772 271.2 760 268C748 264.8 726 246.8 720 240C714 233.2 703.2 208 700 200C696.8 192 690 169 688 160C686 151 649.8 115 680 110Z" fill="#0a28d8" stroke="#111" stroke-width="2.5" stroke-opacity="0.75"/>
<path d="M1110 110C1139 101 1380.5 91 1410 110C1439.5 129 1406.5 268 1405 300C1403.5 332 1398 414 1395 430C1392 446 1380.5 459 1375 460C1369.5 461 1348.5 446 1340 440C1331.5 434 1299 408 1290 400C1281 392 1259 370 1250 360C1241 350 1210 311 1200 300C1190 289 1158 260 1150 250C1142 240 1124 214 1120 200C1116 186 1081 119 1110 110Z" fill="#05fffa" stroke="#111" stroke-width="0.8" stroke-opacity="0.75"/>
<path d="M1140 110C1164.5 101 1379 91 1405 110C1431 129 1401.7 270 1400 300C1398.3 330 1391.5 397.5 1388 410C1384.5 422.5 1371.8 426.5 1365 425C1358.2 423.5 1328.5 402.5 1320 395C1311.5 387.5 1289 359.5 1280 350C1271 340.5 1239 310 1230 300C1221 290 1197 260 1190 250C1183 240 1165 214 1160 200C1155 186 1115.5 119 1140 110Z" fill="#00bdff" stroke="#111" stroke-width="2.5" stroke-opacity="0.75"/>
<path d="M1175 110C1195.2 101 1379.7 93 1402 110C1424.3 127 1399.7 256 1398 280C1396.3 304 1389.8 341.5 1385 350C1380.2 358.5 1357.5 366 1350 365C1342.5 364 1318 346.5 1310 340C1302 333.5 1278 308 1270 300C1262 292 1237 270 1230 260C1223 250 1205.5 215 1200 200C1194.5 185 1154.8 119 1175 110Z" fill="#1a70f0" stroke="#111" stroke-width="2.5" stroke-opacity="0.75"/>
<path d="M1200 110C1218.5 104 1380.5 98 1400 110C1419.5 122 1397 212 1395 230C1393 248 1385.5 283 1380 290C1374.5 297 1349 302 1340 300C1331 298 1300 277 1290 270C1280 263 1247.5 240 1240 230C1232.5 220 1219 182 1215 170C1211 158 1181.5 116 1200 110Z" fill="#0a28d8" stroke="#111" stroke-width="2.5" stroke-opacity="0.75"/>
<path d="M1395 470C1395.5 460 1402.5 434 1405 420C1407.5 406 1417.3 347 1420 330C1422.7 313 1430 253 1432 250C1434 247 1439.2 273 1440 300C1440.8 327 1444 498 1440 520C1436 542 1404.5 525 1400 520C1395.5 515 1394.5 480 1395 470Z" fill="#c7ff38" stroke="#111" stroke-width="0.8" stroke-opacity="0.75"/>
<path d="M1040 260C1045 252.2 1055.5 233 1060 232C1064.5 231 1080 244.2 1085 250C1090 255.8 1102.5 283 1110 290C1117.5 297 1151 314.5 1160 320C1169 325.5 1190 337 1200 345C1210 353 1250 390.5 1260 400C1270 409.5 1291 433 1300 440C1309 447 1340 466 1350 470C1360 474 1395 474.5 1400 480C1405 485.5 1440 520.5 1400 525C1360 529.5 1060 525 1000 525C940 525 841.5 524.7 800 525C758.5 525.3 606.5 530 585 528C563.5 526 563.5 507.8 585 505C606.5 502.2 762.5 501 800 500C837.5 499 941.5 501 960 495C978.5 489 982.5 454.5 985 440C987.5 425.5 982.5 363 985 350C987.5 337 1004.5 319 1010 310C1015.5 301 1035 267.8 1040 260Z" fill="#c7ff38" stroke="#111" stroke-width="0.8" stroke-opacity="0.75"/>
<path d="M990 355C997.7 349.1 1086 352 1100 352C1114 352 1190.3 351.8 1200 355C1209.7 358.2 1239.7 394.3 1245 400C1250.3 405.7 1275 435 1280 440C1285 445 1318.7 471.7 1320 475C1321.3 478.3 1311.3 488.9 1300 490C1288.7 491.1 1170 491.7 1150 492C1130 492.3 1023.3 494.7 1000 495C976.7 495.3 820 496.9 800 497C780 497.1 707.3 497.6 700 497C692.7 496.4 683.3 488.8 690 488C696.7 487.2 782.7 485.5 800 485C817.3 484.5 937.7 483 950 480C962.3 477 982.3 448.3 985 440C987.7 431.7 982.3 360.9 990 355Z" fill="#ffcc00" stroke="#111" stroke-width="2.5" stroke-opacity="0.75"/>
<path d="M985 400C988.1 395.3 1000.9 405.3 1005 410C1009.1 414.7 1019.4 433.6 1020 440C1020.6 446.4 1015.2 460.3 1010 465C1004.8 469.7 981.4 478 975 480C968.6 482 954.6 485.5 955 482C955.4 478.5 974.5 459.6 978 450C981.5 440.4 981.9 404.7 985 400Z" fill="#ff5c00" stroke="#111" stroke-width="2.5" stroke-opacity="0.75"/>
<path d="M1100 430C1103.5 423 1120.7 401.1 1130 395C1139.3 388.9 1170.1 378 1180 378C1189.9 378 1208 387.8 1215 395C1222 402.2 1232.4 431.2 1240 440C1247.6 448.8 1273 464.8 1280 470C1287 475.2 1309.3 483.6 1300 485C1290.7 486.4 1219.8 483.8 1200 482C1180.2 480.2 1141.7 473.1 1130 470C1118.3 466.9 1103.5 459.7 1100 455C1096.5 450.3 1096.5 437 1100 430Z" fill="#ff5c00" stroke="#111" stroke-width="2.5" stroke-opacity="0.75"/>
<path d="M1135 425C1137.6 419.4 1153 404.7 1160 402C1167 399.3 1188.9 398.7 1195 402C1201.1 405.3 1210.2 422.6 1212 430C1213.8 437.4 1216.1 460.3 1210 465C1203.9 469.7 1168.4 471.8 1160 470C1151.6 468.2 1140.9 455.2 1138 450C1135.1 444.8 1132.4 430.6 1135 425Z" fill="#ff0500" stroke="#111" stroke-width="2.5" stroke-opacity="0.75"/>
<path d="M585 530C599.3 528.2 772.3 533 800 533C827.7 533 966.7 529.5 1000 530C1033.3 530.5 1274.7 538.7 1300 540C1325.3 541.3 1377.3 547.7 1380 550C1382.7 552.3 1365.3 574.3 1340 575C1314.7 575.7 1036 560.7 1000 560C964 559.3 827.7 565 800 565C772.3 565 599.3 562.3 585 560C570.7 557.7 570.7 531.8 585 530Z" fill="#05fffa" stroke="#111" stroke-width="0.8" stroke-opacity="0.75"/>
<path d="M585 545C596.5 530 682.5 547.5 700 550C717.5 552.5 760 565 760 570C760 575 710 593 700 600C690 607 666 630 660 640C654 650 646 692 640 700C634 708 605.5 720 600 720C594.5 720 586.5 717.5 585 700C583.5 682.5 573.5 560 585 545Z" fill="#00d1ff" stroke="#111" stroke-width="0.8" stroke-opacity="0.75"/>
<path d="M610 555C613.7 551 634.7 547.3 640 550C645.3 552.7 651.3 569.7 650 575C648.7 580.3 635.1 589.3 630 590C624.9 590.7 614.7 584.7 612 580C609.3 575.3 606.3 559 610 555Z" fill="#1a70f0" stroke="#111" stroke-width="0.6" stroke-opacity="0.75"/>
<path d="M940 570C941.5 560.8 979 550.5 1000 548C1021 545.5 1120 544.3 1150 545C1180 545.7 1280 552.5 1300 555C1320 557.5 1345 545.5 1350 570C1355 594.5 1379 777 1350 800C1321 823 1093 810 1060 800C1027 790 1027.5 716 1020 700C1012.5 684 993 653 985 640C977 627 938.5 579.2 940 570Z" fill="#1a70f0" stroke="#111" stroke-width="2.5" stroke-opacity="0.75"/>
<path d="M800 555C800 552.8 880 549 900 548C920 547 975 545.8 1000 545C1025 544.2 1120 539.5 1150 540C1180 540.5 1280.5 547.5 1300 550C1319.5 552.5 1345 562 1345 565C1345 568 1319.5 581 1300 580C1280.5 579 1180 557 1150 555C1120 553 1019 557.5 1000 560C981 562.5 970 579 960 580C950 581 916 572.5 900 570C884 567.5 800 557.2 800 555Z" fill="#0a28d8" stroke="#111" stroke-width="0.8" stroke-opacity="0.75"/>
<path d="M930 552C935 550.1 988 546.4 1000 546C1012 545.6 1050 546.6 1050 548C1050 549.4 1010 558.3 1000 560C990 561.7 957 565.8 950 565C943 564.2 925 553.9 930 552Z" fill="#081060"/>
<path d="M700 655C705.8 646.8 730.7 626.4 740 620C749.3 613.6 767.2 603.3 780 600C792.8 596.7 831.3 592.6 850 592C868.7 591.4 926 589.4 940 595C954 600.6 963 628.9 970 640C977 651.1 991.8 681.2 1000 690C1008.2 698.8 1040 708 1040 715C1040 722 1016.3 743 1000 750C983.7 757 923.3 771.5 900 775C876.7 778.5 821 781.8 800 780C779 778.2 735.2 765.2 720 760C704.8 754.8 677.6 740.8 670 735C662.4 729.2 652.7 715.2 655 710C657.3 704.8 684.8 696.4 690 690C695.2 683.6 694.2 663.2 700 655Z" fill="#c7ff38" stroke="#111" stroke-width="2.5" stroke-opacity="0.75"/>
<path d="M585 750C588.7 735.7 631 752.7 640 755C649 757.3 709.3 782.7 720 785C730.7 787.3 788 790 800 790C812 790 900 781 900 785C900 789 821 837.7 800 850C779 862.3 599.3 976.7 585 970C570.7 963.3 581.3 764.3 585 750Z" fill="#05fffa" stroke="#111" stroke-width="0.8" stroke-opacity="0.75"/>
<path d="M585 760C589.6 743.3 630.4 767.5 640 770C649.6 772.5 691.7 787.5 700 790C708.3 792.5 736.2 793.3 740 800C743.8 806.7 757.9 855.8 745 870C732.1 884.2 598.3 979.2 585 970C571.7 960.8 580.4 776.7 585 760Z" fill="#00bdff" stroke="#111" stroke-width="0.8" stroke-opacity="0.75"/>
<path d="M585 800C588.5 782 614 788 620 790C626 792 642 809 645 820C648 831 654.5 887 650 900C645.5 913 606.5 943 600 950C593.5 957 586.5 985 585 970C583.5 955 581.5 818 585 800Z" fill="#1a70f0" stroke="#111" stroke-width="2.5" stroke-opacity="0.75"/>
<path d="M730 790L900 790L760 870Z" fill="url(#mot)" fill-opacity="0.7"/>
</g>
<g transform="translate(640 2220) scale(0.5)">
<rect x="185" y="110" width="775" height="410" fill="#ffcc00"/>
<path d="M185 110C187 70 202 96 205 110C208 124 213 226 215 250C217 274 221.5 334 225 350C228.5 366 243.5 402 250 410C256.5 418 282 428.5 290 430C298 431.5 334 421 330 425C326 429 264.5 461.5 250 470C235.5 478.5 191.5 546 185 510C178.5 474 183 150 185 110Z" fill="#c7ff38" stroke="#111" stroke-width="0.8" stroke-opacity="0.75"/>
<path d="M232 135C235 129 258.2 133.5 262 140C265.8 146.5 267.7 188 270 200C272.3 212 284.5 250 285 260C285.5 270 278 295 275 300C272 305 258.5 312 255 310C251.5 308 242.3 291 240 280C237.7 269 232.8 214.5 232 200C231.2 185.5 229 141 232 135Z" fill="#ff5c00" stroke="#111" stroke-width="2.5" stroke-opacity="0.75"/>
<path d="M590 140C592 133 583 122.8 620 120C657 117.2 942 104.5 960 112C978 119.5 826 181.7 800 195C774 208.3 718 237.5 700 245C682 252.5 632 271.5 620 270C608 268.5 582 238 580 230C578 222 599 199 600 190C601 181 588 147 590 140Z" fill="#c7ff38" stroke="#111" stroke-width="0.8" stroke-opacity="0.75"/>
<path d="M700 125C720 121.2 945 107.5 960 112C975 116.5 868 161.2 850 170C832 178.8 791 199 780 200C769 201 742 185 740 180C738 175 764 155.5 760 150C756 144.5 680 128.8 700 125Z" fill="#57ffa8" stroke="#111" stroke-width="0.8" stroke-opacity="0.75"/>
<path d="M820 125C830.8 120.5 942 112.5 948 115C954 117.5 890.8 145.5 880 150C869.2 154.5 846 162.5 840 160C834 157.5 809.2 129.5 820 125Z" fill="#00d1ff" stroke="#111" stroke-width="0.8" stroke-opacity="0.75"/>
<path d="M285 240C304.2 240.8 354.2 243.7 400 245C445.8 246.3 533.3 247.5 560 248" fill="none" stroke="#7a4a10" stroke-width="5" stroke-opacity="0.5"/>
<path d="M280 290C296.7 290.3 353.3 292 380 292C406.7 292 430 290.3 440 290" fill="none" stroke="#7a4a10" stroke-width="4" stroke-opacity="0.5"/>
<path d="M260 345L380 345" fill="none" stroke="#5a4010" stroke-width="5" stroke-opacity="0.55"/>
<path d="M200 500L948 117L890 117L700 218L500 320L250 448Z" fill="url(#mot)" fill-opacity="0.7"/>
<path d="M270 160L560 160L560 360L270 420Z" fill="url(#motr)" fill-opacity="0.75"/>
<path d="M580 130L800 130L700 240L580 270Z" fill="url(#mot2)" fill-opacity="0.8"/>
</g>
<path d="M297 2698.8L1114 2277.2" stroke="#182830" stroke-opacity="0.6" stroke-width="2.5" fill="none"/>
</g></g>
<text class="t" text-anchor="end" x="247" y="2321.5">1000</text>
<text class="t" text-anchor="end" x="239.5" y="2380">900</text>
<text class="t" text-anchor="end" x="239.5" y="2443">800</text>
<text class="t" text-anchor="end" x="239.5" y="2500">700</text>
<text class="t" text-anchor="end" x="239.5" y="2561.5">600</text>
<text class="t" text-anchor="end" x="239.5" y="2620">500</text>
<text class="t" text-anchor="end" x="239.5" y="2680.5">400</text>
<text class="t" text-anchor="middle" x="364.6" y="2758.5">400</text>
<text class="t" text-anchor="middle" x="473.1" y="2761">500</text>
<text class="t" text-anchor="middle" x="600.6" y="2761">600</text>
<text class="t" text-anchor="middle" x="720.6" y="2760">700</text>
<text class="t" text-anchor="middle" x="834.1" y="2760">800</text>
<text class="t" text-anchor="middle" x="953.1" y="2760">900</text>
<text class="t" text-anchor="middle" x="1069.6" y="2759">1000</text>
<text class="c" x="1155" y="2286.5">0.5</text>
<text class="c" x="1155" y="2334">0.4</text>
<text class="c" x="1155" y="2381.5">0.3</text>
<text class="c" x="1155" y="2429">0.2</text>
<text class="c" x="1155" y="2476.5">0.1</text>
<text class="c" x="1155" y="2523">0</text>
<text class="c" x="1155" y="2571.5">-0.1</text>
<text class="c" x="1155" y="2618">-0.2</text>
<text class="c" x="1155" y="2666.5">-0.3</text>
<text class="r" style="font-size:43px" x="1140" y="2235">r</text>
<text class="p" x="37.5" y="2290">(i)</text>
<rect x="1124" y="2278.5" width="22.5" height="421.5" fill="url(#jet)"/>
</g>
<!-- panel j -->
<g>
<path d="M1590.3 2277.5V2691M1533 2661.5H2336.5M1704.9 2277.5V2691M1533 2602.4H2336.5M1819.4 2277.5V2691M1533 2543.3H2336.5M1934 2277.5V2691M1533 2484.2H2336.5M2048.6 2277.5V2691M1533 2425.2H2336.5M2163.1 2277.5V2691M1533 2366.1H2336.5M2277.7 2277.5V2691M1533 2307H2336.5" stroke="#f5f5f5" stroke-width="1.4" fill="none"/>
<path d="M1533 2691H2336.5V2277.5M1590.3 2691v-8M2336.5 2661.5h-8M1704.9 2691v-8M2336.5 2602.4h-8M1819.4 2691v-8M2336.5 2543.3h-8M1934 2691v-8M2336.5 2484.2h-8M2048.6 2691v-8M2336.5 2425.2h-8M2163.1 2691v-8M2336.5 2366.1h-8M2277.7 2691v-8M2336.5 2307h-8" stroke="#cfcfcf" stroke-width="1.8" fill="none"/>
<g clip-path="url(#cp_j)"><g filter="url(#soft)">
<rect x="1525" y="2270" width="820" height="430" fill="#1fffe0"/>
<g transform="translate(1240 2220) scale(0.5)">
<path d="M575 105C579.2 84.7 655.4 100.2 660 105C664.6 109.8 667.2 190.2 668 200C668.8 209.8 674.4 293.2 676 300C677.6 306.8 693.8 333 700 335C706.2 337 787.5 340 800 340C812.5 340 941.4 337.5 950 335C958.6 332.5 970.4 296.8 972 290C973.6 283.2 981.1 206 982 200C982.9 194 989.1 170 990 170C990.9 170 998.9 194 1000 200C1001.1 206 1010.5 283 1012 290C1013.5 297 1025.6 335.9 1030 340C1034.4 344.1 1091.5 370 1100 372C1108.5 374 1190 381.1 1200 380C1210 378.9 1291 352 1300 350C1309 348 1373.8 340.8 1380 340C1386.2 339.2 1422.8 326.2 1425 335C1427.2 343.8 1446.2 506 1425 515C1403.8 524 1042.5 515.1 1000 515C957.5 514.9 596.2 532.5 575 512C553.8 491.5 570.8 125.3 575 105Z" fill="#80ff80" stroke="#111" stroke-width="0.8" stroke-opacity="0.75"/>
<path d="M610 130C611.3 117 625.5 108 628 120C630.5 132 633.8 225 635 250C636.2 275 640.7 361 640 370C639.3 379 630.5 352 628 340C625.5 328 616.8 271 615 250C613.2 229 608.7 143 610 130Z" fill="#1fffe0" stroke="#111" stroke-width="0.6" stroke-opacity="0.75"/>
<path d="M640 108C647 105.3 694 107.6 720 108C746 108.4 873 112 900 112C927 112 981.5 106.4 990 108C998.5 109.6 994 125.3 985 128C976 130.7 922.5 134.3 900 135C877.5 135.7 780 134.5 760 135C740 135.5 711 140 700 140C689 140 656 138.2 650 135C644 131.8 633 110.7 640 108Z" fill="#00c7ff" stroke="#111" stroke-width="0.8" stroke-opacity="0.75"/>
<path d="M1070 108C1101 104.8 1358.5 103.8 1390 108C1421.5 112.2 1394 144.3 1385 150C1376 155.7 1318.5 163 1300 165C1281.5 167 1218 170 1200 170C1182 170 1132 168 1120 165C1108 162 1085 145.7 1080 140C1075 134.3 1039 111.2 1070 108Z" fill="#00c7ff" stroke="#111" stroke-width="0.8" stroke-opacity="0.75"/>
<path d="M1175 110C1182.5 108 1247.5 107.5 1255 110C1262.5 112.5 1255.5 131.8 1250 135C1244.5 138.2 1207 142.5 1200 142C1193 141.5 1182.5 133.2 1180 130C1177.5 126.8 1167.5 112 1175 110Z" fill="#1a70f0"/>
<path d="M1090 245C1093.5 237.4 1117.2 227.9 1130 225C1142.8 222.1 1183.7 219.4 1200 220C1216.3 220.6 1259.5 224.2 1270 230C1280.5 235.8 1291.2 260.7 1290 270C1288.8 279.3 1270.5 302.4 1260 310C1249.5 317.6 1212.8 333.8 1200 335C1187.2 336.2 1161.7 325.2 1150 320C1138.3 314.8 1107 298.8 1100 290C1093 281.2 1086.5 252.6 1090 245Z" fill="#00c7ff" stroke="#111" stroke-width="0.8" stroke-opacity="0.75"/>
<path d="M1180 240C1185.2 235.9 1211.8 228.8 1220 230C1228.2 231.2 1247.1 241.8 1250 250C1252.9 258.2 1249.1 292.1 1245 300C1240.9 307.9 1222 318 1215 318C1208 318 1189.7 306.2 1185 300C1180.3 293.8 1175.6 272 1175 265C1174.4 258 1174.8 244.1 1180 240Z" fill="#1a70f0" stroke="#111" stroke-width="0.6" stroke-opacity="0.75"/>
<path d="M660 440C663.5 434.5 684 418 690 415C696 412 709 409 720 410C731 411 782 424 800 425C818 426 886 422 900 420C914 418 934.5 411.5 940 405C945.5 398.5 951.5 360.5 955 355C958.5 349.5 971.5 345.5 975 350C978.5 354.5 988 390 990 400C992 410 996 442 995 450C994 458 989.5 476.2 980 480C970.5 483.8 922 487.2 900 488C878 488.8 782 488.3 760 488C738 487.7 690.5 486.8 680 485C669.5 483.2 657 474.5 655 470C653 465.5 656.5 445.5 660 440Z" fill="#f5ff0a" stroke="#111" stroke-width="2.5" stroke-opacity="0.75"/>
<path d="M700 462C710 460.2 780 458.7 800 458C820 457.3 886 456.8 900 455C914 453.2 935 445 940 440C945 435 947.2 409 950 405C952.8 401 965.5 396.5 968 400C970.5 403.5 975.8 433 975 440C974.2 447 967.5 466.2 960 470C952.5 473.8 920 477.2 900 478C880 478.8 780 478.2 760 478C740 477.8 706 477.6 700 476C694 474.4 690 463.8 700 462Z" fill="#ff9e00" stroke="#111" stroke-width="0.8" stroke-opacity="0.75"/>
<path d="M1130 450C1131.5 444.5 1143 424.5 1150 420C1157 415.5 1186 406 1200 405C1214 404 1276 408 1290 410C1304 412 1333.5 426.5 1340 425C1346.5 423.5 1351.5 398.5 1355 395C1358.5 391.5 1372 385.5 1375 390C1378 394.5 1384.5 431.2 1385 440C1385.5 448.8 1388.5 473.5 1380 478C1371.5 482.5 1318 484.8 1300 485C1282 485.2 1216.5 481 1200 480C1183.5 479 1142 478 1135 475C1128 472 1128.5 455.5 1130 450Z" fill="#f5ff0a" stroke="#111" stroke-width="2.5" stroke-opacity="0.75"/>
<path d="M1250 455C1252.5 452.7 1271 445 1280 445C1289 445 1332 455.5 1340 455C1348 454.5 1357 440 1360 440C1363 440 1370 451.8 1370 455C1370 458.2 1368 470 1360 472C1352 474 1300.5 475.4 1290 475C1279.5 474.6 1259 470 1255 468C1251 466 1247.5 457.3 1250 455Z" fill="#ff9e00" stroke="#111" stroke-width="0.8" stroke-opacity="0.75"/>
<path d="M586 410C587.4 402 598 397 600 400C602 403 606 432 606 440C606 448 602 476 600 480C598 484 587.4 487 586 480C584.6 473 584.6 418 586 410Z" fill="#f5ff0a" stroke="#111" stroke-width="0.6" stroke-opacity="0.75"/>
<path d="M625 400C625.6 388.5 632.3 377 634 380C635.7 383 641.4 419 642 430C642.6 441 641.4 483.5 640 490C638.6 496.5 629.5 504 628 495C626.5 486 624.4 411.5 625 400Z" fill="#f5ff0a" stroke="#111" stroke-width="0.6" stroke-opacity="0.75"/>
<path d="M586 515C592 507 642.6 511.5 650 520C657.4 528.5 659.5 582 660 600C660.5 618 657 688 655 700C653 712 645.5 720 640 720C634.5 720 605 712 600 700C595 688 591.4 618.5 590 600C588.6 581.5 580 523 586 515Z" fill="#80ff80" stroke="#111" stroke-width="0.8" stroke-opacity="0.75"/>
<path d="M605 530C606.2 514.5 617.7 518 620 525C622.3 532 627.8 583.5 628 600C628.2 616.5 624 682 622 690C620 698 609.7 696 608 680C606.3 664 603.8 545.5 605 530Z" fill="#1fffe0" stroke="#111" stroke-width="0.6" stroke-opacity="0.75"/>
<path d="M640 530C640.7 520.5 650.5 520 652 525C653.5 530 655.7 570.5 655 580C654.3 589.5 646.5 625 645 620C643.5 615 639.3 539.5 640 530Z" fill="#f5ff0a" stroke="#111" stroke-width="0.6" stroke-opacity="0.75"/>
<path d="M672 530C673 522.8 686.2 522 688 528C689.8 534 691 582.8 690 590C689 597.2 679.8 606 678 600C676.2 594 671 537.2 672 530Z" fill="#f5ff0a" stroke="#111" stroke-width="0.6" stroke-opacity="0.75"/>
<path d="M1080 515C1101 509.3 1378.7 496 1400 515C1421.3 534 1425.3 781 1400 800C1374.7 819 1044.7 806.7 1020 800C995.3 793.3 1026.3 709.3 1030 700C1033.7 690.7 1071.3 666.7 1075 660C1078.7 653.3 1084.7 609.7 1085 600C1085.3 590.3 1059 520.7 1080 515Z" fill="#80ff80" stroke="#111" stroke-width="0.8" stroke-opacity="0.75"/>
<path d="M1020 540C1022.5 529 1045.8 526 1050 530C1054.2 534 1062 569 1062 580C1062 591 1053.7 634 1050 640C1046.3 646 1028 650 1025 640C1022 630 1017.5 551 1020 540Z" fill="#80ff80" stroke="#111" stroke-width="0.8" stroke-opacity="0.75"/>
<path d="M925 555C927.9 551.5 952.4 553.6 960 560C967.6 566.4 983.6 597.2 990 610C996.4 622.8 1011.5 659.5 1015 670C1018.5 680.5 1022.9 697.7 1020 700C1017.1 702.3 997 697 990 690C983 683 966.4 651.7 960 640C953.6 628.3 939.1 599.9 935 590C930.9 580.1 922.1 558.5 925 555Z" fill="#00c7ff" stroke="#111" stroke-width="0.8" stroke-opacity="0.75"/>
<path d="M945 580C945.8 576.5 959.8 583 965 590C970.2 597 985.3 628.9 990 640C994.7 651.1 1005.6 681.5 1005 685C1004.4 688.5 990.5 677.6 985 670C979.5 662.4 962.7 630.5 958 620C953.3 609.5 944.2 583.5 945 580Z" fill="#1a70f0" stroke="#111" stroke-width="0.6" stroke-opacity="0.75"/>
<path d="M780 540C793.3 540.8 835 543.3 860 545C885 546.7 918.3 549.2 930 550" fill="none" stroke="#103050" stroke-width="4" stroke-opacity="0.5"/>
<path d="M1100 540C1116.7 540.8 1166.7 545 1200 545C1233.3 545 1283.3 540.8 1300 540" fill="none" stroke="#204020" stroke-width="4" stroke-opacity="0.5"/>
<path d="M1090 635C1100 634.2 1131.7 632.5 1150 630C1168.3 627.5 1191.7 621.7 1200 620" fill="none" stroke="#204020" stroke-width="4" stroke-opacity="0.5"/>
<path d="M680 735C685.8 728.5 741.7 722.8 760 722C778.3 721.2 880.8 724.3 900 725C919.2 725.7 990 724.6 990 730C990 735.4 919.2 780 900 790C880.8 800 776.7 842.5 760 850C743.3 857.5 705.8 884.2 700 880C694.2 875.8 691.7 812.1 690 800C688.3 787.9 674.2 741.5 680 735Z" fill="#80ff80" stroke="#111" stroke-width="0.8" stroke-opacity="0.75"/>
<path d="M586 730C587.9 709.5 602.4 718 605 725C607.6 732 611.7 782.5 612 800C612.3 817.5 610.6 887 608 900C605.4 913 588.2 947 586 930C583.8 913 584.1 750.5 586 730Z" fill="#80ff80" stroke="#111" stroke-width="0.6" stroke-opacity="0.75"/>
<path d="M642 730C643.6 715.5 656 718 658 725C660 732 662.3 784.5 662 800C661.7 815.5 657 873 655 880C653 887 643.3 885 642 870C640.7 855 640.4 744.5 642 730Z" fill="#f5ff0a" stroke="#111" stroke-width="0.6" stroke-opacity="0.75"/>
<path d="M672 735C672.8 722 686.2 723.5 688 730C689.8 736.5 690.8 787 690 800C689.2 813 681.8 866.5 680 860C678.2 853.5 671.2 748 672 735Z" fill="#f5ff0a" stroke="#111" stroke-width="0.6" stroke-opacity="0.75"/>
<path d="M610 930L700 780L800 760L990 730L990 745Z" fill="url(#mot)" fill-opacity="0.9"/>
<path d="M1090 530L1400 525L1400 535L1100 690Z" fill="url(#mot)" fill-opacity="0.8"/>
<path d="M770 530L940 530L940 600L770 600Z" fill="url(#mot2)" fill-opacity="0.8"/>
<path d="M1100 170L1300 170L1300 340L1100 340Z" fill="url(#motb)" fill-opacity="0.6"/>
<path d="M600 935L700 880L800 830L900 778L1000 728L1100 676L1200 625L1400 522L1400 500L1250 560L1100 640L950 700L800 790L700 820L640 880Z" fill="url(#motd)" fill-opacity="0.9"/>
<path d="M1100 120L1300 120L1300 200L1100 200Z" fill="url(#motb)" fill-opacity="0.6"/>
</g>
<g transform="translate(1635 2220) scale(0.5)">
<rect x="645" y="105" width="765" height="405" fill="#f5ff0a"/>
<path d="M658 105C660.3 65.5 666 95.5 668 110C670 124.5 676.3 226 678 250C679.7 274 682.3 333 685 350C687.7 367 699.5 411 705 420C710.5 429 746 431.5 740 440C734 448.5 653.2 538.5 645 505C636.8 471.5 655.7 144.5 658 105Z" fill="#80ff80" stroke="#111" stroke-width="0.8" stroke-opacity="0.75"/>
<path d="M710 250C713.5 243.5 731 236.8 740 235C749 233.2 789 231.5 800 232C811 232.5 844.5 233.2 850 240C855.5 246.8 855 287 855 300C855 313 855.5 360.5 850 370C844.5 379.5 811 392 800 395C789 398 748.5 402.5 740 400C731.5 397.5 718.5 380 715 370C711.5 360 705.5 312 705 300C704.5 288 706.5 256.5 710 250Z" fill="#ff9e00" stroke="#111" stroke-width="2.5" stroke-opacity="0.75"/>
<path d="M855 250C859 241.5 890.5 244.5 900 245C909.5 245.5 944 249.5 950 255C956 260.5 965 292.5 960 300C955 307.5 910 327 900 330C890 333 864.5 338 860 330C855.5 322 851 258.5 855 250Z" fill="#ff9e00" stroke="#111" stroke-width="0.8" stroke-opacity="0.75"/>
<path d="M850 185C854.5 180 885 168 900 165C915 162 980 156.5 1000 155C1020 153.5 1083 149.5 1100 150C1117 150.5 1165 155 1170 160C1175 165 1159 193.5 1150 200C1141 206.5 1095 222.5 1080 225C1065 227.5 1018 225 1000 225C982 225 914.5 226 900 225C885.5 224 860 219 855 215C850 211 845.5 190 850 185Z" fill="#80ff80" stroke="#111" stroke-width="0.8" stroke-opacity="0.75"/>
<path d="M1020 190C1023.5 185.7 1048.3 179.2 1060 178C1071.7 176.8 1111.8 177.4 1120 180C1128.2 182.6 1134.7 195.6 1130 200C1125.3 204.4 1091.7 216.2 1080 218C1068.3 219.8 1037 218.3 1030 215C1023 211.7 1016.5 194.3 1020 190Z" fill="#1fffe0" stroke="#111" stroke-width="0.8" stroke-opacity="0.75"/>
<path d="M700 110C714.5 107.8 835.5 107.8 850 110C864.5 112.2 854 129.2 845 132C836 134.8 774 138 760 138C746 138 711 134.8 705 132C699 129.2 685.5 112.2 700 110Z" fill="#ff9e00" stroke="#111" stroke-width="0.8" stroke-opacity="0.75"/>
<path d="M1180 110C1200 107 1385 106.5 1400 110C1415 113.5 1344 141 1330 145C1316 149 1273 150.5 1260 150C1247 149.5 1208 144 1200 140C1192 136 1160 113 1180 110Z" fill="#ff9e00" stroke="#111" stroke-width="0.8" stroke-opacity="0.75"/>
<path d="M1230 115C1238 112.7 1323 112.7 1330 115C1337 117.3 1308 135.7 1300 138C1292 140.3 1257 140.3 1250 138C1243 135.7 1222 117.3 1230 115Z" fill="#fa0000"/>
<path d="M700 468L1400 110L1400 140L1100 240L900 330L760 440Z" fill="url(#mot)" fill-opacity="0.95"/>
<path d="M850 240L1100 240L900 380L720 450L720 400L850 380Z" fill="url(#mot)" fill-opacity="0.8"/>
<path d="M700 110L1400 110L1300 160L700 140Z" fill="url(#motr)" fill-opacity="0.7"/>
<path d="M860 245C876.7 245.8 930 250.8 960 250C990 249.2 1026.7 241.7 1040 240" fill="none" stroke="#403010" stroke-width="4" stroke-opacity="0.5"/>
<path d="M700 470L1400 112L1400 125L1250 150L1100 215L950 300L820 380L720 440Z" fill="url(#motd)" fill-opacity="0.95"/>
<path d="M1150 112L1400 112L1250 190L1180 200Z" fill="url(#motd)" fill-opacity="0.9"/>
<rect x="654" y="105" width="7" height="395" fill="#1c3824"/>
</g>
<path d="M1533 2689.2L2335 2275.8" stroke="#0c140c" stroke-opacity="0.9" stroke-width="3.5" fill="none"/>
</g></g>
<text class="t" text-anchor="end" x="1478.5" y="2315.5">1000</text>
<text class="t" text-anchor="end" x="1472" y="2375">900</text>
<text class="t" text-anchor="end" x="1472" y="2438">800</text>
<text class="t" text-anchor="end" x="1472" y="2494">700</text>
<text class="t" text-anchor="end" x="1472" y="2556.5">600</text>
<text class="t" text-anchor="end" x="1472" y="2615.5">500</text>
<text class="t" text-anchor="end" x="1472" y="2675.5">400</text>
<text class="t" text-anchor="middle" x="1574.6" y="2754">400</text>
<text class="t" text-anchor="middle" x="1680.6" y="2756">500</text>
<text class="t" text-anchor="middle" x="1808.1" y="2756">600</text>
<text class="t" text-anchor="middle" x="1929.1" y="2755.5">700</text>
<text class="t" text-anchor="middle" x="2043.1" y="2755">800</text>
<text class="t" text-anchor="middle" x="2160.6" y="2755">900</text>
<text class="t" text-anchor="middle" x="2279.1" y="2754.5">1000</text>
<text class="c" x="2375" y="2326.5">0.2</text>
<text class="c" x="2375" y="2409">0.1</text>
<text class="c" x="2375" y="2491.5">0</text>
<text class="c" x="2375" y="2574.5">-0.1</text>
<text class="c" x="2375" y="2657">-0.2</text>
<text class="r" style="font-size:43px" x="2366" y="2235">r</text>
<text class="p" style="font-weight:normal;font-size:55px" x="1255" y="2291.5">(<tspan style="font-weight:bold">j</tspan>)</text>
<rect x="2345" y="2277.5" width="22.5" height="412.5" fill="url(#jet)"/>
<ellipse cx="1523.5" cy="2662" rx="1.9" ry="8" fill="#c4c4c4"/>
<ellipse cx="1523.5" cy="2602.9" rx="1.9" ry="8" fill="#c4c4c4"/>
<ellipse cx="1523.5" cy="2543.8" rx="1.9" ry="8" fill="#c4c4c4"/>
<ellipse cx="1523.5" cy="2484.8" rx="1.9" ry="8" fill="#c4c4c4"/>
<ellipse cx="1523.5" cy="2425.7" rx="1.9" ry="8" fill="#c4c4c4"/>
<ellipse cx="1523.5" cy="2366.6" rx="1.9" ry="8" fill="#c4c4c4"/>
</g>
<!-- panel k -->
<g>
<path d="M922.1 2807.5V3239M862.5 3208.2H1699M1041.4 2807.5V3239M862.5 3146.5H1699M1160.7 2807.5V3239M862.5 3084.9H1699M1280 2807.5V3239M862.5 3023.2H1699M1399.3 2807.5V3239M862.5 2961.6H1699M1518.6 2807.5V3239M862.5 2900H1699M1637.9 2807.5V3239M862.5 2838.3H1699" stroke="#f5f5f5" stroke-width="1.4" fill="none"/>
<path d="M862.5 3239H1699V2807.5M922.1 3239v-8M1699 3208.2h-8M1041.4 3239v-8M1699 3146.5h-8M1160.7 3239v-8M1699 3084.9h-8M1280 3239v-8M1699 3023.2h-8M1399.3 3239v-8M1699 2961.6h-8M1518.6 3239v-8M1699 2900h-8M1637.9 3239v-8M1699 2838.3h-8" stroke="#cfcfcf" stroke-width="1.8" fill="none"/>
<g clip-path="url(#cp_k)"><g filter="url(#soft)">
<rect x="855" y="2800" width="855" height="445" fill="#ffa300"/>
<g transform="translate(540 2749) scale(0.5)">
<rect x="635" y="105" width="437" height="410" rx="40" fill="#b8ff47" stroke="#111" stroke-width="0.8" stroke-opacity="0.75"/>
<rect x="652" y="105" width="408" height="395" rx="45" fill="#1affe5" stroke="#111" stroke-width="0.8" stroke-opacity="0.75"/>
<path d="M650 110C651.2 74 658.5 101 660 120C661.5 139 664.2 267 665 300C665.8 333 668.5 431 668 450C667.5 469 662 487 660 490C658 493 649 518 648 480C647 442 648.8 146 650 110Z" fill="#b8ff47" stroke="#111" stroke-width="0.6" stroke-opacity="0.75"/>
<path d="M730 260C734.4 248.3 751.8 240.6 760 240C768.2 239.4 789.5 254.4 800 255C810.5 255.6 832.5 246.8 850 245C867.5 243.2 930.2 238.2 950 240C969.8 241.8 1008.9 250.7 1020 260C1031.1 269.3 1041.7 301.3 1045 320C1048.3 338.7 1049.8 402.5 1048 420C1046.2 437.5 1040.3 462.4 1030 470C1019.7 477.6 982.2 483.8 960 485C937.8 486.2 863.3 481.8 840 480C816.7 478.2 772.8 475.8 760 470C747.2 464.2 734.4 445.2 730 430C725.6 414.8 722 359.8 722 340C722 320.2 725.6 271.7 730 260Z" fill="#1a70f0" stroke="#111" stroke-width="2.5" stroke-opacity="0.75"/>
<path d="M750 115C779.8 107.4 969.7 108.6 1000 115C1030.3 121.4 1011.2 161.2 1010 170C1008.8 178.8 995.8 186.5 990 190C984.2 193.5 970.5 197.7 960 200C949.5 202.3 911.7 210.6 900 210C888.3 209.4 869.3 192.7 860 195C850.7 197.3 828.2 229.4 820 230C811.8 230.6 797 200.6 790 200C783 199.4 765.2 227.3 760 225C754.8 222.7 746.2 192.8 745 180C743.8 167.2 720.2 122.6 750 115Z" fill="#1a70f0" stroke="#111" stroke-width="2.5" stroke-opacity="0.75"/>
<path d="M685 150C686.8 134 697.7 125 700 140C702.3 155 707.5 270 708 300C708.5 330 706.8 425 705 440C703.2 455 692.3 464 690 450C687.7 436 682.5 330 682 300C681.5 270 683.2 166 685 150Z" fill="#1a70f0" stroke="#111" stroke-width="0.6" stroke-opacity="0.75"/>
<path d="M715 130C716.3 117.5 726.3 113 728 125C729.7 137 732.3 232.5 732 250C731.7 267.5 726.7 300 725 300C723.3 300 716 267 715 250C714 233 713.7 142.5 715 130Z" fill="#1a70f0" stroke="#111" stroke-width="0.6" stroke-opacity="0.75"/>
<path d="M1100 160C1108 152.5 1144.5 154.5 1150 150C1155.5 145.5 1150 118.5 1155 115C1160 111.5 1194.5 109.5 1200 115C1205.5 120.5 1206 161.5 1210 170C1214 178.5 1234 194 1240 200C1246 206 1267 223 1270 230C1273 237 1274 264 1270 270C1266 276 1234.5 284 1230 290C1225.5 296 1221 324.5 1225 330C1229 335.5 1265 339.5 1270 345C1275 350.5 1282 379.5 1275 385C1268 390.5 1211.5 400.5 1200 400C1188.5 399.5 1164.5 390 1160 380C1155.5 370 1158 313 1155 300C1152 287 1135.5 253 1130 250C1124.5 247 1106 272.5 1100 270C1094 267.5 1070 236 1070 225C1070 214 1092 167.5 1100 160Z" fill="#ff0f00" stroke="#111" stroke-width="2.5" stroke-opacity="0.75"/>
<path d="M1290 110C1310 103 1461 73 1480 110C1499 147 1483 440 1480 480C1477 520 1462 508 1450 510C1438 512 1375 503 1360 500C1345 497 1309 486 1300 480C1291 474 1270.5 448 1270 440C1269.5 432 1293 411 1295 400C1297 389 1289.5 345 1290 330C1290.5 315 1301 265 1300 250C1299 235 1281 194 1280 180C1279 166 1270 117 1290 110Z" fill="#b8ff47" stroke="#111" stroke-width="0.8" stroke-opacity="0.75"/>
<path d="M1340 110C1354.2 104 1459 91 1472 110C1485 129 1470.7 264 1470 300C1469.3 336 1468 451 1465 470C1462 489 1449.5 489 1440 490C1430.5 491 1381 485 1370 480C1359 475 1334 451 1330 440C1326 429 1329 384 1330 370C1331 356 1338 314 1340 300C1342 286 1351 243 1350 230C1349 217 1331 182 1330 170C1329 158 1325.8 116 1340 110Z" fill="#1affe5" stroke="#111" stroke-width="0.8" stroke-opacity="0.75"/>
<path d="M1370 270C1375.8 258.9 1392.4 247.3 1400 245C1407.6 242.7 1428.9 241.2 1435 250C1441.1 258.8 1449.7 300.2 1452 320C1454.3 339.8 1456.4 403.1 1455 420C1453.6 436.9 1447.6 459.8 1440 465C1432.4 470.2 1399.9 469.1 1390 465C1380.1 460.9 1359.7 444.6 1355 430C1350.3 415.4 1348.2 358.7 1350 340C1351.8 321.3 1364.2 281.1 1370 270Z" fill="#1a70f0" stroke="#111" stroke-width="2.5" stroke-opacity="0.75"/>
<path d="M1395 140L1445 140L1445 195L1395 195Z" fill="url(#motb)" fill-opacity="0.9"/>
<path d="M640 545C644 528 675 544.5 680 550C685 555.5 691 591 690 600C689 609 674 630 670 640C666 650 653 692 650 700C647 708 641 735.5 640 720C639 704.5 636 562 640 545Z" fill="#1affe5" stroke="#111" stroke-width="0.8" stroke-opacity="0.75"/>
<path d="M680 560C687.5 555.5 742 555 760 555C778 555 837.5 559 860 560C882.5 561 971 562.5 985 565C999 567.5 1008.5 582.5 1000 585C991.5 587.5 920 588.5 900 590C880 591.5 814 597 800 600C786 603 768 616 760 620C752 624 726 632 720 640C714 648 706 692 700 700C694 708 665.4 714 660 720C654.6 726 647.4 762 646 760C644.6 758 643.6 712 646 700C648.4 688 666.1 650 670 640C673.9 630 684 608 685 600C686 592 672.5 564.5 680 560Z" fill="#b8ff47" stroke="#111" stroke-width="0.8" stroke-opacity="0.75"/>
<ellipse cx="712" cy="578" rx="16" ry="18" fill="#1affe5" stroke="#111" stroke-width="0.8" stroke-opacity="0.75"/>
<ellipse cx="757" cy="578" rx="16" ry="18" fill="#1affe5" stroke="#111" stroke-width="0.8" stroke-opacity="0.75"/>
<ellipse cx="805" cy="578" rx="16" ry="18" fill="#1affe5" stroke="#111" stroke-width="0.8" stroke-opacity="0.75"/>
<path d="M985 575C987 570.5 1028.5 557.7 1040 555C1051.5 552.3 1079 548.3 1100 548C1121 547.7 1218 549.8 1250 552C1282 554.2 1403 545.2 1420 570C1437 594.8 1452 777 1420 800C1388 823 1133 808 1100 800C1067 792 1094 735 1090 720C1086 705 1067 662 1060 650C1053 638 1027.5 607.5 1020 600C1012.5 592.5 983 579.5 985 575Z" fill="#1a70f0" stroke="#111" stroke-width="2.5" stroke-opacity="0.75"/>
<path d="M1040 552C1040 550.6 1079 546.2 1100 546C1121 545.8 1220 547.8 1250 550C1280 552.2 1395 565.5 1400 568C1405 570.5 1320 575.6 1300 575C1280 574.4 1220 563.5 1200 562C1180 560.5 1116 561 1100 560C1084 559 1040 553.4 1040 552Z" fill="#0618a8"/>
<path d="M1020 600C1022.3 597.7 1043 628.3 1050 640C1057 651.7 1071.8 690.7 1080 700C1088.2 709.3 1117.7 714.8 1120 720C1122.3 725.2 1107 745 1100 745C1093 745 1068.2 729.9 1060 720C1051.8 710.1 1034.7 674 1030 660C1025.3 646 1017.7 602.3 1020 600Z" fill="#1affe5" stroke="#111" stroke-width="0.8" stroke-opacity="0.75"/>
<path d="M950 610C955 606 992 597 1000 600C1008 603 1024 631 1030 640C1036 649 1054 682 1060 690C1066 698 1087.5 714 1090 720C1092.5 726 1089 746.5 1085 750C1081 753.5 1055.5 758 1050 755C1044.5 752 1035 725.5 1030 720C1025 714.5 1008 703 1000 700C992 697 960 690.5 950 690C940 689.5 904.5 696 900 695C895.5 694 900 683.5 905 680C910 676.5 950.5 662.5 950 660C949.5 657.5 904.5 657 900 655C895.5 653 900 641.5 905 640C910 638.5 945.5 643 950 640C954.5 637 945 614 950 610Z" fill="#ff0f00" stroke="#111" stroke-width="2.5" stroke-opacity="0.75"/>
<path d="M1170 570L1400 570L1170 700Z" fill="url(#motb)" fill-opacity="0.9"/>
<path d="M900 600L1000 600L1000 700L900 700Z" fill="url(#motr)" fill-opacity="0.8"/>
<path d="M660 700L900 700L900 730L660 730Z" fill="url(#motr)" fill-opacity="0.6"/>
<path d="M820 800L960 800L830 870Z" fill="url(#mot)" fill-opacity="0.7"/>
<path d="M760 120L1000 120L1000 220L760 220Z" fill="url(#motb)" fill-opacity="0.5"/>
<path d="M640 770C643.3 750.8 670 759.6 680 760C690 760.4 746.7 772.5 760 775C773.3 777.5 824.2 787.9 840 790C855.8 792.1 936.7 800 950 800C963.3 800 1004.2 785.8 1000 790C995.8 794.2 930 833.3 900 850C870 866.7 661.7 996.7 640 990C618.3 983.3 636.7 789.2 640 770Z" fill="#b8ff47" stroke="#111" stroke-width="0.8" stroke-opacity="0.75"/>
<rect x="650" y="775" width="40" height="185" rx="16" fill="#1affe5" stroke="#111" stroke-width="0.8" stroke-opacity="0.75"/>
<rect x="700" y="785" width="28" height="145" rx="12" fill="#1affe5" stroke="#111" stroke-width="0.8" stroke-opacity="0.75"/>
<rect x="742" y="790" width="26" height="110" rx="12" fill="#1affe5" stroke="#111" stroke-width="0.8" stroke-opacity="0.75"/>
<rect x="795" y="800" width="20" height="70" rx="10" fill="#1affe5" stroke="#111" stroke-width="0.8" stroke-opacity="0.75"/>
<path d="M840 810C845.5 805.5 891 804.5 900 805C909 805.5 932 811 930 815C928 819 888.5 841.5 880 845C871.5 848.5 849 853.5 845 850C841 846.5 834.5 814.5 840 810Z" fill="#1affe5" stroke="#111" stroke-width="0.8" stroke-opacity="0.75"/>
</g>
<g transform="translate(1200 2749) scale(0.5)">
<rect x="215" y="105" width="795" height="420" fill="#1affe5"/>
<path d="M215 110C223.5 69 289.7 105 300 110C310.3 115 317.5 148 318 160C318.5 172 304.3 216 305 230C305.7 244 322 287 325 300C328 313 335.5 350 335 360C334.5 370 317.5 393 320 400C322.5 407 362 423 360 430C358 437 314.5 461 300 470C285.5 479 223.5 556 215 520C206.5 484 206.5 151 215 110Z" fill="#b8ff47" stroke="#111" stroke-width="2.5" stroke-opacity="0.75"/>
<path d="M245 440C245.6 430.7 251.5 415.2 255 410C258.5 404.8 268.6 395.6 275 395C281.4 394.4 302.4 400.9 310 405C317.6 409.1 341.2 423.6 340 430C338.8 436.4 310.5 453 300 460C289.5 467 256.4 492.3 250 490C243.6 487.7 244.4 449.3 245 440Z" fill="#ffa300" stroke="#111" stroke-width="2.5" stroke-opacity="0.75"/>
<path d="M455 300C458 294.5 473.5 286 480 285C486.5 284 512 288.5 520 290C528 291.5 552 299.5 560 300C568 300.5 602 292 600 295C598 298 553 323 540 330C527 337 479 364 470 365C461 366 451.5 346.5 450 340C448.5 333.5 452 305.5 455 300Z" fill="#b8ff47" stroke="#111" stroke-width="0.8" stroke-opacity="0.75"/>
<path d="M580 240C582.3 234.2 608.3 226.4 620 225C631.7 223.6 670.7 225.1 680 228C689.3 230.9 702.3 243.9 700 250C697.7 256.1 671.7 277.1 660 280C648.3 282.9 609.3 279.7 600 275C590.7 270.3 577.7 245.8 580 240Z" fill="#1a70f0" stroke="#111" stroke-width="0.8" stroke-opacity="0.75"/>
<path d="M690 160C690 151.8 709.5 134.7 720 130C730.5 125.3 764.8 119.4 780 120C795.2 120.6 838.3 130.3 850 135C861.7 139.7 883.5 152.4 880 160C876.5 167.6 834 193 820 200C806 207 771.7 220 760 220C748.3 220 728.2 207 720 200C711.8 193 690 168.2 690 160Z" fill="#b8ff47" stroke="#111" stroke-width="0.8" stroke-opacity="0.75"/>
<path d="M760 175C760.7 171.4 779.7 167.1 785 168C790.3 168.9 800.7 178.4 800 182C799.3 185.6 785.3 195.9 780 195C774.7 194.1 759.3 178.6 760 175Z" fill="#ffa300" stroke="#111" stroke-width="0.6" stroke-opacity="0.75"/>
<path d="M900 125C905.5 121.5 991 112.5 995 115C999 117.5 949.5 149 940 150C930.5 151 894.5 128.5 900 125Z" fill="#1a70f0" stroke="#111" stroke-width="0.6" stroke-opacity="0.75"/>
<path d="M375 375C379 372 412.5 365 420 365C427.5 365 450 372.3 450 375C450 377.7 427 390 420 392C413 394 384.5 396.7 380 395C375.5 393.3 371 378 375 375Z" fill="#1a70f0"/>
</g>
<path d="M862.5 3237.8L1697.5 2806.2" stroke="#203028" stroke-opacity="0.55" stroke-width="2.5" fill="none"/>
</g></g>
<text class="t" text-anchor="end" x="808.5" y="2853">1000</text>
<text class="t" text-anchor="end" x="802" y="2911.5">900</text>
<text class="t" text-anchor="end" x="802" y="2978">800</text>
<text class="t" text-anchor="end" x="802" y="3032">700</text>
<text class="t" text-anchor="end" x="802" y="3095.5">600</text>
<text class="t" text-anchor="end" x="802" y="3151.5">500</text>
<text class="t" text-anchor="end" x="802" y="3213">400</text>
<text class="t" text-anchor="middle" x="937.1" y="3293">400</text>
<text class="t" text-anchor="middle" x="1044.6" y="3295.5">500</text>
<text class="t" text-anchor="middle" x="1173.1" y="3295.5">600</text>
<text class="t" text-anchor="middle" x="1294.1" y="3295">700</text>
<text class="t" text-anchor="middle" x="1405.6" y="3295">800</text>
<text class="t" text-anchor="middle" x="1525.6" y="3295">900</text>
<text class="t" text-anchor="middle" x="1641.6" y="3294">1000</text>
<text class="c" x="1740" y="2816">0.3</text>
<text class="c" x="1740" y="2883">0.2</text>
<text class="c" x="1740" y="2949.5">0.1</text>
<text class="c" x="1740" y="3016">0</text>
<text class="c" x="1740" y="3083">-0.1</text>
<text class="c" x="1740" y="3149.5">-0.2</text>
<text class="c" x="1740" y="3216">-0.3</text>
<text class="r" style="font-size:24px" x="1716" y="2791.5">r</text>
<text class="p" x="562.5" y="2816.5">(k)</text>
<rect x="1710" y="2807.5" width="21.5" height="429" fill="url(#jet)"/>
</g>
</svg>
</body>
</html>
